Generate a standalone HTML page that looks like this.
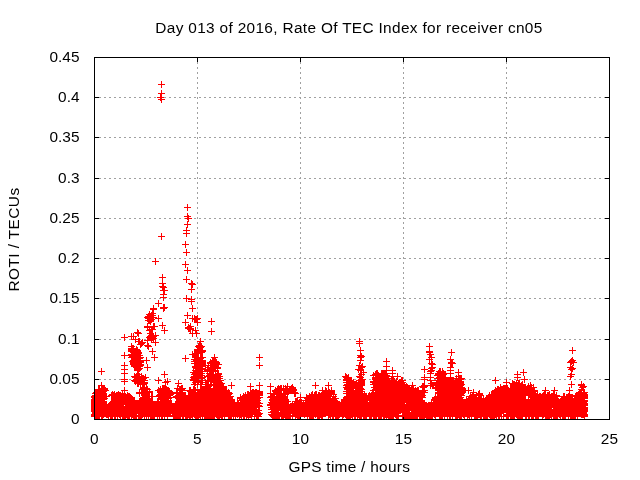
<!DOCTYPE html>
<html><head><meta charset="utf-8"><title>ROTI plot</title>
<style>
html,body{margin:0;padding:0;background:#fff;}
svg{display:block;}
text{font-family:"Liberation Sans",sans-serif;font-size:15.4px;fill:#000;letter-spacing:0.28px;}
</style></head><body>
<svg width="640" height="480" viewBox="0 0 640 480">
<rect x="0" y="0" width="640" height="480" fill="#fff"/>

<g stroke="#a0a0a0" stroke-width="1" stroke-dasharray="2 3" shape-rendering="crispEdges" fill="none">
<path d="M99 379.5H605"/>
<path d="M99 339.5H605"/>
<path d="M99 298.5H605"/>
<path d="M99 258.5H605"/>
<path d="M99 218.5H605"/>
<path d="M99 178.5H605"/>
<path d="M99 137.5H605"/>
<path d="M99 97.5H605"/>
<path d="M197.5 62V415"/>
<path d="M300.5 62V415"/>
<path d="M403.5 62V415"/>
<path d="M506.5 62V415"/>
</g>
<g stroke="#000" stroke-width="1" shape-rendering="crispEdges" fill="none">
<path d="M94 419.5h5M610 419.5h-5"/>
<path d="M94 379.5h5M610 379.5h-5"/>
<path d="M94 339.5h5M610 339.5h-5"/>
<path d="M94 298.5h5M610 298.5h-5"/>
<path d="M94 258.5h5M610 258.5h-5"/>
<path d="M94 218.5h5M610 218.5h-5"/>
<path d="M94 178.5h5M610 178.5h-5"/>
<path d="M94 137.5h5M610 137.5h-5"/>
<path d="M94 97.5h5M610 97.5h-5"/>
<path d="M94 57.5h5M610 57.5h-5"/>
<path d="M94.5 420v-5M94.5 57v5"/>
<path d="M197.5 420v-5M197.5 57v5"/>
<path d="M300.5 420v-5M300.5 57v5"/>
<path d="M403.5 420v-5M403.5 57v5"/>
<path d="M506.5 420v-5M506.5 57v5"/>
<path d="M609.5 420v-5M609.5 57v5"/>
</g>
<g><path d="M91 396.5h7M94.5 393v7M91 397.5h7M94.5 394v7M91 399.5h7M94.5 396v7M91 400.5h7M94.5 397v7M91 401.5h7M94.5 398v7M91 402.5h7M94.5 399v7M91 403.5h7M94.5 400v7M91 404.5h7M94.5 401v7M91 405.5h7M94.5 402v7M91 406.5h7M94.5 403v7M91 407.5h7M94.5 404v7M91 408.5h7M94.5 405v7M91 409.5h7M94.5 406v7M91 410.5h7M94.5 407v7M91 411.5h7M94.5 408v7M91 414.5h7M94.5 411v7M91 415.5h7M94.5 412v7M91 416.5h7M94.5 413v7M92 393.5h7M95.5 390v7M92 395.5h7M95.5 392v7M92 396.5h7M95.5 393v7M92 397.5h7M95.5 394v7M92 398.5h7M95.5 395v7M92 407.5h7M95.5 404v7M92 412.5h7M95.5 409v7M92 413.5h7M95.5 410v7M92 414.5h7M95.5 411v7M92 415.5h7M95.5 412v7M93 392.5h7M96.5 389v7M93 397.5h7M96.5 394v7M93 398.5h7M96.5 395v7M93 403.5h7M96.5 400v7M93 406.5h7M96.5 403v7M93 407.5h7M96.5 404v7M93 408.5h7M96.5 405v7M93 411.5h7M96.5 408v7M93 412.5h7M96.5 409v7M93 413.5h7M96.5 410v7M93 414.5h7M96.5 411v7M93 416.5h7M96.5 413v7M94 392.5h7M97.5 389v7M94 394.5h7M97.5 391v7M94 396.5h7M97.5 393v7M94 398.5h7M97.5 395v7M94 399.5h7M97.5 396v7M94 402.5h7M97.5 399v7M94 404.5h7M97.5 401v7M94 408.5h7M97.5 405v7M94 410.5h7M97.5 407v7M94 411.5h7M97.5 408v7M94 413.5h7M97.5 410v7M94 414.5h7M97.5 411v7M94 415.5h7M97.5 412v7M94 416.5h7M97.5 413v7M95 389.5h7M98.5 386v7M95 391.5h7M98.5 388v7M95 397.5h7M98.5 394v7M95 398.5h7M98.5 395v7M95 401.5h7M98.5 398v7M95 402.5h7M98.5 399v7M95 405.5h7M98.5 402v7M95 410.5h7M98.5 407v7M95 411.5h7M98.5 408v7M95 413.5h7M98.5 410v7M95 415.5h7M98.5 412v7M96 389.5h7M99.5 386v7M96 390.5h7M99.5 387v7M96 392.5h7M99.5 389v7M96 393.5h7M99.5 390v7M96 397.5h7M99.5 394v7M96 399.5h7M99.5 396v7M96 400.5h7M99.5 397v7M96 401.5h7M99.5 398v7M96 403.5h7M99.5 400v7M96 404.5h7M99.5 401v7M96 405.5h7M99.5 402v7M96 407.5h7M99.5 404v7M96 408.5h7M99.5 405v7M96 414.5h7M99.5 411v7M96 415.5h7M99.5 412v7M96 416.5h7M99.5 413v7M97 391.5h7M100.5 388v7M97 395.5h7M100.5 392v7M97 397.5h7M100.5 394v7M97 405.5h7M100.5 402v7M98 371.5h7M101.5 368v7M98 385.5h7M101.5 382v7M98 388.5h7M101.5 385v7M98 398.5h7M101.5 395v7M98 400.5h7M101.5 397v7M98 403.5h7M101.5 400v7M98 408.5h7M101.5 405v7M98 409.5h7M101.5 406v7M98 410.5h7M101.5 407v7M98 412.5h7M101.5 409v7M98 413.5h7M101.5 410v7M98 416.5h7M101.5 413v7M99 389.5h7M102.5 386v7M99 391.5h7M102.5 388v7M99 398.5h7M102.5 395v7M99 399.5h7M102.5 396v7M99 405.5h7M102.5 402v7M99 406.5h7M102.5 403v7M99 408.5h7M102.5 405v7M99 409.5h7M102.5 406v7M99 413.5h7M102.5 410v7M99 416.5h7M102.5 413v7M100 388.5h7M103.5 385v7M100 389.5h7M103.5 386v7M100 391.5h7M103.5 388v7M100 394.5h7M103.5 391v7M100 396.5h7M103.5 393v7M100 397.5h7M103.5 394v7M100 399.5h7M103.5 396v7M100 401.5h7M103.5 398v7M100 402.5h7M103.5 399v7M100 403.5h7M103.5 400v7M100 411.5h7M103.5 408v7M100 413.5h7M103.5 410v7M100 414.5h7M103.5 411v7M101 388.5h7M104.5 385v7M101 389.5h7M104.5 386v7M101 390.5h7M104.5 387v7M101 398.5h7M104.5 395v7M101 405.5h7M104.5 402v7M101 412.5h7M104.5 409v7M102 390.5h7M105.5 387v7M102 396.5h7M105.5 393v7M102 405.5h7M105.5 402v7M102 407.5h7M105.5 404v7M102 409.5h7M105.5 406v7M102 410.5h7M105.5 407v7M102 412.5h7M105.5 409v7M102 413.5h7M105.5 410v7M103 396.5h7M106.5 393v7M103 405.5h7M106.5 402v7M103 409.5h7M106.5 406v7M103 414.5h7M106.5 411v7M104 407.5h7M107.5 404v7M104 412.5h7M107.5 409v7M104 414.5h7M107.5 411v7M105 406.5h7M108.5 403v7M105 408.5h7M108.5 405v7M105 409.5h7M108.5 406v7M105 410.5h7M108.5 407v7M105 412.5h7M108.5 409v7M105 413.5h7M108.5 410v7M105 415.5h7M108.5 412v7M106 405.5h7M109.5 402v7M106 408.5h7M109.5 405v7M106 411.5h7M109.5 408v7M106 412.5h7M109.5 409v7M107 404.5h7M110.5 401v7M107 405.5h7M110.5 402v7M107 407.5h7M110.5 404v7M107 410.5h7M110.5 407v7M107 411.5h7M110.5 408v7M107 413.5h7M110.5 410v7M107 414.5h7M110.5 411v7M107 416.5h7M110.5 413v7M108 395.5h7M111.5 392v7M108 403.5h7M111.5 400v7M108 408.5h7M111.5 405v7M108 409.5h7M111.5 406v7M108 410.5h7M111.5 407v7M108 411.5h7M111.5 408v7M108 415.5h7M111.5 412v7M108 416.5h7M111.5 413v7M109 394.5h7M112.5 391v7M109 403.5h7M112.5 400v7M109 408.5h7M112.5 405v7M109 411.5h7M112.5 408v7M109 415.5h7M112.5 412v7M109 416.5h7M112.5 413v7M110 395.5h7M113.5 392v7M110 406.5h7M113.5 403v7M111 394.5h7M114.5 391v7M111 396.5h7M114.5 393v7M111 397.5h7M114.5 394v7M111 399.5h7M114.5 396v7M111 400.5h7M114.5 397v7M111 403.5h7M114.5 400v7M111 406.5h7M114.5 403v7M111 416.5h7M114.5 413v7M112 396.5h7M115.5 393v7M112 398.5h7M115.5 395v7M112 399.5h7M115.5 396v7M112 400.5h7M115.5 397v7M112 401.5h7M115.5 398v7M112 402.5h7M115.5 399v7M112 411.5h7M115.5 408v7M112 414.5h7M115.5 411v7M112 416.5h7M115.5 413v7M113 395.5h7M116.5 392v7M113 398.5h7M116.5 395v7M113 403.5h7M116.5 400v7M113 404.5h7M116.5 401v7M113 407.5h7M116.5 404v7M113 409.5h7M116.5 406v7M113 410.5h7M116.5 407v7M113 411.5h7M116.5 408v7M113 412.5h7M116.5 409v7M113 413.5h7M116.5 410v7M114 395.5h7M117.5 392v7M114 398.5h7M117.5 395v7M114 403.5h7M117.5 400v7M114 411.5h7M117.5 408v7M114 414.5h7M117.5 411v7M114 415.5h7M117.5 412v7M115 394.5h7M118.5 391v7M115 398.5h7M118.5 395v7M115 406.5h7M118.5 403v7M115 407.5h7M118.5 404v7M115 411.5h7M118.5 408v7M115 412.5h7M118.5 409v7M116 395.5h7M119.5 392v7M116 396.5h7M119.5 393v7M116 400.5h7M119.5 397v7M116 401.5h7M119.5 398v7M116 402.5h7M119.5 399v7M116 405.5h7M119.5 402v7M116 407.5h7M119.5 404v7M116 408.5h7M119.5 405v7M116 412.5h7M119.5 409v7M116 414.5h7M119.5 411v7M117 395.5h7M120.5 392v7M117 396.5h7M120.5 393v7M117 400.5h7M120.5 397v7M117 402.5h7M120.5 399v7M117 404.5h7M120.5 401v7M117 407.5h7M120.5 404v7M117 412.5h7M120.5 409v7M117 413.5h7M120.5 410v7M117 415.5h7M120.5 412v7M117 416.5h7M120.5 413v7M118 397.5h7M121.5 394v7M118 399.5h7M121.5 396v7M118 400.5h7M121.5 397v7M118 402.5h7M121.5 399v7M118 403.5h7M121.5 400v7M118 406.5h7M121.5 403v7M118 407.5h7M121.5 404v7M118 408.5h7M121.5 405v7M118 410.5h7M121.5 407v7M118 411.5h7M121.5 408v7M119 393.5h7M122.5 390v7M119 395.5h7M122.5 392v7M119 396.5h7M122.5 393v7M119 400.5h7M122.5 397v7M119 401.5h7M122.5 398v7M119 402.5h7M122.5 399v7M119 403.5h7M122.5 400v7M119 406.5h7M122.5 403v7M119 412.5h7M122.5 409v7M119 415.5h7M122.5 412v7M119 416.5h7M122.5 413v7M120 399.5h7M123.5 396v7M120 402.5h7M123.5 399v7M120 403.5h7M123.5 400v7M120 406.5h7M123.5 403v7M120 408.5h7M123.5 405v7M120 411.5h7M123.5 408v7M120 412.5h7M123.5 409v7M120 416.5h7M123.5 413v7M121 337.5h7M124.5 334v7M121 355.5h7M124.5 352v7M121 365.5h7M124.5 362v7M121 369.5h7M124.5 366v7M121 373.5h7M124.5 370v7M121 379.5h7M124.5 376v7M121 381.5h7M124.5 378v7M121 390.5h7M124.5 387v7M121 394.5h7M124.5 391v7M121 416.5h7M124.5 413v7M122 396.5h7M125.5 393v7M122 397.5h7M125.5 394v7M122 398.5h7M125.5 395v7M122 400.5h7M125.5 397v7M122 402.5h7M125.5 399v7M122 403.5h7M125.5 400v7M122 404.5h7M125.5 401v7M122 407.5h7M125.5 404v7M122 408.5h7M125.5 405v7M122 412.5h7M125.5 409v7M122 413.5h7M125.5 410v7M122 414.5h7M125.5 411v7M122 415.5h7M125.5 412v7M122 416.5h7M125.5 413v7M123 397.5h7M126.5 394v7M123 398.5h7M126.5 395v7M123 399.5h7M126.5 396v7M123 400.5h7M126.5 397v7M123 402.5h7M126.5 399v7M123 406.5h7M126.5 403v7M123 409.5h7M126.5 406v7M123 413.5h7M126.5 410v7M123 414.5h7M126.5 411v7M124 395.5h7M127.5 392v7M124 398.5h7M127.5 395v7M124 401.5h7M127.5 398v7M124 402.5h7M127.5 399v7M124 404.5h7M127.5 401v7M124 408.5h7M127.5 405v7M124 409.5h7M127.5 406v7M124 410.5h7M127.5 407v7M124 411.5h7M127.5 408v7M124 416.5h7M127.5 413v7M125 396.5h7M128.5 393v7M125 398.5h7M128.5 395v7M125 402.5h7M128.5 399v7M125 403.5h7M128.5 400v7M125 405.5h7M128.5 402v7M125 411.5h7M128.5 408v7M125 415.5h7M128.5 412v7M126 396.5h7M129.5 393v7M126 399.5h7M129.5 396v7M126 401.5h7M129.5 398v7M126 402.5h7M129.5 399v7M126 403.5h7M129.5 400v7M126 404.5h7M129.5 401v7M126 407.5h7M129.5 404v7M126 409.5h7M129.5 406v7M126 415.5h7M129.5 412v7M126 416.5h7M129.5 413v7M127 397.5h7M130.5 394v7M127 400.5h7M130.5 397v7M127 403.5h7M130.5 400v7M127 405.5h7M130.5 402v7M127 406.5h7M130.5 403v7M127 408.5h7M130.5 405v7M127 409.5h7M130.5 406v7M127 412.5h7M130.5 409v7M127 413.5h7M130.5 410v7M128 336.5h7M131.5 333v7M128 346.5h7M131.5 343v7M128 348.5h7M131.5 345v7M128 349.5h7M131.5 346v7M128 350.5h7M131.5 347v7M128 351.5h7M131.5 348v7M128 354.5h7M131.5 351v7M128 355.5h7M131.5 352v7M128 357.5h7M131.5 354v7M128 398.5h7M131.5 395v7M128 400.5h7M131.5 397v7M128 401.5h7M131.5 398v7M128 402.5h7M131.5 399v7M128 405.5h7M131.5 402v7M128 409.5h7M131.5 406v7M128 410.5h7M131.5 407v7M128 411.5h7M131.5 408v7M128 412.5h7M131.5 409v7M128 414.5h7M131.5 411v7M128 416.5h7M131.5 413v7M129 348.5h7M132.5 345v7M129 351.5h7M132.5 348v7M129 354.5h7M132.5 351v7M129 356.5h7M132.5 353v7M129 361.5h7M132.5 358v7M129 401.5h7M132.5 398v7M129 403.5h7M132.5 400v7M129 410.5h7M132.5 407v7M129 411.5h7M132.5 408v7M129 412.5h7M132.5 409v7M129 414.5h7M132.5 411v7M130 336.5h7M133.5 333v7M130 348.5h7M133.5 345v7M130 351.5h7M133.5 348v7M130 352.5h7M133.5 349v7M130 355.5h7M133.5 352v7M130 360.5h7M133.5 357v7M130 361.5h7M133.5 358v7M130 362.5h7M133.5 359v7M130 363.5h7M133.5 360v7M130 364.5h7M133.5 361v7M130 400.5h7M133.5 397v7M130 404.5h7M133.5 401v7M130 406.5h7M133.5 403v7M130 412.5h7M133.5 409v7M130 415.5h7M133.5 412v7M130 416.5h7M133.5 413v7M131 352.5h7M134.5 349v7M131 354.5h7M134.5 351v7M131 358.5h7M134.5 355v7M131 365.5h7M134.5 362v7M131 366.5h7M134.5 363v7M131 376.5h7M134.5 373v7M131 380.5h7M134.5 377v7M131 400.5h7M134.5 397v7M131 402.5h7M134.5 399v7M131 404.5h7M134.5 401v7M131 406.5h7M134.5 403v7M131 411.5h7M134.5 408v7M131 416.5h7M134.5 413v7M132 339.5h7M135.5 336v7M132 351.5h7M135.5 348v7M132 352.5h7M135.5 349v7M132 354.5h7M135.5 351v7M132 357.5h7M135.5 354v7M132 366.5h7M135.5 363v7M132 377.5h7M135.5 374v7M132 380.5h7M135.5 377v7M132 381.5h7M135.5 378v7M132 405.5h7M135.5 402v7M132 407.5h7M135.5 404v7M132 408.5h7M135.5 405v7M132 409.5h7M135.5 406v7M132 413.5h7M135.5 410v7M132 416.5h7M135.5 413v7M133 349.5h7M136.5 346v7M133 352.5h7M136.5 349v7M133 359.5h7M136.5 356v7M133 362.5h7M136.5 359v7M133 367.5h7M136.5 364v7M133 376.5h7M136.5 373v7M133 377.5h7M136.5 374v7M133 379.5h7M136.5 376v7M133 403.5h7M136.5 400v7M133 404.5h7M136.5 401v7M133 406.5h7M136.5 403v7M133 409.5h7M136.5 406v7M133 411.5h7M136.5 408v7M133 413.5h7M136.5 410v7M133 415.5h7M136.5 412v7M134 332.5h7M137.5 329v7M134 350.5h7M137.5 347v7M134 351.5h7M137.5 348v7M134 353.5h7M137.5 350v7M134 364.5h7M137.5 361v7M134 366.5h7M137.5 363v7M134 368.5h7M137.5 365v7M134 369.5h7M137.5 366v7M134 370.5h7M137.5 367v7M134 377.5h7M137.5 374v7M134 380.5h7M137.5 377v7M134 383.5h7M137.5 380v7M135 333.5h7M138.5 330v7M135 341.5h7M138.5 338v7M135 352.5h7M138.5 349v7M135 353.5h7M138.5 350v7M135 358.5h7M138.5 355v7M135 360.5h7M138.5 357v7M135 363.5h7M138.5 360v7M135 364.5h7M138.5 361v7M135 369.5h7M138.5 366v7M135 374.5h7M138.5 371v7M135 376.5h7M138.5 373v7M135 377.5h7M138.5 374v7M135 380.5h7M138.5 377v7M135 383.5h7M138.5 380v7M135 406.5h7M138.5 403v7M135 407.5h7M138.5 404v7M135 413.5h7M138.5 410v7M135 415.5h7M138.5 412v7M135 416.5h7M138.5 413v7M136 341.5h7M139.5 338v7M136 355.5h7M139.5 352v7M136 358.5h7M139.5 355v7M136 360.5h7M139.5 357v7M136 366.5h7M139.5 363v7M136 368.5h7M139.5 365v7M136 376.5h7M139.5 373v7M136 378.5h7M139.5 375v7M136 381.5h7M139.5 378v7M136 392.5h7M139.5 389v7M136 393.5h7M139.5 390v7M136 401.5h7M139.5 398v7M136 404.5h7M139.5 401v7M136 407.5h7M139.5 404v7M136 408.5h7M139.5 405v7M136 410.5h7M139.5 407v7M136 411.5h7M139.5 408v7M136 416.5h7M139.5 413v7M137 344.5h7M140.5 341v7M137 357.5h7M140.5 354v7M137 360.5h7M140.5 357v7M137 361.5h7M140.5 358v7M137 362.5h7M140.5 359v7M137 364.5h7M140.5 361v7M137 365.5h7M140.5 362v7M137 380.5h7M140.5 377v7M137 383.5h7M140.5 380v7M137 384.5h7M140.5 381v7M137 400.5h7M140.5 397v7M137 404.5h7M140.5 401v7M137 406.5h7M140.5 403v7M137 409.5h7M140.5 406v7M137 410.5h7M140.5 407v7M137 411.5h7M140.5 408v7M137 412.5h7M140.5 409v7M137 413.5h7M140.5 410v7M137 416.5h7M140.5 413v7M138 343.5h7M141.5 340v7M138 376.5h7M141.5 373v7M138 377.5h7M141.5 374v7M138 392.5h7M141.5 389v7M138 400.5h7M141.5 397v7M138 402.5h7M141.5 399v7M138 407.5h7M141.5 404v7M138 408.5h7M141.5 405v7M138 411.5h7M141.5 408v7M138 413.5h7M141.5 410v7M138 415.5h7M141.5 412v7M139 342.5h7M142.5 339v7M139 378.5h7M142.5 375v7M139 382.5h7M142.5 379v7M139 383.5h7M142.5 380v7M139 392.5h7M142.5 389v7M139 398.5h7M142.5 395v7M139 400.5h7M142.5 397v7M139 402.5h7M142.5 399v7M139 403.5h7M142.5 400v7M139 405.5h7M142.5 402v7M139 409.5h7M142.5 406v7M139 413.5h7M142.5 410v7M139 414.5h7M142.5 411v7M140 378.5h7M143.5 375v7M140 384.5h7M143.5 381v7M140 387.5h7M143.5 384v7M140 388.5h7M143.5 385v7M140 389.5h7M143.5 386v7M140 397.5h7M143.5 394v7M140 398.5h7M143.5 395v7M140 399.5h7M143.5 396v7M140 402.5h7M143.5 399v7M140 406.5h7M143.5 403v7M140 407.5h7M143.5 404v7M140 410.5h7M143.5 407v7M140 412.5h7M143.5 409v7M141 380.5h7M144.5 377v7M141 382.5h7M144.5 379v7M141 383.5h7M144.5 380v7M141 387.5h7M144.5 384v7M141 390.5h7M144.5 387v7M141 394.5h7M144.5 391v7M141 397.5h7M144.5 394v7M141 399.5h7M144.5 396v7M141 400.5h7M144.5 397v7M141 402.5h7M144.5 399v7M141 403.5h7M144.5 400v7M141 405.5h7M144.5 402v7M141 406.5h7M144.5 403v7M141 408.5h7M144.5 405v7M141 411.5h7M144.5 408v7M141 416.5h7M144.5 413v7M142 377.5h7M145.5 374v7M142 392.5h7M145.5 389v7M142 393.5h7M145.5 390v7M142 394.5h7M145.5 391v7M142 397.5h7M145.5 394v7M142 400.5h7M145.5 397v7M142 409.5h7M145.5 406v7M142 411.5h7M145.5 408v7M142 413.5h7M145.5 410v7M143 360.5h7M146.5 357v7M143 388.5h7M146.5 385v7M143 392.5h7M146.5 389v7M143 393.5h7M146.5 390v7M143 398.5h7M146.5 395v7M143 400.5h7M146.5 397v7M143 403.5h7M146.5 400v7M143 408.5h7M146.5 405v7M143 409.5h7M146.5 406v7M143 410.5h7M146.5 407v7M143 414.5h7M146.5 411v7M143 416.5h7M146.5 413v7M144 317.5h7M147.5 314v7M144 326.5h7M147.5 323v7M144 327.5h7M147.5 324v7M144 340.5h7M147.5 337v7M144 345.5h7M147.5 342v7M144 367.5h7M147.5 364v7M144 389.5h7M147.5 386v7M144 391.5h7M147.5 388v7M144 392.5h7M147.5 389v7M144 400.5h7M147.5 397v7M144 401.5h7M147.5 398v7M144 402.5h7M147.5 399v7M144 403.5h7M147.5 400v7M144 404.5h7M147.5 401v7M144 407.5h7M147.5 404v7M144 409.5h7M147.5 406v7M144 411.5h7M147.5 408v7M144 412.5h7M147.5 409v7M144 413.5h7M147.5 410v7M145 316.5h7M148.5 313v7M145 318.5h7M148.5 315v7M145 320.5h7M148.5 317v7M145 346.5h7M148.5 343v7M145 396.5h7M148.5 393v7M145 398.5h7M148.5 395v7M145 399.5h7M148.5 396v7M145 401.5h7M148.5 398v7M145 405.5h7M148.5 402v7M145 408.5h7M148.5 405v7M145 409.5h7M148.5 406v7M145 411.5h7M148.5 408v7M145 413.5h7M148.5 410v7M145 415.5h7M148.5 412v7M145 416.5h7M148.5 413v7M146 314.5h7M149.5 311v7M146 317.5h7M149.5 314v7M146 318.5h7M149.5 315v7M146 320.5h7M149.5 317v7M146 330.5h7M149.5 327v7M146 337.5h7M149.5 334v7M146 391.5h7M149.5 388v7M146 392.5h7M149.5 389v7M146 399.5h7M149.5 396v7M146 400.5h7M149.5 397v7M146 402.5h7M149.5 399v7M146 405.5h7M149.5 402v7M146 406.5h7M149.5 403v7M146 409.5h7M149.5 406v7M146 412.5h7M149.5 409v7M146 413.5h7M149.5 410v7M147 316.5h7M150.5 313v7M147 318.5h7M150.5 315v7M147 319.5h7M150.5 316v7M147 321.5h7M150.5 318v7M147 333.5h7M150.5 330v7M147 336.5h7M150.5 333v7M147 402.5h7M150.5 399v7M147 403.5h7M150.5 400v7M147 404.5h7M150.5 401v7M147 406.5h7M150.5 403v7M147 407.5h7M150.5 404v7M147 408.5h7M150.5 405v7M147 410.5h7M150.5 407v7M147 415.5h7M150.5 412v7M147 416.5h7M150.5 413v7M148 315.5h7M151.5 312v7M148 317.5h7M151.5 314v7M148 319.5h7M151.5 316v7M148 329.5h7M151.5 326v7M148 335.5h7M151.5 332v7M148 338.5h7M151.5 335v7M148 339.5h7M151.5 336v7M148 396.5h7M151.5 393v7M148 401.5h7M151.5 398v7M148 402.5h7M151.5 399v7M148 406.5h7M151.5 403v7M148 407.5h7M151.5 404v7M148 408.5h7M151.5 405v7M148 410.5h7M151.5 407v7M148 414.5h7M151.5 411v7M148 416.5h7M151.5 413v7M149 313.5h7M152.5 310v7M149 315.5h7M152.5 312v7M149 329.5h7M152.5 326v7M149 335.5h7M152.5 332v7M149 336.5h7M152.5 333v7M149 337.5h7M152.5 334v7M149 351.5h7M152.5 348v7M149 396.5h7M152.5 393v7M149 401.5h7M152.5 398v7M149 403.5h7M152.5 400v7M149 404.5h7M152.5 401v7M149 405.5h7M152.5 402v7M149 407.5h7M152.5 404v7M149 408.5h7M152.5 405v7M149 411.5h7M152.5 408v7M149 413.5h7M152.5 410v7M149 416.5h7M152.5 413v7M150 308.5h7M153.5 305v7M150 309.5h7M153.5 306v7M150 317.5h7M153.5 314v7M150 326.5h7M153.5 323v7M150 336.5h7M153.5 333v7M150 338.5h7M153.5 335v7M150 405.5h7M153.5 402v7M150 406.5h7M153.5 403v7M150 407.5h7M153.5 404v7M150 408.5h7M153.5 405v7M150 409.5h7M153.5 406v7M150 410.5h7M153.5 407v7M150 415.5h7M153.5 412v7M151 326.5h7M154.5 323v7M151 357.5h7M154.5 354v7M151 408.5h7M154.5 405v7M151 410.5h7M154.5 407v7M151 413.5h7M154.5 410v7M151 416.5h7M154.5 413v7M152 261.5h7M155.5 258v7M152 335.5h7M155.5 332v7M152 342.5h7M155.5 339v7M152 406.5h7M155.5 403v7M152 408.5h7M155.5 405v7M152 409.5h7M155.5 406v7M152 410.5h7M155.5 407v7M152 412.5h7M155.5 409v7M153 404.5h7M156.5 401v7M153 405.5h7M156.5 402v7M153 407.5h7M156.5 404v7M153 411.5h7M156.5 408v7M153 412.5h7M156.5 409v7M153 413.5h7M156.5 410v7M154 402.5h7M157.5 399v7M154 404.5h7M157.5 401v7M154 408.5h7M157.5 405v7M154 416.5h7M157.5 413v7M155 303.5h7M158.5 300v7M155 318.5h7M158.5 315v7M155 380.5h7M158.5 377v7M155 390.5h7M158.5 387v7M155 401.5h7M158.5 398v7M155 402.5h7M158.5 399v7M155 404.5h7M158.5 401v7M155 405.5h7M158.5 402v7M155 406.5h7M158.5 403v7M155 408.5h7M158.5 405v7M155 409.5h7M158.5 406v7M155 412.5h7M158.5 409v7M156 395.5h7M159.5 392v7M156 396.5h7M159.5 393v7M156 404.5h7M159.5 401v7M156 408.5h7M159.5 405v7M156 409.5h7M159.5 406v7M156 412.5h7M159.5 409v7M156 413.5h7M159.5 410v7M156 415.5h7M159.5 412v7M157 97.5h7M160.5 94v7M157 389.5h7M160.5 386v7M157 390.5h7M160.5 387v7M157 391.5h7M160.5 388v7M157 392.5h7M160.5 389v7M157 394.5h7M160.5 391v7M157 398.5h7M160.5 395v7M157 401.5h7M160.5 398v7M157 402.5h7M160.5 399v7M157 407.5h7M160.5 404v7M157 409.5h7M160.5 406v7M157 410.5h7M160.5 407v7M158 84.5h7M161.5 81v7M158 93.5h7M161.5 90v7M158 99.5h7M161.5 96v7M158 236.5h7M161.5 233v7M158 392.5h7M161.5 389v7M158 393.5h7M161.5 390v7M158 395.5h7M161.5 392v7M158 396.5h7M161.5 393v7M158 397.5h7M161.5 394v7M158 401.5h7M161.5 398v7M158 408.5h7M161.5 405v7M158 410.5h7M161.5 407v7M158 411.5h7M161.5 408v7M158 412.5h7M161.5 409v7M158 415.5h7M161.5 412v7M158 416.5h7M161.5 413v7M159 277.5h7M162.5 274v7M159 283.5h7M162.5 280v7M159 286.5h7M162.5 283v7M159 325.5h7M162.5 322v7M159 388.5h7M162.5 385v7M159 391.5h7M162.5 388v7M159 392.5h7M162.5 389v7M159 395.5h7M162.5 392v7M159 404.5h7M162.5 401v7M159 405.5h7M162.5 402v7M159 406.5h7M162.5 403v7M159 408.5h7M162.5 405v7M159 410.5h7M162.5 407v7M159 411.5h7M162.5 408v7M159 412.5h7M162.5 409v7M159 414.5h7M162.5 411v7M159 416.5h7M162.5 413v7M160 287.5h7M163.5 284v7M160 290.5h7M163.5 287v7M160 294.5h7M163.5 291v7M160 297.5h7M163.5 294v7M160 307.5h7M163.5 304v7M160 308.5h7M163.5 305v7M160 388.5h7M163.5 385v7M160 390.5h7M163.5 387v7M160 391.5h7M163.5 388v7M160 392.5h7M163.5 389v7M160 393.5h7M163.5 390v7M160 395.5h7M163.5 392v7M160 396.5h7M163.5 393v7M160 397.5h7M163.5 394v7M160 400.5h7M163.5 397v7M160 406.5h7M163.5 403v7M160 410.5h7M163.5 407v7M161 290.5h7M164.5 287v7M161 307.5h7M164.5 304v7M161 330.5h7M164.5 327v7M161 374.5h7M164.5 371v7M161 388.5h7M164.5 385v7M161 389.5h7M164.5 386v7M161 390.5h7M164.5 387v7M161 391.5h7M164.5 388v7M161 392.5h7M164.5 389v7M161 393.5h7M164.5 390v7M161 395.5h7M164.5 392v7M161 397.5h7M164.5 394v7M161 398.5h7M164.5 395v7M161 400.5h7M164.5 397v7M161 410.5h7M164.5 407v7M161 414.5h7M164.5 411v7M161 416.5h7M164.5 413v7M162 382.5h7M165.5 379v7M162 389.5h7M165.5 386v7M162 391.5h7M165.5 388v7M162 394.5h7M165.5 391v7M162 396.5h7M165.5 393v7M162 397.5h7M165.5 394v7M162 399.5h7M165.5 396v7M162 400.5h7M165.5 397v7M162 401.5h7M165.5 398v7M162 403.5h7M165.5 400v7M162 407.5h7M165.5 404v7M162 408.5h7M165.5 405v7M162 409.5h7M165.5 406v7M162 410.5h7M165.5 407v7M162 412.5h7M165.5 409v7M163 389.5h7M166.5 386v7M163 391.5h7M166.5 388v7M163 393.5h7M166.5 390v7M163 397.5h7M166.5 394v7M163 400.5h7M166.5 397v7M163 401.5h7M166.5 398v7M163 404.5h7M166.5 401v7M163 405.5h7M166.5 402v7M163 406.5h7M166.5 403v7M163 408.5h7M166.5 405v7M163 410.5h7M166.5 407v7M163 412.5h7M166.5 409v7M164 381.5h7M167.5 378v7M164 390.5h7M167.5 387v7M164 397.5h7M167.5 394v7M164 401.5h7M167.5 398v7M164 407.5h7M167.5 404v7M164 411.5h7M167.5 408v7M164 416.5h7M167.5 413v7M165 390.5h7M168.5 387v7M165 398.5h7M168.5 395v7M165 401.5h7M168.5 398v7M165 406.5h7M168.5 403v7M165 407.5h7M168.5 404v7M165 409.5h7M168.5 406v7M165 413.5h7M168.5 410v7M166 391.5h7M169.5 388v7M166 392.5h7M169.5 389v7M166 393.5h7M169.5 390v7M166 394.5h7M169.5 391v7M166 395.5h7M169.5 392v7M166 404.5h7M169.5 401v7M166 406.5h7M169.5 403v7M166 410.5h7M169.5 407v7M166 413.5h7M169.5 410v7M167 394.5h7M170.5 391v7M167 397.5h7M170.5 394v7M167 405.5h7M170.5 402v7M167 406.5h7M170.5 403v7M167 410.5h7M170.5 407v7M167 411.5h7M170.5 408v7M167 413.5h7M170.5 410v7M168 403.5h7M171.5 400v7M168 405.5h7M171.5 402v7M168 407.5h7M171.5 404v7M168 409.5h7M171.5 406v7M169 408.5h7M172.5 405v7M169 410.5h7M172.5 407v7M169 412.5h7M172.5 409v7M170 406.5h7M173.5 403v7M170 409.5h7M173.5 406v7M170 412.5h7M173.5 409v7M170 416.5h7M173.5 413v7M171 411.5h7M174.5 408v7M171 415.5h7M174.5 412v7M172 405.5h7M175.5 402v7M172 406.5h7M175.5 403v7M172 410.5h7M175.5 407v7M172 414.5h7M175.5 411v7M172 416.5h7M175.5 413v7M173 392.5h7M176.5 389v7M173 393.5h7M176.5 390v7M173 396.5h7M176.5 393v7M173 403.5h7M176.5 400v7M173 405.5h7M176.5 402v7M173 407.5h7M176.5 404v7M173 409.5h7M176.5 406v7M173 410.5h7M176.5 407v7M173 415.5h7M176.5 412v7M174 388.5h7M177.5 385v7M174 396.5h7M177.5 393v7M174 397.5h7M177.5 394v7M174 403.5h7M177.5 400v7M174 404.5h7M177.5 401v7M174 405.5h7M177.5 402v7M174 409.5h7M177.5 406v7M174 411.5h7M177.5 408v7M174 412.5h7M177.5 409v7M174 413.5h7M177.5 410v7M174 416.5h7M177.5 413v7M175 383.5h7M178.5 380v7M175 395.5h7M178.5 392v7M175 397.5h7M178.5 394v7M175 398.5h7M178.5 395v7M175 401.5h7M178.5 398v7M175 404.5h7M178.5 401v7M175 406.5h7M178.5 403v7M175 410.5h7M178.5 407v7M175 411.5h7M178.5 408v7M175 412.5h7M178.5 409v7M175 413.5h7M178.5 410v7M175 415.5h7M178.5 412v7M176 389.5h7M179.5 386v7M176 392.5h7M179.5 389v7M176 395.5h7M179.5 392v7M176 397.5h7M179.5 394v7M176 398.5h7M179.5 395v7M176 401.5h7M179.5 398v7M176 405.5h7M179.5 402v7M176 406.5h7M179.5 403v7M176 407.5h7M179.5 404v7M176 408.5h7M179.5 405v7M176 413.5h7M179.5 410v7M176 415.5h7M179.5 412v7M177 389.5h7M180.5 386v7M177 390.5h7M180.5 387v7M177 394.5h7M180.5 391v7M177 396.5h7M180.5 393v7M177 401.5h7M180.5 398v7M177 405.5h7M180.5 402v7M177 411.5h7M180.5 408v7M177 416.5h7M180.5 413v7M178 388.5h7M181.5 385v7M178 389.5h7M181.5 386v7M178 390.5h7M181.5 387v7M178 392.5h7M181.5 389v7M178 393.5h7M181.5 390v7M178 397.5h7M181.5 394v7M178 398.5h7M181.5 395v7M178 399.5h7M181.5 396v7M178 403.5h7M181.5 400v7M178 407.5h7M181.5 404v7M178 410.5h7M181.5 407v7M178 412.5h7M181.5 409v7M179 388.5h7M182.5 385v7M179 390.5h7M182.5 387v7M179 392.5h7M182.5 389v7M179 394.5h7M182.5 391v7M179 395.5h7M182.5 392v7M179 396.5h7M182.5 393v7M179 397.5h7M182.5 394v7M179 403.5h7M182.5 400v7M179 407.5h7M182.5 404v7M179 409.5h7M182.5 406v7M179 410.5h7M182.5 407v7M179 413.5h7M182.5 410v7M179 414.5h7M182.5 411v7M179 416.5h7M182.5 413v7M180 396.5h7M183.5 393v7M180 398.5h7M183.5 395v7M180 399.5h7M183.5 396v7M180 401.5h7M183.5 398v7M180 405.5h7M183.5 402v7M180 406.5h7M183.5 403v7M180 410.5h7M183.5 407v7M180 412.5h7M183.5 409v7M180 413.5h7M183.5 410v7M180 416.5h7M183.5 413v7M181 396.5h7M184.5 393v7M181 399.5h7M184.5 396v7M181 400.5h7M184.5 397v7M181 401.5h7M184.5 398v7M181 403.5h7M184.5 400v7M181 404.5h7M184.5 401v7M181 405.5h7M184.5 402v7M181 406.5h7M184.5 403v7M181 408.5h7M184.5 405v7M181 409.5h7M184.5 406v7M181 410.5h7M184.5 407v7M181 413.5h7M184.5 410v7M182 244.5h7M185.5 241v7M182 264.5h7M185.5 261v7M182 322.5h7M185.5 319v7M182 358.5h7M185.5 355v7M182 396.5h7M185.5 393v7M182 397.5h7M185.5 394v7M182 399.5h7M185.5 396v7M182 401.5h7M185.5 398v7M182 403.5h7M185.5 400v7M182 408.5h7M185.5 405v7M182 409.5h7M185.5 406v7M182 411.5h7M185.5 408v7M182 414.5h7M185.5 411v7M182 416.5h7M185.5 413v7M183 230.5h7M186.5 227v7M183 233.5h7M186.5 230v7M183 252.5h7M186.5 249v7M183 279.5h7M186.5 276v7M183 298.5h7M186.5 295v7M183 398.5h7M186.5 395v7M183 400.5h7M186.5 397v7M183 401.5h7M186.5 398v7M183 408.5h7M186.5 405v7M183 410.5h7M186.5 407v7M183 412.5h7M186.5 409v7M183 414.5h7M186.5 411v7M183 416.5h7M186.5 413v7M184 207.5h7M187.5 204v7M184 216.5h7M187.5 213v7M184 224.5h7M187.5 221v7M184 270.5h7M187.5 267v7M184 315.5h7M187.5 312v7M184 398.5h7M187.5 395v7M184 399.5h7M187.5 396v7M184 400.5h7M187.5 397v7M184 408.5h7M187.5 405v7M184 415.5h7M187.5 412v7M185 218.5h7M188.5 215v7M185 327.5h7M188.5 324v7M185 328.5h7M188.5 325v7M185 396.5h7M188.5 393v7M185 397.5h7M188.5 394v7M185 404.5h7M188.5 401v7M185 405.5h7M188.5 402v7M185 410.5h7M188.5 407v7M185 411.5h7M188.5 408v7M185 412.5h7M188.5 409v7M185 414.5h7M188.5 411v7M186 328.5h7M189.5 325v7M186 390.5h7M189.5 387v7M186 395.5h7M189.5 392v7M186 396.5h7M189.5 393v7M186 397.5h7M189.5 394v7M186 400.5h7M189.5 397v7M186 401.5h7M189.5 398v7M186 403.5h7M189.5 400v7M186 405.5h7M189.5 402v7M186 407.5h7M189.5 404v7M186 408.5h7M189.5 405v7M186 409.5h7M189.5 406v7M186 410.5h7M189.5 407v7M186 415.5h7M189.5 412v7M187 326.5h7M190.5 323v7M187 328.5h7M190.5 325v7M187 329.5h7M190.5 326v7M187 390.5h7M190.5 387v7M187 391.5h7M190.5 388v7M187 395.5h7M190.5 392v7M187 399.5h7M190.5 396v7M187 402.5h7M190.5 399v7M187 404.5h7M190.5 401v7M187 405.5h7M190.5 402v7M187 410.5h7M190.5 407v7M187 413.5h7M190.5 410v7M187 415.5h7M190.5 412v7M187 416.5h7M190.5 413v7M188 283.5h7M191.5 280v7M188 289.5h7M191.5 286v7M188 299.5h7M191.5 296v7M188 301.5h7M191.5 298v7M188 392.5h7M191.5 389v7M188 394.5h7M191.5 391v7M188 397.5h7M191.5 394v7M188 398.5h7M191.5 395v7M188 404.5h7M191.5 401v7M188 405.5h7M191.5 402v7M188 406.5h7M191.5 403v7M188 408.5h7M191.5 405v7M188 409.5h7M191.5 406v7M188 410.5h7M191.5 407v7M188 411.5h7M191.5 408v7M188 412.5h7M191.5 409v7M188 413.5h7M191.5 410v7M188 414.5h7M191.5 411v7M189 284.5h7M192.5 281v7M189 308.5h7M192.5 305v7M189 318.5h7M192.5 315v7M189 333.5h7M192.5 330v7M189 354.5h7M192.5 351v7M189 393.5h7M192.5 390v7M189 394.5h7M192.5 391v7M189 395.5h7M192.5 392v7M189 396.5h7M192.5 393v7M189 400.5h7M192.5 397v7M189 401.5h7M192.5 398v7M189 403.5h7M192.5 400v7M189 410.5h7M192.5 407v7M189 413.5h7M192.5 410v7M189 416.5h7M192.5 413v7M190 372.5h7M193.5 369v7M190 377.5h7M193.5 374v7M190 379.5h7M193.5 376v7M190 380.5h7M193.5 377v7M190 389.5h7M193.5 386v7M190 390.5h7M193.5 387v7M190 392.5h7M193.5 389v7M190 393.5h7M193.5 390v7M190 394.5h7M193.5 391v7M190 399.5h7M193.5 396v7M190 400.5h7M193.5 397v7M190 401.5h7M193.5 398v7M190 402.5h7M193.5 399v7M190 403.5h7M193.5 400v7M190 405.5h7M193.5 402v7M190 408.5h7M193.5 405v7M190 409.5h7M193.5 406v7M191 318.5h7M194.5 315v7M191 354.5h7M194.5 351v7M191 359.5h7M194.5 356v7M191 361.5h7M194.5 358v7M191 363.5h7M194.5 360v7M191 374.5h7M194.5 371v7M191 376.5h7M194.5 373v7M191 378.5h7M194.5 375v7M191 380.5h7M194.5 377v7M191 384.5h7M194.5 381v7M191 389.5h7M194.5 386v7M191 393.5h7M194.5 390v7M191 396.5h7M194.5 393v7M191 397.5h7M194.5 394v7M191 399.5h7M194.5 396v7M191 401.5h7M194.5 398v7M191 403.5h7M194.5 400v7M191 404.5h7M194.5 401v7M191 406.5h7M194.5 403v7M191 411.5h7M194.5 408v7M191 412.5h7M194.5 409v7M191 414.5h7M194.5 411v7M192 319.5h7M195.5 316v7M192 330.5h7M195.5 327v7M192 355.5h7M195.5 352v7M192 356.5h7M195.5 353v7M192 357.5h7M195.5 354v7M192 366.5h7M195.5 363v7M192 367.5h7M195.5 364v7M192 370.5h7M195.5 367v7M192 373.5h7M195.5 370v7M192 377.5h7M195.5 374v7M192 382.5h7M195.5 379v7M192 390.5h7M195.5 387v7M192 395.5h7M195.5 392v7M192 397.5h7M195.5 394v7M192 399.5h7M195.5 396v7M192 402.5h7M195.5 399v7M192 410.5h7M195.5 407v7M192 413.5h7M195.5 410v7M192 414.5h7M195.5 411v7M192 415.5h7M195.5 412v7M193 319.5h7M196.5 316v7M193 333.5h7M196.5 330v7M193 353.5h7M196.5 350v7M193 360.5h7M196.5 357v7M193 368.5h7M196.5 365v7M193 372.5h7M196.5 369v7M193 374.5h7M196.5 371v7M193 375.5h7M196.5 372v7M193 377.5h7M196.5 374v7M193 378.5h7M196.5 375v7M193 397.5h7M196.5 394v7M193 399.5h7M196.5 396v7M193 400.5h7M196.5 397v7M193 402.5h7M196.5 399v7M193 404.5h7M196.5 401v7M193 410.5h7M196.5 407v7M193 412.5h7M196.5 409v7M193 416.5h7M196.5 413v7M194 318.5h7M197.5 315v7M194 322.5h7M197.5 319v7M194 349.5h7M197.5 346v7M194 350.5h7M197.5 347v7M194 358.5h7M197.5 355v7M194 361.5h7M197.5 358v7M194 362.5h7M197.5 359v7M194 363.5h7M197.5 360v7M194 366.5h7M197.5 363v7M194 371.5h7M197.5 368v7M194 382.5h7M197.5 379v7M194 384.5h7M197.5 381v7M194 393.5h7M197.5 390v7M194 395.5h7M197.5 392v7M194 405.5h7M197.5 402v7M194 406.5h7M197.5 403v7M194 407.5h7M197.5 404v7M194 409.5h7M197.5 406v7M194 415.5h7M197.5 412v7M194 416.5h7M197.5 413v7M195 346.5h7M198.5 343v7M195 349.5h7M198.5 346v7M195 351.5h7M198.5 348v7M195 352.5h7M198.5 349v7M195 353.5h7M198.5 350v7M195 357.5h7M198.5 354v7M195 369.5h7M198.5 366v7M195 373.5h7M198.5 370v7M195 376.5h7M198.5 373v7M195 381.5h7M198.5 378v7M195 392.5h7M198.5 389v7M195 395.5h7M198.5 392v7M195 400.5h7M198.5 397v7M195 401.5h7M198.5 398v7M195 404.5h7M198.5 401v7M195 409.5h7M198.5 406v7M195 410.5h7M198.5 407v7M195 412.5h7M198.5 409v7M195 413.5h7M198.5 410v7M195 414.5h7M198.5 411v7M195 415.5h7M198.5 412v7M195 416.5h7M198.5 413v7M196 345.5h7M199.5 342v7M196 347.5h7M199.5 344v7M196 360.5h7M199.5 357v7M196 361.5h7M199.5 358v7M196 362.5h7M199.5 359v7M196 364.5h7M199.5 361v7M196 366.5h7M199.5 363v7M196 368.5h7M199.5 365v7M196 372.5h7M199.5 369v7M196 394.5h7M199.5 391v7M196 397.5h7M199.5 394v7M196 405.5h7M199.5 402v7M196 409.5h7M199.5 406v7M196 411.5h7M199.5 408v7M196 412.5h7M199.5 409v7M196 414.5h7M199.5 411v7M197 341.5h7M200.5 338v7M197 347.5h7M200.5 344v7M197 350.5h7M200.5 347v7M197 352.5h7M200.5 349v7M197 358.5h7M200.5 355v7M197 363.5h7M200.5 360v7M197 365.5h7M200.5 362v7M197 366.5h7M200.5 363v7M197 371.5h7M200.5 368v7M197 384.5h7M200.5 381v7M197 389.5h7M200.5 386v7M197 395.5h7M200.5 392v7M197 399.5h7M200.5 396v7M197 400.5h7M200.5 397v7M197 401.5h7M200.5 398v7M197 404.5h7M200.5 401v7M197 412.5h7M200.5 409v7M197 414.5h7M200.5 411v7M197 415.5h7M200.5 412v7M197 416.5h7M200.5 413v7M198 346.5h7M201.5 343v7M198 350.5h7M201.5 347v7M198 352.5h7M201.5 349v7M198 357.5h7M201.5 354v7M198 361.5h7M201.5 358v7M198 362.5h7M201.5 359v7M198 366.5h7M201.5 363v7M198 368.5h7M201.5 365v7M198 373.5h7M201.5 370v7M198 375.5h7M201.5 372v7M198 378.5h7M201.5 375v7M198 380.5h7M201.5 377v7M198 384.5h7M201.5 381v7M198 389.5h7M201.5 386v7M198 390.5h7M201.5 387v7M198 393.5h7M201.5 390v7M198 398.5h7M201.5 395v7M198 400.5h7M201.5 397v7M198 401.5h7M201.5 398v7M198 402.5h7M201.5 399v7M198 408.5h7M201.5 405v7M198 412.5h7M201.5 409v7M199 350.5h7M202.5 347v7M199 351.5h7M202.5 348v7M199 357.5h7M202.5 354v7M199 360.5h7M202.5 357v7M199 361.5h7M202.5 358v7M199 363.5h7M202.5 360v7M199 364.5h7M202.5 361v7M199 366.5h7M202.5 363v7M199 369.5h7M202.5 366v7M199 371.5h7M202.5 368v7M199 377.5h7M202.5 374v7M199 380.5h7M202.5 377v7M199 389.5h7M202.5 386v7M199 390.5h7M202.5 387v7M199 396.5h7M202.5 393v7M199 403.5h7M202.5 400v7M199 410.5h7M202.5 407v7M199 416.5h7M202.5 413v7M200 389.5h7M203.5 386v7M200 391.5h7M203.5 388v7M200 393.5h7M203.5 390v7M200 396.5h7M203.5 393v7M200 398.5h7M203.5 395v7M200 408.5h7M203.5 405v7M200 413.5h7M203.5 410v7M201 390.5h7M204.5 387v7M201 394.5h7M204.5 391v7M201 398.5h7M204.5 395v7M201 401.5h7M204.5 398v7M201 408.5h7M204.5 405v7M201 410.5h7M204.5 407v7M201 411.5h7M204.5 408v7M201 416.5h7M204.5 413v7M202 365.5h7M205.5 362v7M202 382.5h7M205.5 379v7M202 384.5h7M205.5 381v7M202 386.5h7M205.5 383v7M202 387.5h7M205.5 384v7M202 389.5h7M205.5 386v7M202 391.5h7M205.5 388v7M202 392.5h7M205.5 389v7M202 394.5h7M205.5 391v7M202 395.5h7M205.5 392v7M202 398.5h7M205.5 395v7M202 399.5h7M205.5 396v7M202 400.5h7M205.5 397v7M202 401.5h7M205.5 398v7M202 404.5h7M205.5 401v7M202 407.5h7M205.5 404v7M202 410.5h7M205.5 407v7M202 413.5h7M205.5 410v7M202 415.5h7M205.5 412v7M202 416.5h7M205.5 413v7M203 384.5h7M206.5 381v7M203 389.5h7M206.5 386v7M203 395.5h7M206.5 392v7M203 396.5h7M206.5 393v7M203 398.5h7M206.5 395v7M203 400.5h7M206.5 397v7M203 406.5h7M206.5 403v7M203 407.5h7M206.5 404v7M203 409.5h7M206.5 406v7M203 412.5h7M206.5 409v7M203 413.5h7M206.5 410v7M203 414.5h7M206.5 411v7M203 416.5h7M206.5 413v7M204 369.5h7M207.5 366v7M204 370.5h7M207.5 367v7M204 376.5h7M207.5 373v7M204 380.5h7M207.5 377v7M204 388.5h7M207.5 385v7M204 390.5h7M207.5 387v7M204 394.5h7M207.5 391v7M204 395.5h7M207.5 392v7M204 396.5h7M207.5 393v7M204 400.5h7M207.5 397v7M204 401.5h7M207.5 398v7M204 402.5h7M207.5 399v7M204 404.5h7M207.5 401v7M204 405.5h7M207.5 402v7M204 408.5h7M207.5 405v7M204 410.5h7M207.5 407v7M204 412.5h7M207.5 409v7M204 413.5h7M207.5 410v7M204 414.5h7M207.5 411v7M204 415.5h7M207.5 412v7M204 416.5h7M207.5 413v7M205 367.5h7M208.5 364v7M205 376.5h7M208.5 373v7M205 384.5h7M208.5 381v7M205 386.5h7M208.5 383v7M205 388.5h7M208.5 385v7M205 389.5h7M208.5 386v7M205 390.5h7M208.5 387v7M205 392.5h7M208.5 389v7M205 393.5h7M208.5 390v7M205 397.5h7M208.5 394v7M205 412.5h7M208.5 409v7M205 413.5h7M208.5 410v7M205 415.5h7M208.5 412v7M206 371.5h7M209.5 368v7M206 373.5h7M209.5 370v7M206 375.5h7M209.5 372v7M206 388.5h7M209.5 385v7M206 391.5h7M209.5 388v7M206 392.5h7M209.5 389v7M206 405.5h7M209.5 402v7M206 406.5h7M209.5 403v7M206 410.5h7M209.5 407v7M206 414.5h7M209.5 411v7M206 416.5h7M209.5 413v7M207 362.5h7M210.5 359v7M207 363.5h7M210.5 360v7M207 368.5h7M210.5 365v7M207 375.5h7M210.5 372v7M207 376.5h7M210.5 373v7M207 384.5h7M210.5 381v7M207 385.5h7M210.5 382v7M207 388.5h7M210.5 385v7M207 389.5h7M210.5 386v7M207 390.5h7M210.5 387v7M207 393.5h7M210.5 390v7M207 400.5h7M210.5 397v7M207 404.5h7M210.5 401v7M207 407.5h7M210.5 404v7M207 410.5h7M210.5 407v7M207 411.5h7M210.5 408v7M207 413.5h7M210.5 410v7M207 414.5h7M210.5 411v7M207 416.5h7M210.5 413v7M208 321.5h7M211.5 318v7M208 331.5h7M211.5 328v7M208 365.5h7M211.5 362v7M208 369.5h7M211.5 366v7M208 376.5h7M211.5 373v7M208 381.5h7M211.5 378v7M208 392.5h7M211.5 389v7M208 394.5h7M211.5 391v7M208 398.5h7M211.5 395v7M208 399.5h7M211.5 396v7M208 401.5h7M211.5 398v7M208 402.5h7M211.5 399v7M208 403.5h7M211.5 400v7M208 404.5h7M211.5 401v7M208 407.5h7M211.5 404v7M208 408.5h7M211.5 405v7M208 410.5h7M211.5 407v7M208 414.5h7M211.5 411v7M208 416.5h7M211.5 413v7M209 361.5h7M212.5 358v7M209 363.5h7M212.5 360v7M209 370.5h7M212.5 367v7M209 371.5h7M212.5 368v7M209 374.5h7M212.5 371v7M209 379.5h7M212.5 376v7M209 391.5h7M212.5 388v7M209 393.5h7M212.5 390v7M209 396.5h7M212.5 393v7M209 397.5h7M212.5 394v7M209 400.5h7M212.5 397v7M209 401.5h7M212.5 398v7M209 402.5h7M212.5 399v7M209 403.5h7M212.5 400v7M209 412.5h7M212.5 409v7M209 416.5h7M212.5 413v7M210 360.5h7M213.5 357v7M210 361.5h7M213.5 358v7M210 362.5h7M213.5 359v7M210 365.5h7M213.5 362v7M210 370.5h7M213.5 367v7M210 377.5h7M213.5 374v7M210 378.5h7M213.5 375v7M210 384.5h7M213.5 381v7M210 388.5h7M213.5 385v7M210 390.5h7M213.5 387v7M210 392.5h7M213.5 389v7M210 393.5h7M213.5 390v7M210 394.5h7M213.5 391v7M210 397.5h7M213.5 394v7M210 402.5h7M213.5 399v7M210 403.5h7M213.5 400v7M210 405.5h7M213.5 402v7M210 407.5h7M213.5 404v7M210 408.5h7M213.5 405v7M210 415.5h7M213.5 412v7M211 357.5h7M214.5 354v7M211 361.5h7M214.5 358v7M211 362.5h7M214.5 359v7M211 364.5h7M214.5 361v7M211 367.5h7M214.5 364v7M211 381.5h7M214.5 378v7M211 384.5h7M214.5 381v7M211 390.5h7M214.5 387v7M211 391.5h7M214.5 388v7M211 392.5h7M214.5 389v7M211 393.5h7M214.5 390v7M211 396.5h7M214.5 393v7M211 397.5h7M214.5 394v7M211 401.5h7M214.5 398v7M211 402.5h7M214.5 399v7M211 403.5h7M214.5 400v7M211 404.5h7M214.5 401v7M211 405.5h7M214.5 402v7M211 406.5h7M214.5 403v7M211 408.5h7M214.5 405v7M211 409.5h7M214.5 406v7M211 411.5h7M214.5 408v7M211 412.5h7M214.5 409v7M211 416.5h7M214.5 413v7M212 361.5h7M215.5 358v7M212 364.5h7M215.5 361v7M212 367.5h7M215.5 364v7M212 371.5h7M215.5 368v7M212 374.5h7M215.5 371v7M212 378.5h7M215.5 375v7M212 390.5h7M215.5 387v7M212 392.5h7M215.5 389v7M212 393.5h7M215.5 390v7M212 394.5h7M215.5 391v7M212 400.5h7M215.5 397v7M212 403.5h7M215.5 400v7M212 406.5h7M215.5 403v7M212 407.5h7M215.5 404v7M212 408.5h7M215.5 405v7M212 413.5h7M215.5 410v7M213 362.5h7M216.5 359v7M213 363.5h7M216.5 360v7M213 381.5h7M216.5 378v7M213 385.5h7M216.5 382v7M213 387.5h7M216.5 384v7M213 388.5h7M216.5 385v7M213 390.5h7M216.5 387v7M213 394.5h7M216.5 391v7M213 404.5h7M216.5 401v7M213 407.5h7M216.5 404v7M213 409.5h7M216.5 406v7M213 411.5h7M216.5 408v7M213 412.5h7M216.5 409v7M213 414.5h7M216.5 411v7M214 367.5h7M217.5 364v7M214 368.5h7M217.5 365v7M214 375.5h7M217.5 372v7M214 378.5h7M217.5 375v7M214 379.5h7M217.5 376v7M214 382.5h7M217.5 379v7M214 383.5h7M217.5 380v7M214 389.5h7M217.5 386v7M214 391.5h7M217.5 388v7M214 392.5h7M217.5 389v7M214 394.5h7M217.5 391v7M214 396.5h7M217.5 393v7M214 398.5h7M217.5 395v7M214 399.5h7M217.5 396v7M214 400.5h7M217.5 397v7M214 401.5h7M217.5 398v7M214 402.5h7M217.5 399v7M214 403.5h7M217.5 400v7M214 406.5h7M217.5 403v7M214 408.5h7M217.5 405v7M214 416.5h7M217.5 413v7M215 364.5h7M218.5 361v7M215 373.5h7M218.5 370v7M215 374.5h7M218.5 371v7M215 386.5h7M218.5 383v7M215 393.5h7M218.5 390v7M215 396.5h7M218.5 393v7M215 398.5h7M218.5 395v7M215 399.5h7M218.5 396v7M215 401.5h7M218.5 398v7M215 406.5h7M218.5 403v7M215 407.5h7M218.5 404v7M215 408.5h7M218.5 405v7M215 415.5h7M218.5 412v7M216 376.5h7M219.5 373v7M216 378.5h7M219.5 375v7M216 382.5h7M219.5 379v7M216 383.5h7M219.5 380v7M216 384.5h7M219.5 381v7M216 389.5h7M219.5 386v7M216 390.5h7M219.5 387v7M216 391.5h7M219.5 388v7M216 392.5h7M219.5 389v7M216 393.5h7M219.5 390v7M216 394.5h7M219.5 391v7M216 396.5h7M219.5 393v7M216 399.5h7M219.5 396v7M216 400.5h7M219.5 397v7M216 409.5h7M219.5 406v7M216 413.5h7M219.5 410v7M216 415.5h7M219.5 412v7M217 380.5h7M220.5 377v7M217 384.5h7M220.5 381v7M217 392.5h7M220.5 389v7M217 393.5h7M220.5 390v7M217 398.5h7M220.5 395v7M217 407.5h7M220.5 404v7M217 409.5h7M220.5 406v7M217 411.5h7M220.5 408v7M217 413.5h7M220.5 410v7M217 414.5h7M220.5 411v7M218 383.5h7M221.5 380v7M218 392.5h7M221.5 389v7M218 393.5h7M221.5 390v7M218 395.5h7M221.5 392v7M218 396.5h7M221.5 393v7M218 399.5h7M221.5 396v7M218 400.5h7M221.5 397v7M218 403.5h7M221.5 400v7M218 405.5h7M221.5 402v7M218 408.5h7M221.5 405v7M218 410.5h7M221.5 407v7M218 411.5h7M221.5 408v7M218 413.5h7M221.5 410v7M218 414.5h7M221.5 411v7M218 416.5h7M221.5 413v7M219 387.5h7M222.5 384v7M219 389.5h7M222.5 386v7M219 392.5h7M222.5 389v7M219 393.5h7M222.5 390v7M219 396.5h7M222.5 393v7M219 398.5h7M222.5 395v7M219 400.5h7M222.5 397v7M219 404.5h7M222.5 401v7M219 408.5h7M222.5 405v7M219 410.5h7M222.5 407v7M219 414.5h7M222.5 411v7M219 416.5h7M222.5 413v7M220 386.5h7M223.5 383v7M220 388.5h7M223.5 385v7M220 390.5h7M223.5 387v7M220 393.5h7M223.5 390v7M220 398.5h7M223.5 395v7M220 399.5h7M223.5 396v7M220 400.5h7M223.5 397v7M220 404.5h7M223.5 401v7M220 405.5h7M223.5 402v7M220 406.5h7M223.5 403v7M220 409.5h7M223.5 406v7M221 390.5h7M224.5 387v7M221 392.5h7M224.5 389v7M221 394.5h7M224.5 391v7M221 396.5h7M224.5 393v7M221 397.5h7M224.5 394v7M221 404.5h7M224.5 401v7M221 405.5h7M224.5 402v7M221 406.5h7M224.5 403v7M221 409.5h7M224.5 406v7M221 410.5h7M224.5 407v7M221 411.5h7M224.5 408v7M221 412.5h7M224.5 409v7M221 415.5h7M224.5 412v7M221 416.5h7M224.5 413v7M222 391.5h7M225.5 388v7M222 393.5h7M225.5 390v7M222 395.5h7M225.5 392v7M222 396.5h7M225.5 393v7M222 398.5h7M225.5 395v7M222 400.5h7M225.5 397v7M222 403.5h7M225.5 400v7M222 404.5h7M225.5 401v7M222 405.5h7M225.5 402v7M222 406.5h7M225.5 403v7M222 409.5h7M225.5 406v7M222 412.5h7M225.5 409v7M222 413.5h7M225.5 410v7M223 390.5h7M226.5 387v7M223 394.5h7M226.5 391v7M223 396.5h7M226.5 393v7M223 398.5h7M226.5 395v7M223 399.5h7M226.5 396v7M223 401.5h7M226.5 398v7M223 411.5h7M226.5 408v7M224 394.5h7M227.5 391v7M224 395.5h7M227.5 392v7M224 396.5h7M227.5 393v7M224 397.5h7M227.5 394v7M224 399.5h7M227.5 396v7M224 403.5h7M227.5 400v7M224 405.5h7M227.5 402v7M224 408.5h7M227.5 405v7M224 410.5h7M227.5 407v7M224 412.5h7M227.5 409v7M224 413.5h7M227.5 410v7M225 392.5h7M228.5 389v7M225 394.5h7M228.5 391v7M225 396.5h7M228.5 393v7M225 398.5h7M228.5 395v7M225 399.5h7M228.5 396v7M225 400.5h7M228.5 397v7M225 403.5h7M228.5 400v7M225 406.5h7M228.5 403v7M225 407.5h7M228.5 404v7M225 410.5h7M228.5 407v7M225 414.5h7M228.5 411v7M225 415.5h7M228.5 412v7M225 416.5h7M228.5 413v7M226 393.5h7M229.5 390v7M226 397.5h7M229.5 394v7M226 398.5h7M229.5 395v7M226 399.5h7M229.5 396v7M226 406.5h7M229.5 403v7M226 410.5h7M229.5 407v7M226 412.5h7M229.5 409v7M226 413.5h7M229.5 410v7M226 416.5h7M229.5 413v7M227 396.5h7M230.5 393v7M227 400.5h7M230.5 397v7M227 401.5h7M230.5 398v7M227 402.5h7M230.5 399v7M227 403.5h7M230.5 400v7M227 404.5h7M230.5 401v7M227 408.5h7M230.5 405v7M227 409.5h7M230.5 406v7M227 410.5h7M230.5 407v7M227 412.5h7M230.5 409v7M227 415.5h7M230.5 412v7M227 416.5h7M230.5 413v7M228 385.5h7M231.5 382v7M228 399.5h7M231.5 396v7M228 402.5h7M231.5 399v7M228 404.5h7M231.5 401v7M228 407.5h7M231.5 404v7M228 413.5h7M231.5 410v7M228 415.5h7M231.5 412v7M229 402.5h7M232.5 399v7M229 403.5h7M232.5 400v7M229 407.5h7M232.5 404v7M229 411.5h7M232.5 408v7M229 412.5h7M232.5 409v7M229 413.5h7M232.5 410v7M230 403.5h7M233.5 400v7M230 404.5h7M233.5 401v7M230 406.5h7M233.5 403v7M230 407.5h7M233.5 404v7M230 408.5h7M233.5 405v7M230 409.5h7M233.5 406v7M230 414.5h7M233.5 411v7M230 415.5h7M233.5 412v7M231 402.5h7M234.5 399v7M231 404.5h7M234.5 401v7M231 405.5h7M234.5 402v7M231 406.5h7M234.5 403v7M231 407.5h7M234.5 404v7M231 408.5h7M234.5 405v7M231 409.5h7M234.5 406v7M231 410.5h7M234.5 407v7M231 412.5h7M234.5 409v7M232 408.5h7M235.5 405v7M232 416.5h7M235.5 413v7M233 408.5h7M236.5 405v7M233 413.5h7M236.5 410v7M234 402.5h7M237.5 399v7M234 406.5h7M237.5 403v7M234 408.5h7M237.5 405v7M234 409.5h7M237.5 406v7M234 413.5h7M237.5 410v7M234 414.5h7M237.5 411v7M235 403.5h7M238.5 400v7M235 404.5h7M238.5 401v7M235 407.5h7M238.5 404v7M235 409.5h7M238.5 406v7M235 411.5h7M238.5 408v7M235 412.5h7M238.5 409v7M236 405.5h7M239.5 402v7M236 407.5h7M239.5 404v7M236 408.5h7M239.5 405v7M236 409.5h7M239.5 406v7M236 410.5h7M239.5 407v7M236 413.5h7M239.5 410v7M236 414.5h7M239.5 411v7M236 415.5h7M239.5 412v7M237 397.5h7M240.5 394v7M237 398.5h7M240.5 395v7M237 406.5h7M240.5 403v7M237 409.5h7M240.5 406v7M237 411.5h7M240.5 408v7M237 413.5h7M240.5 410v7M237 414.5h7M240.5 411v7M238 400.5h7M241.5 397v7M238 404.5h7M241.5 401v7M238 405.5h7M241.5 402v7M238 416.5h7M241.5 413v7M239 399.5h7M242.5 396v7M239 403.5h7M242.5 400v7M239 404.5h7M242.5 401v7M239 406.5h7M242.5 403v7M239 407.5h7M242.5 404v7M239 408.5h7M242.5 405v7M239 413.5h7M242.5 410v7M240 396.5h7M243.5 393v7M240 397.5h7M243.5 394v7M240 398.5h7M243.5 395v7M240 400.5h7M243.5 397v7M240 410.5h7M243.5 407v7M240 416.5h7M243.5 413v7M241 405.5h7M244.5 402v7M241 406.5h7M244.5 403v7M241 407.5h7M244.5 404v7M241 410.5h7M244.5 407v7M241 412.5h7M244.5 409v7M241 413.5h7M244.5 410v7M241 415.5h7M244.5 412v7M242 395.5h7M245.5 392v7M242 397.5h7M245.5 394v7M242 399.5h7M245.5 396v7M242 401.5h7M245.5 398v7M242 402.5h7M245.5 399v7M242 403.5h7M245.5 400v7M242 405.5h7M245.5 402v7M242 408.5h7M245.5 405v7M242 410.5h7M245.5 407v7M242 411.5h7M245.5 408v7M242 412.5h7M245.5 409v7M243 397.5h7M246.5 394v7M243 398.5h7M246.5 395v7M243 403.5h7M246.5 400v7M243 407.5h7M246.5 404v7M243 410.5h7M246.5 407v7M243 413.5h7M246.5 410v7M243 415.5h7M246.5 412v7M243 416.5h7M246.5 413v7M244 394.5h7M247.5 391v7M244 396.5h7M247.5 393v7M244 402.5h7M247.5 399v7M244 404.5h7M247.5 401v7M244 406.5h7M247.5 403v7M244 407.5h7M247.5 404v7M244 409.5h7M247.5 406v7M244 412.5h7M247.5 409v7M244 414.5h7M247.5 411v7M245 394.5h7M248.5 391v7M245 396.5h7M248.5 393v7M245 400.5h7M248.5 397v7M245 403.5h7M248.5 400v7M245 408.5h7M248.5 405v7M245 409.5h7M248.5 406v7M245 411.5h7M248.5 408v7M245 413.5h7M248.5 410v7M245 414.5h7M248.5 411v7M245 415.5h7M248.5 412v7M246 395.5h7M249.5 392v7M246 396.5h7M249.5 393v7M246 397.5h7M249.5 394v7M246 401.5h7M249.5 398v7M246 402.5h7M249.5 399v7M246 403.5h7M249.5 400v7M246 404.5h7M249.5 401v7M246 405.5h7M249.5 402v7M246 408.5h7M249.5 405v7M246 410.5h7M249.5 407v7M246 413.5h7M249.5 410v7M246 414.5h7M249.5 411v7M247 386.5h7M250.5 383v7M247 392.5h7M250.5 389v7M247 394.5h7M250.5 391v7M247 398.5h7M250.5 395v7M247 399.5h7M250.5 396v7M247 404.5h7M250.5 401v7M247 405.5h7M250.5 402v7M247 407.5h7M250.5 404v7M247 408.5h7M250.5 405v7M247 409.5h7M250.5 406v7M247 411.5h7M250.5 408v7M247 412.5h7M250.5 409v7M247 413.5h7M250.5 410v7M247 414.5h7M250.5 411v7M248 393.5h7M251.5 390v7M248 395.5h7M251.5 392v7M248 398.5h7M251.5 395v7M248 400.5h7M251.5 397v7M248 403.5h7M251.5 400v7M248 409.5h7M251.5 406v7M248 410.5h7M251.5 407v7M248 412.5h7M251.5 409v7M248 414.5h7M251.5 411v7M248 416.5h7M251.5 413v7M249 392.5h7M252.5 389v7M249 393.5h7M252.5 390v7M249 399.5h7M252.5 396v7M249 402.5h7M252.5 399v7M249 403.5h7M252.5 400v7M249 404.5h7M252.5 401v7M249 405.5h7M252.5 402v7M249 409.5h7M252.5 406v7M249 411.5h7M252.5 408v7M249 412.5h7M252.5 409v7M250 392.5h7M253.5 389v7M250 393.5h7M253.5 390v7M250 394.5h7M253.5 391v7M250 396.5h7M253.5 393v7M250 405.5h7M253.5 402v7M250 406.5h7M253.5 403v7M250 407.5h7M253.5 404v7M250 411.5h7M253.5 408v7M251 393.5h7M254.5 390v7M251 395.5h7M254.5 392v7M251 399.5h7M254.5 396v7M251 401.5h7M254.5 398v7M251 403.5h7M254.5 400v7M251 410.5h7M254.5 407v7M251 414.5h7M254.5 411v7M251 416.5h7M254.5 413v7M252 392.5h7M255.5 389v7M252 393.5h7M255.5 390v7M252 395.5h7M255.5 392v7M252 400.5h7M255.5 397v7M252 401.5h7M255.5 398v7M252 406.5h7M255.5 403v7M252 407.5h7M255.5 404v7M252 412.5h7M255.5 409v7M252 413.5h7M255.5 410v7M253 392.5h7M256.5 389v7M253 393.5h7M256.5 390v7M253 394.5h7M256.5 391v7M253 395.5h7M256.5 392v7M253 398.5h7M256.5 395v7M253 399.5h7M256.5 396v7M253 401.5h7M256.5 398v7M253 405.5h7M256.5 402v7M253 407.5h7M256.5 404v7M253 409.5h7M256.5 406v7M253 413.5h7M256.5 410v7M253 416.5h7M256.5 413v7M254 393.5h7M257.5 390v7M254 394.5h7M257.5 391v7M254 395.5h7M257.5 392v7M254 397.5h7M257.5 394v7M254 398.5h7M257.5 395v7M254 400.5h7M257.5 397v7M254 402.5h7M257.5 399v7M254 403.5h7M257.5 400v7M254 412.5h7M257.5 409v7M254 413.5h7M257.5 410v7M254 415.5h7M257.5 412v7M255 393.5h7M258.5 390v7M255 394.5h7M258.5 391v7M255 395.5h7M258.5 392v7M255 405.5h7M258.5 402v7M255 406.5h7M258.5 403v7M255 410.5h7M258.5 407v7M255 414.5h7M258.5 411v7M255 416.5h7M258.5 413v7M256 357.5h7M259.5 354v7M256 365.5h7M259.5 362v7M256 385.5h7M259.5 382v7M256 391.5h7M259.5 388v7M256 392.5h7M259.5 389v7M256 393.5h7M259.5 390v7M256 394.5h7M259.5 391v7M256 395.5h7M259.5 392v7M256 397.5h7M259.5 394v7M256 403.5h7M259.5 400v7M256 406.5h7M259.5 403v7M256 413.5h7M259.5 410v7M267 386.5h7M270.5 383v7M267 393.5h7M270.5 390v7M267 397.5h7M270.5 394v7M267 404.5h7M270.5 401v7M267 405.5h7M270.5 402v7M268 396.5h7M271.5 393v7M268 402.5h7M271.5 399v7M268 404.5h7M271.5 401v7M268 405.5h7M271.5 402v7M268 407.5h7M271.5 404v7M268 409.5h7M271.5 406v7M268 412.5h7M271.5 409v7M268 414.5h7M271.5 411v7M269 396.5h7M272.5 393v7M269 399.5h7M272.5 396v7M269 400.5h7M272.5 397v7M269 403.5h7M272.5 400v7M269 409.5h7M272.5 406v7M269 412.5h7M272.5 409v7M269 415.5h7M272.5 412v7M270 397.5h7M273.5 394v7M270 398.5h7M273.5 395v7M270 399.5h7M273.5 396v7M270 403.5h7M273.5 400v7M270 408.5h7M273.5 405v7M270 411.5h7M273.5 408v7M270 412.5h7M273.5 409v7M270 416.5h7M273.5 413v7M271 394.5h7M274.5 391v7M271 404.5h7M274.5 401v7M271 406.5h7M274.5 403v7M271 407.5h7M274.5 404v7M271 409.5h7M274.5 406v7M271 410.5h7M274.5 407v7M271 411.5h7M274.5 408v7M271 414.5h7M274.5 411v7M271 415.5h7M274.5 412v7M271 416.5h7M274.5 413v7M272 390.5h7M275.5 387v7M272 391.5h7M275.5 388v7M272 399.5h7M275.5 396v7M272 400.5h7M275.5 397v7M272 402.5h7M275.5 399v7M272 405.5h7M275.5 402v7M272 408.5h7M275.5 405v7M272 410.5h7M275.5 407v7M272 411.5h7M275.5 408v7M272 412.5h7M275.5 409v7M272 415.5h7M275.5 412v7M273 392.5h7M276.5 389v7M273 396.5h7M276.5 393v7M273 397.5h7M276.5 394v7M273 399.5h7M276.5 396v7M273 400.5h7M276.5 397v7M273 401.5h7M276.5 398v7M273 403.5h7M276.5 400v7M273 404.5h7M276.5 401v7M273 407.5h7M276.5 404v7M273 416.5h7M276.5 413v7M274 389.5h7M277.5 386v7M274 390.5h7M277.5 387v7M274 392.5h7M277.5 389v7M274 394.5h7M277.5 391v7M274 403.5h7M277.5 400v7M274 407.5h7M277.5 404v7M274 409.5h7M277.5 406v7M274 412.5h7M277.5 409v7M274 415.5h7M277.5 412v7M275 388.5h7M278.5 385v7M275 390.5h7M278.5 387v7M275 397.5h7M278.5 394v7M275 399.5h7M278.5 396v7M275 400.5h7M278.5 397v7M275 404.5h7M278.5 401v7M275 406.5h7M278.5 403v7M275 407.5h7M278.5 404v7M275 408.5h7M278.5 405v7M275 409.5h7M278.5 406v7M275 412.5h7M278.5 409v7M275 413.5h7M278.5 410v7M275 416.5h7M278.5 413v7M276 389.5h7M279.5 386v7M276 390.5h7M279.5 387v7M276 393.5h7M279.5 390v7M276 398.5h7M279.5 395v7M276 399.5h7M279.5 396v7M276 400.5h7M279.5 397v7M276 416.5h7M279.5 413v7M277 388.5h7M280.5 385v7M277 390.5h7M280.5 387v7M277 395.5h7M280.5 392v7M277 396.5h7M280.5 393v7M277 399.5h7M280.5 396v7M277 400.5h7M280.5 397v7M277 412.5h7M280.5 409v7M278 388.5h7M281.5 385v7M278 389.5h7M281.5 386v7M278 390.5h7M281.5 387v7M278 393.5h7M281.5 390v7M278 397.5h7M281.5 394v7M278 398.5h7M281.5 395v7M278 400.5h7M281.5 397v7M278 401.5h7M281.5 398v7M278 406.5h7M281.5 403v7M278 408.5h7M281.5 405v7M278 409.5h7M281.5 406v7M278 412.5h7M281.5 409v7M278 414.5h7M281.5 411v7M278 415.5h7M281.5 412v7M278 416.5h7M281.5 413v7M279 396.5h7M282.5 393v7M279 397.5h7M282.5 394v7M279 402.5h7M282.5 399v7M279 405.5h7M282.5 402v7M279 410.5h7M282.5 407v7M279 413.5h7M282.5 410v7M279 415.5h7M282.5 412v7M279 416.5h7M282.5 413v7M280 388.5h7M283.5 385v7M280 389.5h7M283.5 386v7M280 396.5h7M283.5 393v7M280 398.5h7M283.5 395v7M280 400.5h7M283.5 397v7M280 403.5h7M283.5 400v7M280 405.5h7M283.5 402v7M280 407.5h7M283.5 404v7M280 408.5h7M283.5 405v7M280 409.5h7M283.5 406v7M280 410.5h7M283.5 407v7M280 412.5h7M283.5 409v7M280 416.5h7M283.5 413v7M281 396.5h7M284.5 393v7M281 397.5h7M284.5 394v7M281 398.5h7M284.5 395v7M281 400.5h7M284.5 397v7M281 402.5h7M284.5 399v7M281 407.5h7M284.5 404v7M281 409.5h7M284.5 406v7M281 414.5h7M284.5 411v7M282 388.5h7M285.5 385v7M282 389.5h7M285.5 386v7M282 393.5h7M285.5 390v7M282 394.5h7M285.5 391v7M282 399.5h7M285.5 396v7M282 400.5h7M285.5 397v7M282 401.5h7M285.5 398v7M282 402.5h7M285.5 399v7M282 403.5h7M285.5 400v7M282 404.5h7M285.5 401v7M282 405.5h7M285.5 402v7M282 406.5h7M285.5 403v7M282 409.5h7M285.5 406v7M282 410.5h7M285.5 407v7M282 412.5h7M285.5 409v7M282 413.5h7M285.5 410v7M282 415.5h7M285.5 412v7M283 390.5h7M286.5 387v7M283 391.5h7M286.5 388v7M283 407.5h7M286.5 404v7M283 411.5h7M286.5 408v7M283 412.5h7M286.5 409v7M283 413.5h7M286.5 410v7M283 416.5h7M286.5 413v7M284 386.5h7M287.5 383v7M284 390.5h7M287.5 387v7M284 392.5h7M287.5 389v7M284 393.5h7M287.5 390v7M284 401.5h7M287.5 398v7M284 406.5h7M287.5 403v7M284 408.5h7M287.5 405v7M284 412.5h7M287.5 409v7M284 413.5h7M287.5 410v7M284 415.5h7M287.5 412v7M284 416.5h7M287.5 413v7M285 404.5h7M288.5 401v7M285 411.5h7M288.5 408v7M285 412.5h7M288.5 409v7M285 415.5h7M288.5 412v7M286 390.5h7M289.5 387v7M286 411.5h7M289.5 408v7M286 412.5h7M289.5 409v7M286 416.5h7M289.5 413v7M287 389.5h7M290.5 386v7M287 406.5h7M290.5 403v7M287 408.5h7M290.5 405v7M287 409.5h7M290.5 406v7M287 410.5h7M290.5 407v7M287 412.5h7M290.5 409v7M287 413.5h7M290.5 410v7M287 416.5h7M290.5 413v7M288 388.5h7M291.5 385v7M288 406.5h7M291.5 403v7M288 409.5h7M291.5 406v7M288 410.5h7M291.5 407v7M289 387.5h7M292.5 384v7M289 388.5h7M292.5 385v7M289 405.5h7M292.5 402v7M289 407.5h7M292.5 404v7M289 408.5h7M292.5 405v7M289 410.5h7M292.5 407v7M289 411.5h7M292.5 408v7M289 415.5h7M292.5 412v7M290 389.5h7M293.5 386v7M290 390.5h7M293.5 387v7M290 408.5h7M293.5 405v7M290 409.5h7M293.5 406v7M290 411.5h7M293.5 408v7M290 412.5h7M293.5 409v7M290 413.5h7M293.5 410v7M291 392.5h7M294.5 389v7M291 393.5h7M294.5 390v7M291 404.5h7M294.5 401v7M291 407.5h7M294.5 404v7M291 409.5h7M294.5 406v7M291 411.5h7M294.5 408v7M291 412.5h7M294.5 409v7M291 413.5h7M294.5 410v7M292 393.5h7M295.5 390v7M292 401.5h7M295.5 398v7M292 403.5h7M295.5 400v7M292 405.5h7M295.5 402v7M292 407.5h7M295.5 404v7M292 408.5h7M295.5 405v7M292 410.5h7M295.5 407v7M292 415.5h7M295.5 412v7M293 401.5h7M296.5 398v7M293 404.5h7M296.5 401v7M293 406.5h7M296.5 403v7M293 409.5h7M296.5 406v7M293 411.5h7M296.5 408v7M293 413.5h7M296.5 410v7M293 414.5h7M296.5 411v7M294 401.5h7M297.5 398v7M294 403.5h7M297.5 400v7M294 405.5h7M297.5 402v7M294 408.5h7M297.5 405v7M294 409.5h7M297.5 406v7M294 411.5h7M297.5 408v7M294 413.5h7M297.5 410v7M294 415.5h7M297.5 412v7M294 416.5h7M297.5 413v7M295 403.5h7M298.5 400v7M295 404.5h7M298.5 401v7M295 407.5h7M298.5 404v7M295 408.5h7M298.5 405v7M295 410.5h7M298.5 407v7M295 411.5h7M298.5 408v7M295 416.5h7M298.5 413v7M296 402.5h7M299.5 399v7M296 407.5h7M299.5 404v7M296 408.5h7M299.5 405v7M296 409.5h7M299.5 406v7M296 410.5h7M299.5 407v7M296 412.5h7M299.5 409v7M296 415.5h7M299.5 412v7M297 397.5h7M300.5 394v7M297 403.5h7M300.5 400v7M297 405.5h7M300.5 402v7M297 406.5h7M300.5 403v7M297 407.5h7M300.5 404v7M297 408.5h7M300.5 405v7M297 409.5h7M300.5 406v7M297 412.5h7M300.5 409v7M298 402.5h7M301.5 399v7M298 405.5h7M301.5 402v7M298 407.5h7M301.5 404v7M298 408.5h7M301.5 405v7M298 410.5h7M301.5 407v7M298 412.5h7M301.5 409v7M299 412.5h7M302.5 409v7M299 413.5h7M302.5 410v7M300 404.5h7M303.5 401v7M300 405.5h7M303.5 402v7M300 410.5h7M303.5 407v7M300 413.5h7M303.5 410v7M301 412.5h7M304.5 409v7M301 413.5h7M304.5 410v7M301 414.5h7M304.5 411v7M302 400.5h7M305.5 397v7M302 407.5h7M305.5 404v7M302 409.5h7M305.5 406v7M302 412.5h7M305.5 409v7M302 413.5h7M305.5 410v7M303 397.5h7M306.5 394v7M303 402.5h7M306.5 399v7M303 403.5h7M306.5 400v7M303 404.5h7M306.5 401v7M303 405.5h7M306.5 402v7M303 407.5h7M306.5 404v7M303 408.5h7M306.5 405v7M303 409.5h7M306.5 406v7M303 412.5h7M306.5 409v7M304 398.5h7M307.5 395v7M304 402.5h7M307.5 399v7M304 405.5h7M307.5 402v7M304 406.5h7M307.5 403v7M304 409.5h7M307.5 406v7M304 410.5h7M307.5 407v7M304 415.5h7M307.5 412v7M304 416.5h7M307.5 413v7M305 398.5h7M308.5 395v7M305 399.5h7M308.5 396v7M305 400.5h7M308.5 397v7M305 402.5h7M308.5 399v7M305 403.5h7M308.5 400v7M305 404.5h7M308.5 401v7M305 409.5h7M308.5 406v7M305 411.5h7M308.5 408v7M306 396.5h7M309.5 393v7M306 398.5h7M309.5 395v7M306 400.5h7M309.5 397v7M306 402.5h7M309.5 399v7M306 403.5h7M309.5 400v7M306 405.5h7M309.5 402v7M306 406.5h7M309.5 403v7M306 408.5h7M309.5 405v7M306 411.5h7M309.5 408v7M306 413.5h7M309.5 410v7M306 415.5h7M309.5 412v7M306 416.5h7M309.5 413v7M307 399.5h7M310.5 396v7M307 400.5h7M310.5 397v7M307 401.5h7M310.5 398v7M307 403.5h7M310.5 400v7M307 404.5h7M310.5 401v7M307 405.5h7M310.5 402v7M307 412.5h7M310.5 409v7M307 415.5h7M310.5 412v7M307 416.5h7M310.5 413v7M308 395.5h7M311.5 392v7M308 396.5h7M311.5 393v7M308 397.5h7M311.5 394v7M308 398.5h7M311.5 395v7M308 400.5h7M311.5 397v7M308 401.5h7M311.5 398v7M308 402.5h7M311.5 399v7M308 403.5h7M311.5 400v7M308 407.5h7M311.5 404v7M308 408.5h7M311.5 405v7M308 409.5h7M311.5 406v7M308 414.5h7M311.5 411v7M308 415.5h7M311.5 412v7M308 416.5h7M311.5 413v7M309 394.5h7M312.5 391v7M309 395.5h7M312.5 392v7M309 396.5h7M312.5 393v7M309 397.5h7M312.5 394v7M309 399.5h7M312.5 396v7M309 400.5h7M312.5 397v7M309 401.5h7M312.5 398v7M309 403.5h7M312.5 400v7M309 405.5h7M312.5 402v7M309 406.5h7M312.5 403v7M309 410.5h7M312.5 407v7M309 414.5h7M312.5 411v7M309 415.5h7M312.5 412v7M310 398.5h7M313.5 395v7M310 401.5h7M313.5 398v7M310 402.5h7M313.5 399v7M310 407.5h7M313.5 404v7M310 409.5h7M313.5 406v7M310 416.5h7M313.5 413v7M311 395.5h7M314.5 392v7M311 396.5h7M314.5 393v7M311 397.5h7M314.5 394v7M311 398.5h7M314.5 395v7M311 400.5h7M314.5 397v7M311 404.5h7M314.5 401v7M311 405.5h7M314.5 402v7M311 407.5h7M314.5 404v7M311 408.5h7M314.5 405v7M311 411.5h7M314.5 408v7M311 412.5h7M314.5 409v7M312 385.5h7M315.5 382v7M312 394.5h7M315.5 391v7M312 396.5h7M315.5 393v7M312 399.5h7M315.5 396v7M312 402.5h7M315.5 399v7M312 405.5h7M315.5 402v7M312 410.5h7M315.5 407v7M312 414.5h7M315.5 411v7M313 394.5h7M316.5 391v7M313 395.5h7M316.5 392v7M313 399.5h7M316.5 396v7M313 402.5h7M316.5 399v7M313 409.5h7M316.5 406v7M313 411.5h7M316.5 408v7M314 397.5h7M317.5 394v7M314 400.5h7M317.5 397v7M314 402.5h7M317.5 399v7M314 403.5h7M317.5 400v7M314 404.5h7M317.5 401v7M314 406.5h7M317.5 403v7M314 410.5h7M317.5 407v7M314 411.5h7M317.5 408v7M314 416.5h7M317.5 413v7M315 395.5h7M318.5 392v7M315 396.5h7M318.5 393v7M315 398.5h7M318.5 395v7M315 399.5h7M318.5 396v7M315 401.5h7M318.5 398v7M315 403.5h7M318.5 400v7M315 406.5h7M318.5 403v7M315 408.5h7M318.5 405v7M315 410.5h7M318.5 407v7M315 411.5h7M318.5 408v7M315 415.5h7M318.5 412v7M316 395.5h7M319.5 392v7M316 396.5h7M319.5 393v7M316 398.5h7M319.5 395v7M316 399.5h7M319.5 396v7M316 400.5h7M319.5 397v7M316 407.5h7M319.5 404v7M316 413.5h7M319.5 410v7M316 414.5h7M319.5 411v7M316 416.5h7M319.5 413v7M317 396.5h7M320.5 393v7M317 397.5h7M320.5 394v7M317 398.5h7M320.5 395v7M317 399.5h7M320.5 396v7M317 403.5h7M320.5 400v7M317 404.5h7M320.5 401v7M317 406.5h7M320.5 403v7M317 410.5h7M320.5 407v7M317 411.5h7M320.5 408v7M317 413.5h7M320.5 410v7M317 414.5h7M320.5 411v7M318 395.5h7M321.5 392v7M318 396.5h7M321.5 393v7M318 397.5h7M321.5 394v7M318 399.5h7M321.5 396v7M318 400.5h7M321.5 397v7M318 406.5h7M321.5 403v7M318 408.5h7M321.5 405v7M318 410.5h7M321.5 407v7M318 411.5h7M321.5 408v7M318 412.5h7M321.5 409v7M318 413.5h7M321.5 410v7M318 415.5h7M321.5 412v7M318 416.5h7M321.5 413v7M319 390.5h7M322.5 387v7M319 394.5h7M322.5 391v7M319 395.5h7M322.5 392v7M319 397.5h7M322.5 394v7M319 398.5h7M322.5 395v7M319 403.5h7M322.5 400v7M319 415.5h7M322.5 412v7M319 416.5h7M322.5 413v7M320 395.5h7M323.5 392v7M320 398.5h7M323.5 395v7M320 402.5h7M323.5 399v7M320 403.5h7M323.5 400v7M320 404.5h7M323.5 401v7M320 405.5h7M323.5 402v7M320 410.5h7M323.5 407v7M320 411.5h7M323.5 408v7M321 397.5h7M324.5 394v7M321 398.5h7M324.5 395v7M321 401.5h7M324.5 398v7M321 404.5h7M324.5 401v7M321 405.5h7M324.5 402v7M321 408.5h7M324.5 405v7M321 410.5h7M324.5 407v7M321 413.5h7M324.5 410v7M322 390.5h7M325.5 387v7M322 392.5h7M325.5 389v7M322 394.5h7M325.5 391v7M322 396.5h7M325.5 393v7M322 398.5h7M325.5 395v7M322 401.5h7M325.5 398v7M322 404.5h7M325.5 401v7M322 408.5h7M325.5 405v7M322 409.5h7M325.5 406v7M322 410.5h7M325.5 407v7M322 412.5h7M325.5 409v7M322 413.5h7M325.5 410v7M323 391.5h7M326.5 388v7M323 393.5h7M326.5 390v7M323 396.5h7M326.5 393v7M323 406.5h7M326.5 403v7M323 407.5h7M326.5 404v7M323 408.5h7M326.5 405v7M324 395.5h7M327.5 392v7M324 400.5h7M327.5 397v7M324 401.5h7M327.5 398v7M324 402.5h7M327.5 399v7M324 410.5h7M327.5 407v7M324 411.5h7M327.5 408v7M324 412.5h7M327.5 409v7M325 385.5h7M328.5 382v7M325 391.5h7M328.5 388v7M325 392.5h7M328.5 389v7M325 400.5h7M328.5 397v7M325 402.5h7M328.5 399v7M325 410.5h7M328.5 407v7M325 412.5h7M328.5 409v7M325 413.5h7M328.5 410v7M325 415.5h7M328.5 412v7M326 392.5h7M329.5 389v7M326 394.5h7M329.5 391v7M326 400.5h7M329.5 397v7M326 403.5h7M329.5 400v7M326 405.5h7M329.5 402v7M326 406.5h7M329.5 403v7M326 413.5h7M329.5 410v7M326 414.5h7M329.5 411v7M327 398.5h7M330.5 395v7M327 401.5h7M330.5 398v7M327 413.5h7M330.5 410v7M327 415.5h7M330.5 412v7M328 390.5h7M331.5 387v7M328 391.5h7M331.5 388v7M328 392.5h7M331.5 389v7M328 393.5h7M331.5 390v7M328 402.5h7M331.5 399v7M328 406.5h7M331.5 403v7M328 408.5h7M331.5 405v7M328 409.5h7M331.5 406v7M328 411.5h7M331.5 408v7M328 412.5h7M331.5 409v7M329 399.5h7M332.5 396v7M329 400.5h7M332.5 397v7M329 403.5h7M332.5 400v7M329 405.5h7M332.5 402v7M329 409.5h7M332.5 406v7M329 410.5h7M332.5 407v7M329 412.5h7M332.5 409v7M329 413.5h7M332.5 410v7M329 414.5h7M332.5 411v7M329 416.5h7M332.5 413v7M330 394.5h7M333.5 391v7M330 396.5h7M333.5 393v7M330 398.5h7M333.5 395v7M330 400.5h7M333.5 397v7M330 404.5h7M333.5 401v7M330 405.5h7M333.5 402v7M330 407.5h7M333.5 404v7M330 408.5h7M333.5 405v7M330 409.5h7M333.5 406v7M330 410.5h7M333.5 407v7M330 413.5h7M333.5 410v7M330 416.5h7M333.5 413v7M331 400.5h7M334.5 397v7M331 402.5h7M334.5 399v7M331 403.5h7M334.5 400v7M331 406.5h7M334.5 403v7M331 408.5h7M334.5 405v7M331 411.5h7M334.5 408v7M331 413.5h7M334.5 410v7M332 398.5h7M335.5 395v7M332 401.5h7M335.5 398v7M332 405.5h7M335.5 402v7M332 415.5h7M335.5 412v7M333 401.5h7M336.5 398v7M333 403.5h7M336.5 400v7M333 405.5h7M336.5 402v7M333 412.5h7M336.5 409v7M333 413.5h7M336.5 410v7M333 414.5h7M336.5 411v7M333 416.5h7M336.5 413v7M334 403.5h7M337.5 400v7M334 404.5h7M337.5 401v7M334 406.5h7M337.5 403v7M334 408.5h7M337.5 405v7M334 413.5h7M337.5 410v7M334 414.5h7M337.5 411v7M334 415.5h7M337.5 412v7M334 416.5h7M337.5 413v7M335 404.5h7M338.5 401v7M335 406.5h7M338.5 403v7M335 407.5h7M338.5 404v7M335 411.5h7M338.5 408v7M335 416.5h7M338.5 413v7M336 404.5h7M339.5 401v7M336 405.5h7M339.5 402v7M336 406.5h7M339.5 403v7M336 407.5h7M339.5 404v7M336 410.5h7M339.5 407v7M336 413.5h7M339.5 410v7M336 414.5h7M339.5 411v7M337 413.5h7M340.5 410v7M338 402.5h7M341.5 399v7M338 406.5h7M341.5 403v7M338 410.5h7M341.5 407v7M339 403.5h7M342.5 400v7M339 405.5h7M342.5 402v7M339 407.5h7M342.5 404v7M339 408.5h7M342.5 405v7M339 409.5h7M342.5 406v7M339 410.5h7M342.5 407v7M339 412.5h7M342.5 409v7M339 415.5h7M342.5 412v7M340 402.5h7M343.5 399v7M340 404.5h7M343.5 401v7M340 406.5h7M343.5 403v7M340 407.5h7M343.5 404v7M340 410.5h7M343.5 407v7M340 412.5h7M343.5 409v7M340 414.5h7M343.5 411v7M341 401.5h7M344.5 398v7M342 376.5h7M345.5 373v7M342 399.5h7M345.5 396v7M342 400.5h7M345.5 397v7M342 401.5h7M345.5 398v7M342 407.5h7M345.5 404v7M342 408.5h7M345.5 405v7M342 410.5h7M345.5 407v7M342 413.5h7M345.5 410v7M342 414.5h7M345.5 411v7M343 377.5h7M346.5 374v7M343 379.5h7M346.5 376v7M343 380.5h7M346.5 377v7M343 382.5h7M346.5 379v7M343 385.5h7M346.5 382v7M343 387.5h7M346.5 384v7M343 391.5h7M346.5 388v7M343 393.5h7M346.5 390v7M343 397.5h7M346.5 394v7M343 398.5h7M346.5 395v7M343 400.5h7M346.5 397v7M343 401.5h7M346.5 398v7M343 404.5h7M346.5 401v7M343 406.5h7M346.5 403v7M343 408.5h7M346.5 405v7M343 411.5h7M346.5 408v7M343 414.5h7M346.5 411v7M343 416.5h7M346.5 413v7M344 378.5h7M347.5 375v7M344 380.5h7M347.5 377v7M344 384.5h7M347.5 381v7M344 388.5h7M347.5 385v7M344 389.5h7M347.5 386v7M344 396.5h7M347.5 393v7M344 400.5h7M347.5 397v7M344 402.5h7M347.5 399v7M344 403.5h7M347.5 400v7M344 404.5h7M347.5 401v7M344 405.5h7M347.5 402v7M344 407.5h7M347.5 404v7M344 409.5h7M347.5 406v7M344 411.5h7M347.5 408v7M344 413.5h7M347.5 410v7M344 414.5h7M347.5 411v7M344 416.5h7M347.5 413v7M345 377.5h7M348.5 374v7M345 379.5h7M348.5 376v7M345 380.5h7M348.5 377v7M345 384.5h7M348.5 381v7M345 386.5h7M348.5 383v7M345 388.5h7M348.5 385v7M345 391.5h7M348.5 388v7M345 397.5h7M348.5 394v7M345 402.5h7M348.5 399v7M345 408.5h7M348.5 405v7M345 416.5h7M348.5 413v7M346 380.5h7M349.5 377v7M346 383.5h7M349.5 380v7M346 386.5h7M349.5 383v7M346 388.5h7M349.5 385v7M346 389.5h7M349.5 386v7M346 392.5h7M349.5 389v7M346 393.5h7M349.5 390v7M346 401.5h7M349.5 398v7M346 402.5h7M349.5 399v7M346 404.5h7M349.5 401v7M346 409.5h7M349.5 406v7M346 410.5h7M349.5 407v7M346 415.5h7M349.5 412v7M346 416.5h7M349.5 413v7M347 381.5h7M350.5 378v7M347 382.5h7M350.5 379v7M347 383.5h7M350.5 380v7M347 387.5h7M350.5 384v7M347 388.5h7M350.5 385v7M347 394.5h7M350.5 391v7M347 396.5h7M350.5 393v7M347 398.5h7M350.5 395v7M347 399.5h7M350.5 396v7M347 401.5h7M350.5 398v7M347 403.5h7M350.5 400v7M347 406.5h7M350.5 403v7M347 407.5h7M350.5 404v7M347 408.5h7M350.5 405v7M347 412.5h7M350.5 409v7M347 413.5h7M350.5 410v7M347 416.5h7M350.5 413v7M348 381.5h7M351.5 378v7M348 383.5h7M351.5 380v7M348 384.5h7M351.5 381v7M348 385.5h7M351.5 382v7M348 391.5h7M351.5 388v7M348 392.5h7M351.5 389v7M348 398.5h7M351.5 395v7M348 408.5h7M351.5 405v7M348 414.5h7M351.5 411v7M349 384.5h7M352.5 381v7M349 385.5h7M352.5 382v7M349 390.5h7M352.5 387v7M349 391.5h7M352.5 388v7M349 392.5h7M352.5 389v7M349 393.5h7M352.5 390v7M349 394.5h7M352.5 391v7M349 395.5h7M352.5 392v7M349 397.5h7M352.5 394v7M349 398.5h7M352.5 395v7M349 401.5h7M352.5 398v7M349 403.5h7M352.5 400v7M349 405.5h7M352.5 402v7M349 415.5h7M352.5 412v7M349 416.5h7M352.5 413v7M350 382.5h7M353.5 379v7M350 386.5h7M353.5 383v7M350 388.5h7M353.5 385v7M350 390.5h7M353.5 387v7M350 391.5h7M353.5 388v7M350 392.5h7M353.5 389v7M350 397.5h7M353.5 394v7M350 398.5h7M353.5 395v7M350 399.5h7M353.5 396v7M350 400.5h7M353.5 397v7M350 401.5h7M353.5 398v7M350 402.5h7M353.5 399v7M350 403.5h7M353.5 400v7M350 405.5h7M353.5 402v7M350 408.5h7M353.5 405v7M350 410.5h7M353.5 407v7M351 393.5h7M354.5 390v7M351 394.5h7M354.5 391v7M351 397.5h7M354.5 394v7M351 399.5h7M354.5 396v7M351 400.5h7M354.5 397v7M351 402.5h7M354.5 399v7M351 404.5h7M354.5 401v7M351 410.5h7M354.5 407v7M351 412.5h7M354.5 409v7M351 413.5h7M354.5 410v7M351 415.5h7M354.5 412v7M351 416.5h7M354.5 413v7M352 384.5h7M355.5 381v7M352 386.5h7M355.5 383v7M352 387.5h7M355.5 384v7M352 391.5h7M355.5 388v7M352 392.5h7M355.5 389v7M352 393.5h7M355.5 390v7M352 395.5h7M355.5 392v7M352 396.5h7M355.5 393v7M352 397.5h7M355.5 394v7M352 400.5h7M355.5 397v7M352 401.5h7M355.5 398v7M352 402.5h7M355.5 399v7M352 405.5h7M355.5 402v7M352 406.5h7M355.5 403v7M352 408.5h7M355.5 405v7M352 410.5h7M355.5 407v7M352 411.5h7M355.5 408v7M352 412.5h7M355.5 409v7M352 415.5h7M355.5 412v7M352 416.5h7M355.5 413v7M353 383.5h7M356.5 380v7M353 385.5h7M356.5 382v7M353 388.5h7M356.5 385v7M353 391.5h7M356.5 388v7M353 393.5h7M356.5 390v7M353 397.5h7M356.5 394v7M353 398.5h7M356.5 395v7M353 401.5h7M356.5 398v7M353 404.5h7M356.5 401v7M353 406.5h7M356.5 403v7M353 407.5h7M356.5 404v7M353 408.5h7M356.5 405v7M353 409.5h7M356.5 406v7M353 411.5h7M356.5 408v7M353 413.5h7M356.5 410v7M354 385.5h7M357.5 382v7M354 392.5h7M357.5 389v7M354 393.5h7M357.5 390v7M354 395.5h7M357.5 392v7M354 400.5h7M357.5 397v7M354 406.5h7M357.5 403v7M354 407.5h7M357.5 404v7M354 408.5h7M357.5 405v7M354 412.5h7M357.5 409v7M354 413.5h7M357.5 410v7M354 415.5h7M357.5 412v7M354 416.5h7M357.5 413v7M355 369.5h7M358.5 366v7M355 382.5h7M358.5 379v7M355 383.5h7M358.5 380v7M355 386.5h7M358.5 383v7M355 392.5h7M358.5 389v7M355 394.5h7M358.5 391v7M355 395.5h7M358.5 392v7M355 396.5h7M358.5 393v7M355 399.5h7M358.5 396v7M355 400.5h7M358.5 397v7M355 404.5h7M358.5 401v7M355 408.5h7M358.5 405v7M355 410.5h7M358.5 407v7M355 411.5h7M358.5 408v7M355 413.5h7M358.5 410v7M355 414.5h7M358.5 411v7M356 341.5h7M359.5 338v7M356 343.5h7M359.5 340v7M356 365.5h7M359.5 362v7M356 376.5h7M359.5 373v7M356 380.5h7M359.5 377v7M356 383.5h7M359.5 380v7M356 385.5h7M359.5 382v7M356 386.5h7M359.5 383v7M356 387.5h7M359.5 384v7M356 390.5h7M359.5 387v7M356 391.5h7M359.5 388v7M356 392.5h7M359.5 389v7M356 393.5h7M359.5 390v7M356 394.5h7M359.5 391v7M356 396.5h7M359.5 393v7M356 397.5h7M359.5 394v7M356 398.5h7M359.5 395v7M356 400.5h7M359.5 397v7M356 401.5h7M359.5 398v7M356 405.5h7M359.5 402v7M356 408.5h7M359.5 405v7M356 409.5h7M359.5 406v7M356 412.5h7M359.5 409v7M356 414.5h7M359.5 411v7M356 415.5h7M359.5 412v7M357 350.5h7M360.5 347v7M357 355.5h7M360.5 352v7M357 357.5h7M360.5 354v7M357 360.5h7M360.5 357v7M357 370.5h7M360.5 367v7M357 377.5h7M360.5 374v7M357 383.5h7M360.5 380v7M357 384.5h7M360.5 381v7M357 385.5h7M360.5 382v7M357 388.5h7M360.5 385v7M357 391.5h7M360.5 388v7M357 393.5h7M360.5 390v7M357 394.5h7M360.5 391v7M357 398.5h7M360.5 395v7M357 400.5h7M360.5 397v7M357 408.5h7M360.5 405v7M357 409.5h7M360.5 406v7M357 411.5h7M360.5 408v7M357 412.5h7M360.5 409v7M357 416.5h7M360.5 413v7M358 356.5h7M361.5 353v7M358 367.5h7M361.5 364v7M358 374.5h7M361.5 371v7M358 380.5h7M361.5 377v7M358 381.5h7M361.5 378v7M358 382.5h7M361.5 379v7M358 383.5h7M361.5 380v7M358 384.5h7M361.5 381v7M358 385.5h7M361.5 382v7M358 389.5h7M361.5 386v7M358 391.5h7M361.5 388v7M358 394.5h7M361.5 391v7M358 396.5h7M361.5 393v7M358 400.5h7M361.5 397v7M358 401.5h7M361.5 398v7M358 404.5h7M361.5 401v7M358 408.5h7M361.5 405v7M358 409.5h7M361.5 406v7M358 410.5h7M361.5 407v7M358 412.5h7M361.5 409v7M358 414.5h7M361.5 411v7M358 416.5h7M361.5 413v7M359 366.5h7M362.5 363v7M359 379.5h7M362.5 376v7M359 394.5h7M362.5 391v7M359 397.5h7M362.5 394v7M359 399.5h7M362.5 396v7M359 400.5h7M362.5 397v7M359 402.5h7M362.5 399v7M359 405.5h7M362.5 402v7M359 410.5h7M362.5 407v7M359 412.5h7M362.5 409v7M360 372.5h7M363.5 369v7M360 396.5h7M363.5 393v7M360 405.5h7M363.5 402v7M360 407.5h7M363.5 404v7M360 409.5h7M363.5 406v7M360 411.5h7M363.5 408v7M360 415.5h7M363.5 412v7M360 416.5h7M363.5 413v7M361 395.5h7M364.5 392v7M361 398.5h7M364.5 395v7M361 399.5h7M364.5 396v7M361 405.5h7M364.5 402v7M361 409.5h7M364.5 406v7M361 410.5h7M364.5 407v7M361 411.5h7M364.5 408v7M361 412.5h7M364.5 409v7M361 414.5h7M364.5 411v7M361 415.5h7M364.5 412v7M361 416.5h7M364.5 413v7M362 396.5h7M365.5 393v7M362 400.5h7M365.5 397v7M362 402.5h7M365.5 399v7M362 404.5h7M365.5 401v7M362 405.5h7M365.5 402v7M362 411.5h7M365.5 408v7M362 412.5h7M365.5 409v7M362 413.5h7M365.5 410v7M362 416.5h7M365.5 413v7M363 396.5h7M366.5 393v7M363 397.5h7M366.5 394v7M363 398.5h7M366.5 395v7M363 402.5h7M366.5 399v7M363 405.5h7M366.5 402v7M363 407.5h7M366.5 404v7M363 408.5h7M366.5 405v7M363 409.5h7M366.5 406v7M363 410.5h7M366.5 407v7M363 415.5h7M366.5 412v7M363 416.5h7M366.5 413v7M364 398.5h7M367.5 395v7M364 400.5h7M367.5 397v7M364 402.5h7M367.5 399v7M364 409.5h7M367.5 406v7M364 411.5h7M367.5 408v7M364 412.5h7M367.5 409v7M364 413.5h7M367.5 410v7M365 396.5h7M368.5 393v7M365 405.5h7M368.5 402v7M365 411.5h7M368.5 408v7M365 412.5h7M368.5 409v7M366 395.5h7M369.5 392v7M366 400.5h7M369.5 397v7M366 405.5h7M369.5 402v7M366 406.5h7M369.5 403v7M366 407.5h7M369.5 404v7M366 410.5h7M369.5 407v7M366 413.5h7M369.5 410v7M366 414.5h7M369.5 411v7M366 416.5h7M369.5 413v7M367 396.5h7M370.5 393v7M367 397.5h7M370.5 394v7M367 402.5h7M370.5 399v7M367 407.5h7M370.5 404v7M367 408.5h7M370.5 405v7M367 413.5h7M370.5 410v7M367 414.5h7M370.5 411v7M367 415.5h7M370.5 412v7M367 416.5h7M370.5 413v7M368 395.5h7M371.5 392v7M368 396.5h7M371.5 393v7M368 399.5h7M371.5 396v7M368 400.5h7M371.5 397v7M368 402.5h7M371.5 399v7M368 403.5h7M371.5 400v7M368 405.5h7M371.5 402v7M368 406.5h7M371.5 403v7M368 414.5h7M371.5 411v7M368 416.5h7M371.5 413v7M369 393.5h7M372.5 390v7M369 394.5h7M372.5 391v7M369 395.5h7M372.5 392v7M369 396.5h7M372.5 393v7M369 397.5h7M372.5 394v7M369 404.5h7M372.5 401v7M369 406.5h7M372.5 403v7M369 409.5h7M372.5 406v7M369 410.5h7M372.5 407v7M369 413.5h7M372.5 410v7M370 375.5h7M373.5 372v7M370 381.5h7M373.5 378v7M370 382.5h7M373.5 379v7M370 384.5h7M373.5 381v7M370 390.5h7M373.5 387v7M370 393.5h7M373.5 390v7M370 396.5h7M373.5 393v7M370 398.5h7M373.5 395v7M370 401.5h7M373.5 398v7M370 410.5h7M373.5 407v7M370 414.5h7M373.5 411v7M370 415.5h7M373.5 412v7M370 416.5h7M373.5 413v7M371 381.5h7M374.5 378v7M371 384.5h7M374.5 381v7M371 387.5h7M374.5 384v7M371 397.5h7M374.5 394v7M371 406.5h7M374.5 403v7M371 407.5h7M374.5 404v7M371 408.5h7M374.5 405v7M371 409.5h7M374.5 406v7M371 411.5h7M374.5 408v7M371 416.5h7M374.5 413v7M372 374.5h7M375.5 371v7M372 375.5h7M375.5 372v7M372 377.5h7M375.5 374v7M372 378.5h7M375.5 375v7M372 379.5h7M375.5 376v7M372 382.5h7M375.5 379v7M372 383.5h7M375.5 380v7M372 389.5h7M375.5 386v7M372 392.5h7M375.5 389v7M372 395.5h7M375.5 392v7M372 397.5h7M375.5 394v7M372 400.5h7M375.5 397v7M372 402.5h7M375.5 399v7M372 403.5h7M375.5 400v7M372 405.5h7M375.5 402v7M372 408.5h7M375.5 405v7M372 411.5h7M375.5 408v7M372 416.5h7M375.5 413v7M373 373.5h7M376.5 370v7M373 374.5h7M376.5 371v7M373 382.5h7M376.5 379v7M373 384.5h7M376.5 381v7M373 385.5h7M376.5 382v7M373 387.5h7M376.5 384v7M373 388.5h7M376.5 385v7M373 390.5h7M376.5 387v7M373 392.5h7M376.5 389v7M373 394.5h7M376.5 391v7M373 395.5h7M376.5 392v7M373 396.5h7M376.5 393v7M373 398.5h7M376.5 395v7M373 400.5h7M376.5 397v7M373 402.5h7M376.5 399v7M373 404.5h7M376.5 401v7M373 405.5h7M376.5 402v7M373 407.5h7M376.5 404v7M373 410.5h7M376.5 407v7M373 411.5h7M376.5 408v7M373 413.5h7M376.5 410v7M373 414.5h7M376.5 411v7M373 415.5h7M376.5 412v7M373 416.5h7M376.5 413v7M374 373.5h7M377.5 370v7M374 383.5h7M377.5 380v7M374 386.5h7M377.5 383v7M374 403.5h7M377.5 400v7M374 404.5h7M377.5 401v7M374 405.5h7M377.5 402v7M374 407.5h7M377.5 404v7M374 408.5h7M377.5 405v7M374 409.5h7M377.5 406v7M374 412.5h7M377.5 409v7M374 413.5h7M377.5 410v7M375 375.5h7M378.5 372v7M375 378.5h7M378.5 375v7M375 384.5h7M378.5 381v7M375 387.5h7M378.5 384v7M375 392.5h7M378.5 389v7M375 393.5h7M378.5 390v7M375 395.5h7M378.5 392v7M375 396.5h7M378.5 393v7M375 404.5h7M378.5 401v7M375 405.5h7M378.5 402v7M375 406.5h7M378.5 403v7M375 409.5h7M378.5 406v7M375 415.5h7M378.5 412v7M376 377.5h7M379.5 374v7M376 382.5h7M379.5 379v7M376 383.5h7M379.5 380v7M376 384.5h7M379.5 381v7M376 388.5h7M379.5 385v7M376 390.5h7M379.5 387v7M376 391.5h7M379.5 388v7M376 393.5h7M379.5 390v7M376 394.5h7M379.5 391v7M376 400.5h7M379.5 397v7M376 401.5h7M379.5 398v7M376 405.5h7M379.5 402v7M376 407.5h7M379.5 404v7M376 409.5h7M379.5 406v7M376 415.5h7M379.5 412v7M377 377.5h7M380.5 374v7M377 383.5h7M380.5 380v7M377 388.5h7M380.5 385v7M377 389.5h7M380.5 386v7M377 392.5h7M380.5 389v7M377 399.5h7M380.5 396v7M377 406.5h7M380.5 403v7M377 408.5h7M380.5 405v7M377 411.5h7M380.5 408v7M377 416.5h7M380.5 413v7M378 373.5h7M381.5 370v7M378 374.5h7M381.5 371v7M378 383.5h7M381.5 380v7M378 384.5h7M381.5 381v7M378 386.5h7M381.5 383v7M378 387.5h7M381.5 384v7M378 389.5h7M381.5 386v7M378 391.5h7M381.5 388v7M378 392.5h7M381.5 389v7M378 398.5h7M381.5 395v7M378 400.5h7M381.5 397v7M378 402.5h7M381.5 399v7M378 403.5h7M381.5 400v7M378 404.5h7M381.5 401v7M378 407.5h7M381.5 404v7M378 410.5h7M381.5 407v7M378 412.5h7M381.5 409v7M378 413.5h7M381.5 410v7M378 415.5h7M381.5 412v7M378 416.5h7M381.5 413v7M379 373.5h7M382.5 370v7M379 374.5h7M382.5 371v7M379 375.5h7M382.5 372v7M379 376.5h7M382.5 373v7M379 377.5h7M382.5 374v7M379 379.5h7M382.5 376v7M379 381.5h7M382.5 378v7M379 382.5h7M382.5 379v7M379 383.5h7M382.5 380v7M379 385.5h7M382.5 382v7M379 386.5h7M382.5 383v7M379 387.5h7M382.5 384v7M379 392.5h7M382.5 389v7M379 395.5h7M382.5 392v7M379 397.5h7M382.5 394v7M379 399.5h7M382.5 396v7M379 401.5h7M382.5 398v7M379 403.5h7M382.5 400v7M379 404.5h7M382.5 401v7M379 405.5h7M382.5 402v7M379 410.5h7M382.5 407v7M379 411.5h7M382.5 408v7M380 373.5h7M383.5 370v7M380 377.5h7M383.5 374v7M380 382.5h7M383.5 379v7M380 384.5h7M383.5 381v7M380 386.5h7M383.5 383v7M380 389.5h7M383.5 386v7M380 390.5h7M383.5 387v7M380 397.5h7M383.5 394v7M380 399.5h7M383.5 396v7M380 400.5h7M383.5 397v7M380 406.5h7M383.5 403v7M380 410.5h7M383.5 407v7M380 416.5h7M383.5 413v7M381 374.5h7M384.5 371v7M381 376.5h7M384.5 373v7M381 378.5h7M384.5 375v7M381 381.5h7M384.5 378v7M381 383.5h7M384.5 380v7M381 385.5h7M384.5 382v7M381 390.5h7M384.5 387v7M381 392.5h7M384.5 389v7M381 395.5h7M384.5 392v7M381 397.5h7M384.5 394v7M381 400.5h7M384.5 397v7M381 403.5h7M384.5 400v7M381 405.5h7M384.5 402v7M381 406.5h7M384.5 403v7M381 407.5h7M384.5 404v7M381 409.5h7M384.5 406v7M381 412.5h7M384.5 409v7M381 415.5h7M384.5 412v7M381 416.5h7M384.5 413v7M382 373.5h7M385.5 370v7M382 377.5h7M385.5 374v7M382 378.5h7M385.5 375v7M382 385.5h7M385.5 382v7M382 386.5h7M385.5 383v7M382 390.5h7M385.5 387v7M382 392.5h7M385.5 389v7M382 393.5h7M385.5 390v7M382 394.5h7M385.5 391v7M382 398.5h7M385.5 395v7M382 400.5h7M385.5 397v7M382 402.5h7M385.5 399v7M382 403.5h7M385.5 400v7M382 404.5h7M385.5 401v7M382 405.5h7M385.5 402v7M382 407.5h7M385.5 404v7M382 408.5h7M385.5 405v7M382 410.5h7M385.5 407v7M382 414.5h7M385.5 411v7M383 361.5h7M386.5 358v7M383 366.5h7M386.5 363v7M383 370.5h7M386.5 367v7M383 373.5h7M386.5 370v7M383 375.5h7M386.5 372v7M383 380.5h7M386.5 377v7M383 381.5h7M386.5 378v7M383 386.5h7M386.5 383v7M383 390.5h7M386.5 387v7M383 391.5h7M386.5 388v7M383 393.5h7M386.5 390v7M383 399.5h7M386.5 396v7M383 402.5h7M386.5 399v7M383 403.5h7M386.5 400v7M383 404.5h7M386.5 401v7M383 413.5h7M386.5 410v7M383 416.5h7M386.5 413v7M384 376.5h7M387.5 373v7M384 378.5h7M387.5 375v7M384 380.5h7M387.5 377v7M384 382.5h7M387.5 379v7M384 383.5h7M387.5 380v7M384 385.5h7M387.5 382v7M384 386.5h7M387.5 383v7M384 388.5h7M387.5 385v7M384 391.5h7M387.5 388v7M384 393.5h7M387.5 390v7M384 394.5h7M387.5 391v7M384 395.5h7M387.5 392v7M384 396.5h7M387.5 393v7M384 401.5h7M387.5 398v7M384 402.5h7M387.5 399v7M384 405.5h7M387.5 402v7M384 407.5h7M387.5 404v7M384 411.5h7M387.5 408v7M384 413.5h7M387.5 410v7M384 414.5h7M387.5 411v7M385 382.5h7M388.5 379v7M385 386.5h7M388.5 383v7M385 387.5h7M388.5 384v7M385 389.5h7M388.5 386v7M385 392.5h7M388.5 389v7M385 396.5h7M388.5 393v7M385 397.5h7M388.5 394v7M385 401.5h7M388.5 398v7M385 403.5h7M388.5 400v7M385 407.5h7M388.5 404v7M385 409.5h7M388.5 406v7M385 414.5h7M388.5 411v7M385 415.5h7M388.5 412v7M386 382.5h7M389.5 379v7M386 383.5h7M389.5 380v7M386 384.5h7M389.5 381v7M386 386.5h7M389.5 383v7M386 387.5h7M389.5 384v7M386 389.5h7M389.5 386v7M386 390.5h7M389.5 387v7M386 393.5h7M389.5 390v7M386 400.5h7M389.5 397v7M386 405.5h7M389.5 402v7M386 406.5h7M389.5 403v7M386 408.5h7M389.5 405v7M386 409.5h7M389.5 406v7M386 411.5h7M389.5 408v7M386 412.5h7M389.5 409v7M386 416.5h7M389.5 413v7M387 383.5h7M390.5 380v7M387 384.5h7M390.5 381v7M387 389.5h7M390.5 386v7M387 393.5h7M390.5 390v7M387 394.5h7M390.5 391v7M387 396.5h7M390.5 393v7M387 397.5h7M390.5 394v7M387 398.5h7M390.5 395v7M387 402.5h7M390.5 399v7M387 403.5h7M390.5 400v7M387 404.5h7M390.5 401v7M387 408.5h7M390.5 405v7M387 409.5h7M390.5 406v7M387 410.5h7M390.5 407v7M387 415.5h7M390.5 412v7M387 416.5h7M390.5 413v7M388 380.5h7M391.5 377v7M388 383.5h7M391.5 380v7M388 384.5h7M391.5 381v7M388 386.5h7M391.5 383v7M388 391.5h7M391.5 388v7M388 394.5h7M391.5 391v7M388 395.5h7M391.5 392v7M388 397.5h7M391.5 394v7M388 398.5h7M391.5 395v7M388 402.5h7M391.5 399v7M388 403.5h7M391.5 400v7M388 404.5h7M391.5 401v7M388 405.5h7M391.5 402v7M388 406.5h7M391.5 403v7M388 409.5h7M391.5 406v7M388 412.5h7M391.5 409v7M388 413.5h7M391.5 410v7M388 414.5h7M391.5 411v7M388 415.5h7M391.5 412v7M388 416.5h7M391.5 413v7M389 370.5h7M392.5 367v7M389 373.5h7M392.5 370v7M389 376.5h7M392.5 373v7M389 388.5h7M392.5 385v7M389 391.5h7M392.5 388v7M389 395.5h7M392.5 392v7M389 398.5h7M392.5 395v7M389 403.5h7M392.5 400v7M389 407.5h7M392.5 404v7M389 408.5h7M392.5 405v7M389 414.5h7M392.5 411v7M389 415.5h7M392.5 412v7M389 416.5h7M392.5 413v7M390 380.5h7M393.5 377v7M390 382.5h7M393.5 379v7M390 385.5h7M393.5 382v7M390 386.5h7M393.5 383v7M390 387.5h7M393.5 384v7M390 389.5h7M393.5 386v7M390 391.5h7M393.5 388v7M390 392.5h7M393.5 389v7M390 394.5h7M393.5 391v7M390 395.5h7M393.5 392v7M390 396.5h7M393.5 393v7M390 399.5h7M393.5 396v7M390 402.5h7M393.5 399v7M390 403.5h7M393.5 400v7M390 404.5h7M393.5 401v7M390 405.5h7M393.5 402v7M390 409.5h7M393.5 406v7M390 410.5h7M393.5 407v7M390 412.5h7M393.5 409v7M390 415.5h7M393.5 412v7M390 416.5h7M393.5 413v7M391 381.5h7M394.5 378v7M391 383.5h7M394.5 380v7M391 386.5h7M394.5 383v7M391 387.5h7M394.5 384v7M391 390.5h7M394.5 387v7M391 391.5h7M394.5 388v7M391 392.5h7M394.5 389v7M391 393.5h7M394.5 390v7M391 396.5h7M394.5 393v7M391 397.5h7M394.5 394v7M391 400.5h7M394.5 397v7M391 403.5h7M394.5 400v7M391 405.5h7M394.5 402v7M391 408.5h7M394.5 405v7M391 411.5h7M394.5 408v7M391 413.5h7M394.5 410v7M392 388.5h7M395.5 385v7M392 392.5h7M395.5 389v7M392 394.5h7M395.5 391v7M392 397.5h7M395.5 394v7M392 399.5h7M395.5 396v7M392 407.5h7M395.5 404v7M392 408.5h7M395.5 405v7M392 412.5h7M395.5 409v7M392 414.5h7M395.5 411v7M393 381.5h7M396.5 378v7M393 385.5h7M396.5 382v7M393 386.5h7M396.5 383v7M393 388.5h7M396.5 385v7M393 389.5h7M396.5 386v7M393 391.5h7M396.5 388v7M393 392.5h7M396.5 389v7M393 393.5h7M396.5 390v7M393 394.5h7M396.5 391v7M393 395.5h7M396.5 392v7M393 397.5h7M396.5 394v7M393 398.5h7M396.5 395v7M393 399.5h7M396.5 396v7M393 401.5h7M396.5 398v7M393 402.5h7M396.5 399v7M393 403.5h7M396.5 400v7M393 405.5h7M396.5 402v7M393 407.5h7M396.5 404v7M393 411.5h7M396.5 408v7M393 412.5h7M396.5 409v7M393 413.5h7M396.5 410v7M393 415.5h7M396.5 412v7M394 376.5h7M397.5 373v7M394 384.5h7M397.5 381v7M394 391.5h7M397.5 388v7M394 393.5h7M397.5 390v7M394 395.5h7M397.5 392v7M394 399.5h7M397.5 396v7M394 401.5h7M397.5 398v7M394 402.5h7M397.5 399v7M394 403.5h7M397.5 400v7M394 404.5h7M397.5 401v7M394 406.5h7M397.5 403v7M394 415.5h7M397.5 412v7M395 384.5h7M398.5 381v7M395 386.5h7M398.5 383v7M395 389.5h7M398.5 386v7M395 390.5h7M398.5 387v7M395 393.5h7M398.5 390v7M395 396.5h7M398.5 393v7M395 398.5h7M398.5 395v7M395 399.5h7M398.5 396v7M395 401.5h7M398.5 398v7M395 402.5h7M398.5 399v7M395 410.5h7M398.5 407v7M395 416.5h7M398.5 413v7M396 382.5h7M399.5 379v7M396 384.5h7M399.5 381v7M396 385.5h7M399.5 382v7M396 387.5h7M399.5 384v7M396 388.5h7M399.5 385v7M396 392.5h7M399.5 389v7M396 393.5h7M399.5 390v7M396 394.5h7M399.5 391v7M396 397.5h7M399.5 394v7M396 403.5h7M399.5 400v7M396 404.5h7M399.5 401v7M396 405.5h7M399.5 402v7M396 407.5h7M399.5 404v7M396 409.5h7M399.5 406v7M396 410.5h7M399.5 407v7M397 382.5h7M400.5 379v7M397 384.5h7M400.5 381v7M397 388.5h7M400.5 385v7M397 389.5h7M400.5 386v7M397 392.5h7M400.5 389v7M397 393.5h7M400.5 390v7M397 404.5h7M400.5 401v7M397 405.5h7M400.5 402v7M397 406.5h7M400.5 403v7M397 407.5h7M400.5 404v7M397 408.5h7M400.5 405v7M397 409.5h7M400.5 406v7M397 410.5h7M400.5 407v7M398 380.5h7M401.5 377v7M398 383.5h7M401.5 380v7M398 384.5h7M401.5 381v7M398 385.5h7M401.5 382v7M398 386.5h7M401.5 383v7M398 389.5h7M401.5 386v7M398 390.5h7M401.5 387v7M398 391.5h7M401.5 388v7M398 393.5h7M401.5 390v7M398 395.5h7M401.5 392v7M398 399.5h7M401.5 396v7M398 404.5h7M401.5 401v7M398 405.5h7M401.5 402v7M398 406.5h7M401.5 403v7M399 380.5h7M402.5 377v7M399 382.5h7M402.5 379v7M399 387.5h7M402.5 384v7M399 388.5h7M402.5 385v7M399 393.5h7M402.5 390v7M399 394.5h7M402.5 391v7M399 400.5h7M402.5 397v7M399 402.5h7M402.5 399v7M399 406.5h7M402.5 403v7M399 407.5h7M402.5 404v7M399 408.5h7M402.5 405v7M399 415.5h7M402.5 412v7M400 384.5h7M403.5 381v7M400 385.5h7M403.5 382v7M400 386.5h7M403.5 383v7M400 389.5h7M403.5 386v7M400 390.5h7M403.5 387v7M400 392.5h7M403.5 389v7M400 394.5h7M403.5 391v7M400 395.5h7M403.5 392v7M400 399.5h7M403.5 396v7M400 400.5h7M403.5 397v7M400 401.5h7M403.5 398v7M400 404.5h7M403.5 401v7M400 405.5h7M403.5 402v7M400 407.5h7M403.5 404v7M400 411.5h7M403.5 408v7M401 385.5h7M404.5 382v7M401 390.5h7M404.5 387v7M401 391.5h7M404.5 388v7M401 395.5h7M404.5 392v7M401 397.5h7M404.5 394v7M401 398.5h7M404.5 395v7M401 399.5h7M404.5 396v7M401 400.5h7M404.5 397v7M401 402.5h7M404.5 399v7M401 404.5h7M404.5 401v7M401 406.5h7M404.5 403v7M401 408.5h7M404.5 405v7M401 409.5h7M404.5 406v7M401 410.5h7M404.5 407v7M401 412.5h7M404.5 409v7M401 415.5h7M404.5 412v7M402 387.5h7M405.5 384v7M402 392.5h7M405.5 389v7M402 393.5h7M405.5 390v7M402 397.5h7M405.5 394v7M402 408.5h7M405.5 405v7M402 409.5h7M405.5 406v7M402 411.5h7M405.5 408v7M402 412.5h7M405.5 409v7M402 413.5h7M405.5 410v7M402 416.5h7M405.5 413v7M403 386.5h7M406.5 383v7M403 387.5h7M406.5 384v7M403 389.5h7M406.5 386v7M403 390.5h7M406.5 387v7M403 392.5h7M406.5 389v7M403 394.5h7M406.5 391v7M403 395.5h7M406.5 392v7M403 400.5h7M406.5 397v7M403 401.5h7M406.5 398v7M403 406.5h7M406.5 403v7M403 408.5h7M406.5 405v7M403 412.5h7M406.5 409v7M403 416.5h7M406.5 413v7M404 387.5h7M407.5 384v7M404 388.5h7M407.5 385v7M404 389.5h7M407.5 386v7M404 390.5h7M407.5 387v7M404 394.5h7M407.5 391v7M404 395.5h7M407.5 392v7M404 397.5h7M407.5 394v7M404 399.5h7M407.5 396v7M404 407.5h7M407.5 404v7M404 409.5h7M407.5 406v7M404 412.5h7M407.5 409v7M404 416.5h7M407.5 413v7M405 388.5h7M408.5 385v7M405 390.5h7M408.5 387v7M405 391.5h7M408.5 388v7M405 394.5h7M408.5 391v7M405 396.5h7M408.5 393v7M405 398.5h7M408.5 395v7M405 400.5h7M408.5 397v7M405 407.5h7M408.5 404v7M405 408.5h7M408.5 405v7M405 410.5h7M408.5 407v7M405 412.5h7M408.5 409v7M405 413.5h7M408.5 410v7M405 416.5h7M408.5 413v7M406 388.5h7M409.5 385v7M406 390.5h7M409.5 387v7M406 393.5h7M409.5 390v7M406 394.5h7M409.5 391v7M406 396.5h7M409.5 393v7M406 403.5h7M409.5 400v7M406 404.5h7M409.5 401v7M406 405.5h7M409.5 402v7M406 412.5h7M409.5 409v7M406 413.5h7M409.5 410v7M406 416.5h7M409.5 413v7M407 390.5h7M410.5 387v7M407 391.5h7M410.5 388v7M407 393.5h7M410.5 390v7M407 394.5h7M410.5 391v7M407 395.5h7M410.5 392v7M407 399.5h7M410.5 396v7M407 401.5h7M410.5 398v7M407 403.5h7M410.5 400v7M407 406.5h7M410.5 403v7M407 407.5h7M410.5 404v7M407 416.5h7M410.5 413v7M408 388.5h7M411.5 385v7M408 389.5h7M411.5 386v7M408 393.5h7M411.5 390v7M408 395.5h7M411.5 392v7M408 398.5h7M411.5 395v7M408 400.5h7M411.5 397v7M408 401.5h7M411.5 398v7M408 403.5h7M411.5 400v7M408 410.5h7M411.5 407v7M408 415.5h7M411.5 412v7M408 416.5h7M411.5 413v7M409 385.5h7M412.5 382v7M409 388.5h7M412.5 385v7M409 390.5h7M412.5 387v7M409 393.5h7M412.5 390v7M409 394.5h7M412.5 391v7M409 395.5h7M412.5 392v7M409 396.5h7M412.5 393v7M409 397.5h7M412.5 394v7M409 402.5h7M412.5 399v7M409 408.5h7M412.5 405v7M409 409.5h7M412.5 406v7M409 410.5h7M412.5 407v7M409 412.5h7M412.5 409v7M409 413.5h7M412.5 410v7M409 415.5h7M412.5 412v7M410 388.5h7M413.5 385v7M410 389.5h7M413.5 386v7M410 392.5h7M413.5 389v7M410 393.5h7M413.5 390v7M410 395.5h7M413.5 392v7M410 397.5h7M413.5 394v7M410 398.5h7M413.5 395v7M410 399.5h7M413.5 396v7M410 402.5h7M413.5 399v7M410 409.5h7M413.5 406v7M410 413.5h7M413.5 410v7M410 414.5h7M413.5 411v7M410 415.5h7M413.5 412v7M411 391.5h7M414.5 388v7M411 392.5h7M414.5 389v7M411 393.5h7M414.5 390v7M411 394.5h7M414.5 391v7M411 396.5h7M414.5 393v7M411 397.5h7M414.5 394v7M411 398.5h7M414.5 395v7M411 400.5h7M414.5 397v7M411 402.5h7M414.5 399v7M411 407.5h7M414.5 404v7M411 414.5h7M414.5 411v7M411 415.5h7M414.5 412v7M411 416.5h7M414.5 413v7M412 390.5h7M415.5 387v7M412 392.5h7M415.5 389v7M412 395.5h7M415.5 392v7M412 399.5h7M415.5 396v7M412 405.5h7M415.5 402v7M412 408.5h7M415.5 405v7M412 410.5h7M415.5 407v7M412 412.5h7M415.5 409v7M412 416.5h7M415.5 413v7M413 391.5h7M416.5 388v7M413 395.5h7M416.5 392v7M413 398.5h7M416.5 395v7M413 400.5h7M416.5 397v7M413 401.5h7M416.5 398v7M413 409.5h7M416.5 406v7M413 410.5h7M416.5 407v7M413 412.5h7M416.5 409v7M413 416.5h7M416.5 413v7M414 390.5h7M417.5 387v7M414 391.5h7M417.5 388v7M414 392.5h7M417.5 389v7M414 393.5h7M417.5 390v7M414 394.5h7M417.5 391v7M414 396.5h7M417.5 393v7M414 399.5h7M417.5 396v7M414 402.5h7M417.5 399v7M414 403.5h7M417.5 400v7M414 404.5h7M417.5 401v7M414 406.5h7M417.5 403v7M414 414.5h7M417.5 411v7M414 415.5h7M417.5 412v7M414 416.5h7M417.5 413v7M415 390.5h7M418.5 387v7M415 394.5h7M418.5 391v7M415 396.5h7M418.5 393v7M415 398.5h7M418.5 395v7M415 399.5h7M418.5 396v7M415 402.5h7M418.5 399v7M415 409.5h7M418.5 406v7M415 410.5h7M418.5 407v7M416 393.5h7M419.5 390v7M416 394.5h7M419.5 391v7M416 397.5h7M419.5 394v7M416 399.5h7M419.5 396v7M416 405.5h7M419.5 402v7M416 407.5h7M419.5 404v7M416 408.5h7M419.5 405v7M416 412.5h7M419.5 409v7M416 416.5h7M419.5 413v7M417 393.5h7M420.5 390v7M417 394.5h7M420.5 391v7M417 396.5h7M420.5 393v7M417 401.5h7M420.5 398v7M417 404.5h7M420.5 401v7M417 406.5h7M420.5 403v7M417 409.5h7M420.5 406v7M417 412.5h7M420.5 409v7M417 413.5h7M420.5 410v7M417 416.5h7M420.5 413v7M418 394.5h7M421.5 391v7M418 396.5h7M421.5 393v7M418 402.5h7M421.5 399v7M418 406.5h7M421.5 403v7M418 407.5h7M421.5 404v7M418 409.5h7M421.5 406v7M418 416.5h7M421.5 413v7M419 386.5h7M422.5 383v7M419 390.5h7M422.5 387v7M419 391.5h7M422.5 388v7M419 392.5h7M422.5 389v7M419 395.5h7M422.5 392v7M419 397.5h7M422.5 394v7M419 402.5h7M422.5 399v7M419 404.5h7M422.5 401v7M419 410.5h7M422.5 407v7M419 411.5h7M422.5 408v7M419 412.5h7M422.5 409v7M419 413.5h7M422.5 410v7M419 415.5h7M422.5 412v7M419 416.5h7M422.5 413v7M420 386.5h7M423.5 383v7M420 387.5h7M423.5 384v7M420 403.5h7M423.5 400v7M420 405.5h7M423.5 402v7M420 407.5h7M423.5 404v7M420 409.5h7M423.5 406v7M420 411.5h7M423.5 408v7M420 412.5h7M423.5 409v7M420 414.5h7M423.5 411v7M420 416.5h7M423.5 413v7M421 369.5h7M424.5 366v7M421 377.5h7M424.5 374v7M421 379.5h7M424.5 376v7M421 385.5h7M424.5 382v7M421 386.5h7M424.5 383v7M421 390.5h7M424.5 387v7M421 392.5h7M424.5 389v7M421 403.5h7M424.5 400v7M421 406.5h7M424.5 403v7M421 407.5h7M424.5 404v7M421 409.5h7M424.5 406v7M421 412.5h7M424.5 409v7M421 413.5h7M424.5 410v7M421 415.5h7M424.5 412v7M422 406.5h7M425.5 403v7M422 407.5h7M425.5 404v7M422 414.5h7M425.5 411v7M423 405.5h7M426.5 402v7M423 406.5h7M426.5 403v7M423 409.5h7M426.5 406v7M423 416.5h7M426.5 413v7M424 407.5h7M427.5 404v7M424 413.5h7M427.5 410v7M424 415.5h7M427.5 412v7M424 416.5h7M427.5 413v7M425 405.5h7M428.5 402v7M425 406.5h7M428.5 403v7M425 409.5h7M428.5 406v7M425 415.5h7M428.5 412v7M425 416.5h7M428.5 413v7M426 346.5h7M429.5 343v7M426 351.5h7M429.5 348v7M426 352.5h7M429.5 349v7M426 359.5h7M429.5 356v7M426 406.5h7M429.5 403v7M426 407.5h7M429.5 404v7M426 410.5h7M429.5 407v7M426 411.5h7M429.5 408v7M426 413.5h7M429.5 410v7M426 414.5h7M429.5 411v7M426 415.5h7M429.5 412v7M426 416.5h7M429.5 413v7M427 354.5h7M430.5 351v7M427 371.5h7M430.5 368v7M427 373.5h7M430.5 370v7M427 377.5h7M430.5 374v7M427 380.5h7M430.5 377v7M427 385.5h7M430.5 382v7M427 405.5h7M430.5 402v7M427 408.5h7M430.5 405v7M427 414.5h7M430.5 411v7M427 416.5h7M430.5 413v7M428 357.5h7M431.5 354v7M428 363.5h7M431.5 360v7M428 368.5h7M431.5 365v7M428 370.5h7M431.5 367v7M428 383.5h7M431.5 380v7M428 402.5h7M431.5 399v7M428 404.5h7M431.5 401v7M428 406.5h7M431.5 403v7M428 409.5h7M431.5 406v7M428 413.5h7M431.5 410v7M428 415.5h7M431.5 412v7M428 416.5h7M431.5 413v7M429 364.5h7M432.5 361v7M429 367.5h7M432.5 364v7M429 385.5h7M432.5 382v7M429 407.5h7M432.5 404v7M429 412.5h7M432.5 409v7M429 416.5h7M432.5 413v7M430 385.5h7M433.5 382v7M430 402.5h7M433.5 399v7M430 403.5h7M433.5 400v7M430 404.5h7M433.5 401v7M430 405.5h7M433.5 402v7M430 407.5h7M433.5 404v7M430 408.5h7M433.5 405v7M430 410.5h7M433.5 407v7M430 412.5h7M433.5 409v7M430 413.5h7M433.5 410v7M431 399.5h7M434.5 396v7M431 402.5h7M434.5 399v7M431 406.5h7M434.5 403v7M431 408.5h7M434.5 405v7M431 410.5h7M434.5 407v7M431 412.5h7M434.5 409v7M431 413.5h7M434.5 410v7M431 414.5h7M434.5 411v7M432 387.5h7M435.5 384v7M432 397.5h7M435.5 394v7M432 398.5h7M435.5 395v7M432 399.5h7M435.5 396v7M432 400.5h7M435.5 397v7M432 402.5h7M435.5 399v7M432 406.5h7M435.5 403v7M432 408.5h7M435.5 405v7M432 411.5h7M435.5 408v7M432 414.5h7M435.5 411v7M432 415.5h7M435.5 412v7M433 387.5h7M436.5 384v7M433 399.5h7M436.5 396v7M433 404.5h7M436.5 401v7M433 407.5h7M436.5 404v7M433 409.5h7M436.5 406v7M433 412.5h7M436.5 409v7M433 413.5h7M436.5 410v7M434 375.5h7M437.5 372v7M434 378.5h7M437.5 375v7M434 380.5h7M437.5 377v7M434 382.5h7M437.5 379v7M434 383.5h7M437.5 380v7M434 384.5h7M437.5 381v7M434 388.5h7M437.5 385v7M434 397.5h7M437.5 394v7M434 399.5h7M437.5 396v7M434 400.5h7M437.5 397v7M434 402.5h7M437.5 399v7M434 403.5h7M437.5 400v7M434 404.5h7M437.5 401v7M434 408.5h7M437.5 405v7M434 411.5h7M437.5 408v7M434 412.5h7M437.5 409v7M434 413.5h7M437.5 410v7M435 373.5h7M438.5 370v7M435 374.5h7M438.5 371v7M435 375.5h7M438.5 372v7M435 378.5h7M438.5 375v7M435 380.5h7M438.5 377v7M435 384.5h7M438.5 381v7M435 386.5h7M438.5 383v7M435 387.5h7M438.5 384v7M435 388.5h7M438.5 385v7M435 392.5h7M438.5 389v7M435 393.5h7M438.5 390v7M435 401.5h7M438.5 398v7M435 404.5h7M438.5 401v7M435 406.5h7M438.5 403v7M435 410.5h7M438.5 407v7M435 412.5h7M438.5 409v7M435 413.5h7M438.5 410v7M436 371.5h7M439.5 368v7M436 374.5h7M439.5 371v7M436 377.5h7M439.5 374v7M436 380.5h7M439.5 377v7M436 381.5h7M439.5 378v7M436 383.5h7M439.5 380v7M436 386.5h7M439.5 383v7M436 388.5h7M439.5 385v7M436 390.5h7M439.5 387v7M436 392.5h7M439.5 389v7M436 399.5h7M439.5 396v7M436 405.5h7M439.5 402v7M436 409.5h7M439.5 406v7M436 415.5h7M439.5 412v7M436 416.5h7M439.5 413v7M437 371.5h7M440.5 368v7M437 372.5h7M440.5 369v7M437 375.5h7M440.5 372v7M437 378.5h7M440.5 375v7M437 380.5h7M440.5 377v7M437 381.5h7M440.5 378v7M437 386.5h7M440.5 383v7M437 389.5h7M440.5 386v7M437 391.5h7M440.5 388v7M437 393.5h7M440.5 390v7M437 395.5h7M440.5 392v7M437 398.5h7M440.5 395v7M437 399.5h7M440.5 396v7M437 407.5h7M440.5 404v7M437 408.5h7M440.5 405v7M437 410.5h7M440.5 407v7M437 411.5h7M440.5 408v7M437 416.5h7M440.5 413v7M438 374.5h7M441.5 371v7M438 375.5h7M441.5 372v7M438 377.5h7M441.5 374v7M438 379.5h7M441.5 376v7M438 382.5h7M441.5 379v7M438 383.5h7M441.5 380v7M438 384.5h7M441.5 381v7M438 388.5h7M441.5 385v7M438 389.5h7M441.5 386v7M438 391.5h7M441.5 388v7M438 392.5h7M441.5 389v7M438 397.5h7M441.5 394v7M438 399.5h7M441.5 396v7M438 400.5h7M441.5 397v7M438 408.5h7M441.5 405v7M438 412.5h7M441.5 409v7M438 413.5h7M441.5 410v7M438 416.5h7M441.5 413v7M439 371.5h7M442.5 368v7M439 372.5h7M442.5 369v7M439 374.5h7M442.5 371v7M439 378.5h7M442.5 375v7M439 380.5h7M442.5 377v7M439 382.5h7M442.5 379v7M439 384.5h7M442.5 381v7M439 390.5h7M442.5 387v7M439 391.5h7M442.5 388v7M439 393.5h7M442.5 390v7M439 394.5h7M442.5 391v7M439 395.5h7M442.5 392v7M439 396.5h7M442.5 393v7M439 397.5h7M442.5 394v7M439 398.5h7M442.5 395v7M439 411.5h7M442.5 408v7M439 413.5h7M442.5 410v7M439 416.5h7M442.5 413v7M440 373.5h7M443.5 370v7M440 374.5h7M443.5 371v7M440 377.5h7M443.5 374v7M440 378.5h7M443.5 375v7M440 380.5h7M443.5 377v7M440 381.5h7M443.5 378v7M440 382.5h7M443.5 379v7M440 384.5h7M443.5 381v7M440 386.5h7M443.5 383v7M440 388.5h7M443.5 385v7M440 391.5h7M443.5 388v7M440 394.5h7M443.5 391v7M440 396.5h7M443.5 393v7M440 397.5h7M443.5 394v7M440 398.5h7M443.5 395v7M440 399.5h7M443.5 396v7M440 400.5h7M443.5 397v7M440 401.5h7M443.5 398v7M440 402.5h7M443.5 399v7M440 403.5h7M443.5 400v7M440 404.5h7M443.5 401v7M440 405.5h7M443.5 402v7M440 408.5h7M443.5 405v7M440 410.5h7M443.5 407v7M440 411.5h7M443.5 408v7M440 412.5h7M443.5 409v7M441 378.5h7M444.5 375v7M441 381.5h7M444.5 378v7M441 382.5h7M444.5 379v7M441 384.5h7M444.5 381v7M441 385.5h7M444.5 382v7M441 389.5h7M444.5 386v7M441 390.5h7M444.5 387v7M441 391.5h7M444.5 388v7M441 396.5h7M444.5 393v7M441 399.5h7M444.5 396v7M441 400.5h7M444.5 397v7M441 402.5h7M444.5 399v7M441 406.5h7M444.5 403v7M441 408.5h7M444.5 405v7M441 409.5h7M444.5 406v7M441 415.5h7M444.5 412v7M441 416.5h7M444.5 413v7M442 378.5h7M445.5 375v7M442 379.5h7M445.5 376v7M442 380.5h7M445.5 377v7M442 384.5h7M445.5 381v7M442 387.5h7M445.5 384v7M442 388.5h7M445.5 385v7M442 389.5h7M445.5 386v7M442 390.5h7M445.5 387v7M442 398.5h7M445.5 395v7M442 399.5h7M445.5 396v7M442 400.5h7M445.5 397v7M442 401.5h7M445.5 398v7M442 402.5h7M445.5 399v7M442 410.5h7M445.5 407v7M442 413.5h7M445.5 410v7M443 382.5h7M446.5 379v7M443 387.5h7M446.5 384v7M443 388.5h7M446.5 385v7M443 389.5h7M446.5 386v7M443 391.5h7M446.5 388v7M443 392.5h7M446.5 389v7M443 394.5h7M446.5 391v7M443 395.5h7M446.5 392v7M443 398.5h7M446.5 395v7M443 399.5h7M446.5 396v7M443 404.5h7M446.5 401v7M443 407.5h7M446.5 404v7M443 412.5h7M446.5 409v7M444 385.5h7M447.5 382v7M444 387.5h7M447.5 384v7M444 392.5h7M447.5 389v7M444 396.5h7M447.5 393v7M444 399.5h7M447.5 396v7M444 404.5h7M447.5 401v7M444 407.5h7M447.5 404v7M444 408.5h7M447.5 405v7M444 409.5h7M447.5 406v7M444 410.5h7M447.5 407v7M444 411.5h7M447.5 408v7M444 412.5h7M447.5 409v7M444 413.5h7M447.5 410v7M444 414.5h7M447.5 411v7M444 415.5h7M447.5 412v7M444 416.5h7M447.5 413v7M445 380.5h7M448.5 377v7M445 381.5h7M448.5 378v7M445 382.5h7M448.5 379v7M445 383.5h7M448.5 380v7M445 385.5h7M448.5 382v7M445 387.5h7M448.5 384v7M445 389.5h7M448.5 386v7M445 391.5h7M448.5 388v7M445 392.5h7M448.5 389v7M445 394.5h7M448.5 391v7M445 395.5h7M448.5 392v7M445 397.5h7M448.5 394v7M445 398.5h7M448.5 395v7M445 399.5h7M448.5 396v7M445 400.5h7M448.5 397v7M445 401.5h7M448.5 398v7M445 402.5h7M448.5 399v7M445 403.5h7M448.5 400v7M445 410.5h7M448.5 407v7M445 413.5h7M448.5 410v7M446 380.5h7M449.5 377v7M446 382.5h7M449.5 379v7M446 385.5h7M449.5 382v7M446 387.5h7M449.5 384v7M446 388.5h7M449.5 385v7M446 400.5h7M449.5 397v7M446 402.5h7M449.5 399v7M446 403.5h7M449.5 400v7M446 404.5h7M449.5 401v7M446 411.5h7M449.5 408v7M446 412.5h7M449.5 409v7M446 416.5h7M449.5 413v7M447 359.5h7M450.5 356v7M447 367.5h7M450.5 364v7M447 370.5h7M450.5 367v7M447 373.5h7M450.5 370v7M447 377.5h7M450.5 374v7M447 380.5h7M450.5 377v7M447 381.5h7M450.5 378v7M447 382.5h7M450.5 379v7M447 383.5h7M450.5 380v7M447 385.5h7M450.5 382v7M447 388.5h7M450.5 385v7M447 389.5h7M450.5 386v7M447 395.5h7M450.5 392v7M447 396.5h7M450.5 393v7M447 399.5h7M450.5 396v7M447 400.5h7M450.5 397v7M447 401.5h7M450.5 398v7M447 409.5h7M450.5 406v7M447 410.5h7M450.5 407v7M447 413.5h7M450.5 410v7M447 415.5h7M450.5 412v7M447 416.5h7M450.5 413v7M448 352.5h7M451.5 349v7M448 362.5h7M451.5 359v7M448 363.5h7M451.5 360v7M448 380.5h7M451.5 377v7M448 381.5h7M451.5 378v7M448 382.5h7M451.5 379v7M448 383.5h7M451.5 380v7M448 384.5h7M451.5 381v7M448 385.5h7M451.5 382v7M448 387.5h7M451.5 384v7M448 393.5h7M451.5 390v7M448 394.5h7M451.5 391v7M448 395.5h7M451.5 392v7M448 397.5h7M451.5 394v7M448 398.5h7M451.5 395v7M448 400.5h7M451.5 397v7M448 402.5h7M451.5 399v7M448 403.5h7M451.5 400v7M448 404.5h7M451.5 401v7M448 405.5h7M451.5 402v7M448 410.5h7M451.5 407v7M448 412.5h7M451.5 409v7M449 363.5h7M452.5 360v7M449 380.5h7M452.5 377v7M449 381.5h7M452.5 378v7M449 383.5h7M452.5 380v7M449 384.5h7M452.5 381v7M449 388.5h7M452.5 385v7M449 394.5h7M452.5 391v7M449 395.5h7M452.5 392v7M449 397.5h7M452.5 394v7M449 399.5h7M452.5 396v7M449 404.5h7M452.5 401v7M449 406.5h7M452.5 403v7M449 409.5h7M452.5 406v7M449 412.5h7M452.5 409v7M449 415.5h7M452.5 412v7M449 416.5h7M452.5 413v7M450 382.5h7M453.5 379v7M450 385.5h7M453.5 382v7M450 387.5h7M453.5 384v7M450 388.5h7M453.5 385v7M450 390.5h7M453.5 387v7M450 392.5h7M453.5 389v7M450 398.5h7M453.5 395v7M450 399.5h7M453.5 396v7M450 401.5h7M453.5 398v7M450 405.5h7M453.5 402v7M450 406.5h7M453.5 403v7M450 410.5h7M453.5 407v7M450 413.5h7M453.5 410v7M451 383.5h7M454.5 380v7M451 385.5h7M454.5 382v7M451 387.5h7M454.5 384v7M451 388.5h7M454.5 385v7M451 393.5h7M454.5 390v7M451 394.5h7M454.5 391v7M451 395.5h7M454.5 392v7M451 397.5h7M454.5 394v7M451 398.5h7M454.5 395v7M451 400.5h7M454.5 397v7M451 402.5h7M454.5 399v7M451 405.5h7M454.5 402v7M451 407.5h7M454.5 404v7M451 413.5h7M454.5 410v7M452 382.5h7M455.5 379v7M452 384.5h7M455.5 381v7M452 385.5h7M455.5 382v7M452 387.5h7M455.5 384v7M452 388.5h7M455.5 385v7M452 392.5h7M455.5 389v7M452 393.5h7M455.5 390v7M452 394.5h7M455.5 391v7M452 395.5h7M455.5 392v7M452 399.5h7M455.5 396v7M452 401.5h7M455.5 398v7M452 403.5h7M455.5 400v7M452 404.5h7M455.5 401v7M452 409.5h7M455.5 406v7M452 410.5h7M455.5 407v7M452 412.5h7M455.5 409v7M452 415.5h7M455.5 412v7M452 416.5h7M455.5 413v7M453 378.5h7M456.5 375v7M453 380.5h7M456.5 377v7M453 382.5h7M456.5 379v7M453 388.5h7M456.5 385v7M453 390.5h7M456.5 387v7M453 391.5h7M456.5 388v7M453 393.5h7M456.5 390v7M453 396.5h7M456.5 393v7M453 398.5h7M456.5 395v7M453 406.5h7M456.5 403v7M453 408.5h7M456.5 405v7M453 410.5h7M456.5 407v7M453 412.5h7M456.5 409v7M453 414.5h7M456.5 411v7M453 415.5h7M456.5 412v7M454 381.5h7M457.5 378v7M454 382.5h7M457.5 379v7M454 383.5h7M457.5 380v7M454 386.5h7M457.5 383v7M454 392.5h7M457.5 389v7M454 393.5h7M457.5 390v7M454 397.5h7M457.5 394v7M454 398.5h7M457.5 395v7M454 407.5h7M457.5 404v7M454 410.5h7M457.5 407v7M454 411.5h7M457.5 408v7M454 413.5h7M457.5 410v7M454 414.5h7M457.5 411v7M454 416.5h7M457.5 413v7M455 372.5h7M458.5 369v7M455 376.5h7M458.5 373v7M455 378.5h7M458.5 375v7M455 379.5h7M458.5 376v7M455 382.5h7M458.5 379v7M455 386.5h7M458.5 383v7M455 388.5h7M458.5 385v7M455 389.5h7M458.5 386v7M455 393.5h7M458.5 390v7M455 394.5h7M458.5 391v7M455 395.5h7M458.5 392v7M455 396.5h7M458.5 393v7M455 397.5h7M458.5 394v7M455 401.5h7M458.5 398v7M455 403.5h7M458.5 400v7M455 406.5h7M458.5 403v7M455 407.5h7M458.5 404v7M455 414.5h7M458.5 411v7M456 378.5h7M459.5 375v7M456 379.5h7M459.5 376v7M456 384.5h7M459.5 381v7M456 386.5h7M459.5 383v7M456 388.5h7M459.5 385v7M456 389.5h7M459.5 386v7M456 393.5h7M459.5 390v7M456 394.5h7M459.5 391v7M456 395.5h7M459.5 392v7M456 397.5h7M459.5 394v7M456 398.5h7M459.5 395v7M456 403.5h7M459.5 400v7M456 404.5h7M459.5 401v7M456 406.5h7M459.5 403v7M456 408.5h7M459.5 405v7M456 409.5h7M459.5 406v7M456 411.5h7M459.5 408v7M456 415.5h7M459.5 412v7M456 416.5h7M459.5 413v7M457 378.5h7M460.5 375v7M457 379.5h7M460.5 376v7M457 381.5h7M460.5 378v7M457 382.5h7M460.5 379v7M457 383.5h7M460.5 380v7M457 384.5h7M460.5 381v7M457 385.5h7M460.5 382v7M457 387.5h7M460.5 384v7M457 388.5h7M460.5 385v7M457 391.5h7M460.5 388v7M457 394.5h7M460.5 391v7M457 397.5h7M460.5 394v7M457 399.5h7M460.5 396v7M457 400.5h7M460.5 397v7M457 404.5h7M460.5 401v7M457 411.5h7M460.5 408v7M457 413.5h7M460.5 410v7M457 416.5h7M460.5 413v7M458 378.5h7M461.5 375v7M458 384.5h7M461.5 381v7M458 387.5h7M461.5 384v7M458 389.5h7M461.5 386v7M458 390.5h7M461.5 387v7M458 393.5h7M461.5 390v7M458 395.5h7M461.5 392v7M458 400.5h7M461.5 397v7M458 405.5h7M461.5 402v7M458 406.5h7M461.5 403v7M458 407.5h7M461.5 404v7M458 410.5h7M461.5 407v7M458 411.5h7M461.5 408v7M458 412.5h7M461.5 409v7M458 413.5h7M461.5 410v7M458 414.5h7M461.5 411v7M458 416.5h7M461.5 413v7M459 388.5h7M462.5 385v7M459 389.5h7M462.5 386v7M459 391.5h7M462.5 388v7M459 392.5h7M462.5 389v7M459 403.5h7M462.5 400v7M459 404.5h7M462.5 401v7M459 410.5h7M462.5 407v7M459 412.5h7M462.5 409v7M460 403.5h7M463.5 400v7M460 406.5h7M463.5 403v7M460 414.5h7M463.5 411v7M461 403.5h7M464.5 400v7M461 404.5h7M464.5 401v7M461 406.5h7M464.5 403v7M461 408.5h7M464.5 405v7M461 410.5h7M464.5 407v7M461 411.5h7M464.5 408v7M461 412.5h7M464.5 409v7M461 413.5h7M464.5 410v7M461 414.5h7M464.5 411v7M461 415.5h7M464.5 412v7M461 416.5h7M464.5 413v7M462 404.5h7M465.5 401v7M462 406.5h7M465.5 403v7M462 407.5h7M465.5 404v7M462 412.5h7M465.5 409v7M463 399.5h7M466.5 396v7M463 400.5h7M466.5 397v7M463 401.5h7M466.5 398v7M463 402.5h7M466.5 399v7M463 404.5h7M466.5 401v7M463 406.5h7M466.5 403v7M463 409.5h7M466.5 406v7M463 410.5h7M466.5 407v7M463 411.5h7M466.5 408v7M463 412.5h7M466.5 409v7M464 401.5h7M467.5 398v7M464 408.5h7M467.5 405v7M464 409.5h7M467.5 406v7M464 415.5h7M467.5 412v7M464 416.5h7M467.5 413v7M465 390.5h7M468.5 387v7M465 408.5h7M468.5 405v7M465 409.5h7M468.5 406v7M465 410.5h7M468.5 407v7M465 411.5h7M468.5 408v7M465 412.5h7M468.5 409v7M465 414.5h7M468.5 411v7M466 398.5h7M469.5 395v7M466 403.5h7M469.5 400v7M466 405.5h7M469.5 402v7M466 406.5h7M469.5 403v7M466 408.5h7M469.5 405v7M466 409.5h7M469.5 406v7M466 411.5h7M469.5 408v7M466 412.5h7M469.5 409v7M466 414.5h7M469.5 411v7M466 416.5h7M469.5 413v7M467 396.5h7M470.5 393v7M467 398.5h7M470.5 395v7M467 400.5h7M470.5 397v7M467 401.5h7M470.5 398v7M467 402.5h7M470.5 399v7M467 404.5h7M470.5 401v7M467 405.5h7M470.5 402v7M467 406.5h7M470.5 403v7M467 407.5h7M470.5 404v7M468 397.5h7M471.5 394v7M468 398.5h7M471.5 395v7M468 401.5h7M471.5 398v7M468 402.5h7M471.5 399v7M468 405.5h7M471.5 402v7M468 413.5h7M471.5 410v7M468 415.5h7M471.5 412v7M468 416.5h7M471.5 413v7M469 396.5h7M472.5 393v7M469 398.5h7M472.5 395v7M469 406.5h7M472.5 403v7M469 408.5h7M472.5 405v7M469 411.5h7M472.5 408v7M470 392.5h7M473.5 389v7M470 397.5h7M473.5 394v7M470 399.5h7M473.5 396v7M470 401.5h7M473.5 398v7M470 402.5h7M473.5 399v7M470 403.5h7M473.5 400v7M470 404.5h7M473.5 401v7M470 405.5h7M473.5 402v7M470 409.5h7M473.5 406v7M470 410.5h7M473.5 407v7M470 411.5h7M473.5 408v7M470 413.5h7M473.5 410v7M471 397.5h7M474.5 394v7M471 402.5h7M474.5 399v7M471 403.5h7M474.5 400v7M471 404.5h7M474.5 401v7M471 405.5h7M474.5 402v7M471 406.5h7M474.5 403v7M471 407.5h7M474.5 404v7M471 412.5h7M474.5 409v7M471 413.5h7M474.5 410v7M471 416.5h7M474.5 413v7M472 397.5h7M475.5 394v7M472 402.5h7M475.5 399v7M472 405.5h7M475.5 402v7M472 406.5h7M475.5 403v7M472 409.5h7M475.5 406v7M472 411.5h7M475.5 408v7M472 416.5h7M475.5 413v7M473 397.5h7M476.5 394v7M473 398.5h7M476.5 395v7M473 405.5h7M476.5 402v7M473 406.5h7M476.5 403v7M473 407.5h7M476.5 404v7M473 410.5h7M476.5 407v7M473 412.5h7M476.5 409v7M473 415.5h7M476.5 412v7M474 400.5h7M477.5 397v7M474 402.5h7M477.5 399v7M474 410.5h7M477.5 407v7M474 411.5h7M477.5 408v7M474 414.5h7M477.5 411v7M474 415.5h7M477.5 412v7M475 394.5h7M478.5 391v7M475 397.5h7M478.5 394v7M475 398.5h7M478.5 395v7M475 401.5h7M478.5 398v7M475 413.5h7M478.5 410v7M475 414.5h7M478.5 411v7M476 393.5h7M479.5 390v7M476 394.5h7M479.5 391v7M476 395.5h7M479.5 392v7M476 399.5h7M479.5 396v7M476 400.5h7M479.5 397v7M476 401.5h7M479.5 398v7M476 402.5h7M479.5 399v7M476 407.5h7M479.5 404v7M476 411.5h7M479.5 408v7M476 412.5h7M479.5 409v7M476 413.5h7M479.5 410v7M476 414.5h7M479.5 411v7M477 399.5h7M480.5 396v7M477 402.5h7M480.5 399v7M477 405.5h7M480.5 402v7M477 408.5h7M480.5 405v7M477 409.5h7M480.5 406v7M477 410.5h7M480.5 407v7M477 413.5h7M480.5 410v7M477 416.5h7M480.5 413v7M478 398.5h7M481.5 395v7M478 399.5h7M481.5 396v7M478 401.5h7M481.5 398v7M478 404.5h7M481.5 401v7M478 406.5h7M481.5 403v7M478 409.5h7M481.5 406v7M478 410.5h7M481.5 407v7M478 412.5h7M481.5 409v7M478 414.5h7M481.5 411v7M478 415.5h7M481.5 412v7M479 401.5h7M482.5 398v7M479 402.5h7M482.5 399v7M479 403.5h7M482.5 400v7M479 406.5h7M482.5 403v7M479 407.5h7M482.5 404v7M479 408.5h7M482.5 405v7M479 409.5h7M482.5 406v7M479 412.5h7M482.5 409v7M480 398.5h7M483.5 395v7M480 399.5h7M483.5 396v7M480 400.5h7M483.5 397v7M480 401.5h7M483.5 398v7M480 402.5h7M483.5 399v7M480 403.5h7M483.5 400v7M480 404.5h7M483.5 401v7M480 406.5h7M483.5 403v7M480 408.5h7M483.5 405v7M480 409.5h7M483.5 406v7M480 410.5h7M483.5 407v7M480 412.5h7M483.5 409v7M480 413.5h7M483.5 410v7M480 414.5h7M483.5 411v7M480 416.5h7M483.5 413v7M481 403.5h7M484.5 400v7M481 405.5h7M484.5 402v7M481 408.5h7M484.5 405v7M481 409.5h7M484.5 406v7M481 411.5h7M484.5 408v7M481 413.5h7M484.5 410v7M481 415.5h7M484.5 412v7M482 405.5h7M485.5 402v7M482 408.5h7M485.5 405v7M482 412.5h7M485.5 409v7M482 413.5h7M485.5 410v7M482 416.5h7M485.5 413v7M483 398.5h7M486.5 395v7M483 400.5h7M486.5 397v7M483 402.5h7M486.5 399v7M483 407.5h7M486.5 404v7M483 408.5h7M486.5 405v7M483 411.5h7M486.5 408v7M483 416.5h7M486.5 413v7M484 399.5h7M487.5 396v7M484 400.5h7M487.5 397v7M484 402.5h7M487.5 399v7M484 404.5h7M487.5 401v7M484 407.5h7M487.5 404v7M484 408.5h7M487.5 405v7M484 410.5h7M487.5 407v7M484 413.5h7M487.5 410v7M484 415.5h7M487.5 412v7M484 416.5h7M487.5 413v7M485 397.5h7M488.5 394v7M485 398.5h7M488.5 395v7M485 402.5h7M488.5 399v7M485 406.5h7M488.5 403v7M485 407.5h7M488.5 404v7M485 408.5h7M488.5 405v7M485 410.5h7M488.5 407v7M485 413.5h7M488.5 410v7M486 395.5h7M489.5 392v7M486 397.5h7M489.5 394v7M486 399.5h7M489.5 396v7M486 403.5h7M489.5 400v7M486 406.5h7M489.5 403v7M486 408.5h7M489.5 405v7M486 409.5h7M489.5 406v7M486 410.5h7M489.5 407v7M486 414.5h7M489.5 411v7M487 398.5h7M490.5 395v7M487 406.5h7M490.5 403v7M487 407.5h7M490.5 404v7M487 409.5h7M490.5 406v7M487 411.5h7M490.5 408v7M487 412.5h7M490.5 409v7M487 415.5h7M490.5 412v7M487 416.5h7M490.5 413v7M488 394.5h7M491.5 391v7M488 395.5h7M491.5 392v7M488 397.5h7M491.5 394v7M488 398.5h7M491.5 395v7M488 400.5h7M491.5 397v7M488 407.5h7M491.5 404v7M488 408.5h7M491.5 405v7M488 409.5h7M491.5 406v7M488 410.5h7M491.5 407v7M488 411.5h7M491.5 408v7M488 415.5h7M491.5 412v7M488 416.5h7M491.5 413v7M489 395.5h7M492.5 392v7M489 398.5h7M492.5 395v7M489 399.5h7M492.5 396v7M489 402.5h7M492.5 399v7M489 403.5h7M492.5 400v7M489 404.5h7M492.5 401v7M489 407.5h7M492.5 404v7M489 408.5h7M492.5 405v7M489 411.5h7M492.5 408v7M489 412.5h7M492.5 409v7M489 416.5h7M492.5 413v7M490 395.5h7M493.5 392v7M490 397.5h7M493.5 394v7M490 398.5h7M493.5 395v7M490 400.5h7M493.5 397v7M490 402.5h7M493.5 399v7M490 404.5h7M493.5 401v7M490 405.5h7M493.5 402v7M490 406.5h7M493.5 403v7M490 407.5h7M493.5 404v7M490 408.5h7M493.5 405v7M490 409.5h7M493.5 406v7M490 412.5h7M493.5 409v7M490 413.5h7M493.5 410v7M490 415.5h7M493.5 412v7M491 395.5h7M494.5 392v7M491 396.5h7M494.5 393v7M491 397.5h7M494.5 394v7M491 400.5h7M494.5 397v7M491 402.5h7M494.5 399v7M491 406.5h7M494.5 403v7M491 412.5h7M494.5 409v7M491 413.5h7M494.5 410v7M491 415.5h7M494.5 412v7M492 380.5h7M495.5 377v7M492 390.5h7M495.5 387v7M492 391.5h7M495.5 388v7M492 396.5h7M495.5 393v7M492 402.5h7M495.5 399v7M492 403.5h7M495.5 400v7M492 405.5h7M495.5 402v7M492 406.5h7M495.5 403v7M492 408.5h7M495.5 405v7M492 414.5h7M495.5 411v7M493 391.5h7M496.5 388v7M493 392.5h7M496.5 389v7M493 396.5h7M496.5 393v7M493 399.5h7M496.5 396v7M493 401.5h7M496.5 398v7M493 402.5h7M496.5 399v7M493 404.5h7M496.5 401v7M493 406.5h7M496.5 403v7M493 407.5h7M496.5 404v7M493 408.5h7M496.5 405v7M493 411.5h7M496.5 408v7M493 414.5h7M496.5 411v7M493 415.5h7M496.5 412v7M493 416.5h7M496.5 413v7M494 389.5h7M497.5 386v7M494 391.5h7M497.5 388v7M494 395.5h7M497.5 392v7M494 399.5h7M497.5 396v7M494 401.5h7M497.5 398v7M494 405.5h7M497.5 402v7M494 406.5h7M497.5 403v7M494 407.5h7M497.5 404v7M494 408.5h7M497.5 405v7M495 389.5h7M498.5 386v7M495 390.5h7M498.5 387v7M495 396.5h7M498.5 393v7M495 397.5h7M498.5 394v7M495 400.5h7M498.5 397v7M495 402.5h7M498.5 399v7M495 408.5h7M498.5 405v7M495 409.5h7M498.5 406v7M495 410.5h7M498.5 407v7M495 411.5h7M498.5 408v7M495 415.5h7M498.5 412v7M496 391.5h7M499.5 388v7M496 393.5h7M499.5 390v7M496 401.5h7M499.5 398v7M496 410.5h7M499.5 407v7M496 411.5h7M499.5 408v7M496 413.5h7M499.5 410v7M496 416.5h7M499.5 413v7M497 387.5h7M500.5 384v7M497 389.5h7M500.5 386v7M497 390.5h7M500.5 387v7M497 393.5h7M500.5 390v7M497 395.5h7M500.5 392v7M497 398.5h7M500.5 395v7M497 401.5h7M500.5 398v7M497 408.5h7M500.5 405v7M497 409.5h7M500.5 406v7M497 410.5h7M500.5 407v7M497 413.5h7M500.5 410v7M498 389.5h7M501.5 386v7M498 392.5h7M501.5 389v7M498 399.5h7M501.5 396v7M498 403.5h7M501.5 400v7M498 404.5h7M501.5 401v7M498 409.5h7M501.5 406v7M498 411.5h7M501.5 408v7M498 416.5h7M501.5 413v7M499 389.5h7M502.5 386v7M499 390.5h7M502.5 387v7M499 392.5h7M502.5 389v7M499 393.5h7M502.5 390v7M499 395.5h7M502.5 392v7M499 396.5h7M502.5 393v7M499 398.5h7M502.5 395v7M499 401.5h7M502.5 398v7M499 403.5h7M502.5 400v7M499 406.5h7M502.5 403v7M499 410.5h7M502.5 407v7M500 388.5h7M503.5 385v7M500 391.5h7M503.5 388v7M500 392.5h7M503.5 389v7M500 394.5h7M503.5 391v7M500 400.5h7M503.5 397v7M500 403.5h7M503.5 400v7M500 405.5h7M503.5 402v7M500 407.5h7M503.5 404v7M500 410.5h7M503.5 407v7M500 416.5h7M503.5 413v7M501 388.5h7M504.5 385v7M501 391.5h7M504.5 388v7M501 397.5h7M504.5 394v7M501 401.5h7M504.5 398v7M501 402.5h7M504.5 399v7M501 405.5h7M504.5 402v7M501 406.5h7M504.5 403v7M501 407.5h7M504.5 404v7M502 388.5h7M505.5 385v7M502 393.5h7M505.5 390v7M502 394.5h7M505.5 391v7M502 396.5h7M505.5 393v7M502 398.5h7M505.5 395v7M502 408.5h7M505.5 405v7M503 382.5h7M506.5 379v7M503 388.5h7M506.5 385v7M503 389.5h7M506.5 386v7M503 391.5h7M506.5 388v7M503 392.5h7M506.5 389v7M503 393.5h7M506.5 390v7M503 400.5h7M506.5 397v7M503 401.5h7M506.5 398v7M503 402.5h7M506.5 399v7M503 404.5h7M506.5 401v7M503 406.5h7M506.5 403v7M503 408.5h7M506.5 405v7M503 411.5h7M506.5 408v7M503 412.5h7M506.5 409v7M503 415.5h7M506.5 412v7M504 388.5h7M507.5 385v7M504 391.5h7M507.5 388v7M504 394.5h7M507.5 391v7M504 395.5h7M507.5 392v7M504 397.5h7M507.5 394v7M504 399.5h7M507.5 396v7M504 400.5h7M507.5 397v7M504 401.5h7M507.5 398v7M504 405.5h7M507.5 402v7M504 406.5h7M507.5 403v7M504 414.5h7M507.5 411v7M504 416.5h7M507.5 413v7M505 390.5h7M508.5 387v7M505 393.5h7M508.5 390v7M505 395.5h7M508.5 392v7M505 397.5h7M508.5 394v7M505 402.5h7M508.5 399v7M505 409.5h7M508.5 406v7M505 410.5h7M508.5 407v7M505 416.5h7M508.5 413v7M506 393.5h7M509.5 390v7M506 394.5h7M509.5 391v7M506 395.5h7M509.5 392v7M506 397.5h7M509.5 394v7M506 400.5h7M509.5 397v7M506 401.5h7M509.5 398v7M506 404.5h7M509.5 401v7M506 405.5h7M509.5 402v7M506 406.5h7M509.5 403v7M506 408.5h7M509.5 405v7M506 410.5h7M509.5 407v7M507 388.5h7M510.5 385v7M507 390.5h7M510.5 387v7M507 397.5h7M510.5 394v7M507 400.5h7M510.5 397v7M507 402.5h7M510.5 399v7M507 403.5h7M510.5 400v7M507 406.5h7M510.5 403v7M507 407.5h7M510.5 404v7M507 412.5h7M510.5 409v7M507 416.5h7M510.5 413v7M508 393.5h7M511.5 390v7M508 394.5h7M511.5 391v7M508 395.5h7M511.5 392v7M508 397.5h7M511.5 394v7M508 399.5h7M511.5 396v7M508 400.5h7M511.5 397v7M508 401.5h7M511.5 398v7M508 402.5h7M511.5 399v7M508 405.5h7M511.5 402v7M508 411.5h7M511.5 408v7M508 415.5h7M511.5 412v7M508 416.5h7M511.5 413v7M509 383.5h7M512.5 380v7M509 388.5h7M512.5 385v7M509 393.5h7M512.5 390v7M509 396.5h7M512.5 393v7M509 399.5h7M512.5 396v7M509 404.5h7M512.5 401v7M509 407.5h7M512.5 404v7M509 408.5h7M512.5 405v7M509 410.5h7M512.5 407v7M509 411.5h7M512.5 408v7M509 415.5h7M512.5 412v7M510 384.5h7M513.5 381v7M510 386.5h7M513.5 383v7M510 387.5h7M513.5 384v7M510 388.5h7M513.5 385v7M510 391.5h7M513.5 388v7M510 393.5h7M513.5 390v7M510 400.5h7M513.5 397v7M510 403.5h7M513.5 400v7M510 404.5h7M513.5 401v7M510 405.5h7M513.5 402v7M510 406.5h7M513.5 403v7M510 407.5h7M513.5 404v7M510 408.5h7M513.5 405v7M510 409.5h7M513.5 406v7M510 415.5h7M513.5 412v7M510 416.5h7M513.5 413v7M511 384.5h7M514.5 381v7M511 385.5h7M514.5 382v7M511 389.5h7M514.5 386v7M511 393.5h7M514.5 390v7M511 397.5h7M514.5 394v7M511 398.5h7M514.5 395v7M511 401.5h7M514.5 398v7M511 403.5h7M514.5 400v7M511 404.5h7M514.5 401v7M511 408.5h7M514.5 405v7M511 409.5h7M514.5 406v7M511 413.5h7M514.5 410v7M511 415.5h7M514.5 412v7M511 416.5h7M514.5 413v7M512 385.5h7M515.5 382v7M512 388.5h7M515.5 385v7M512 391.5h7M515.5 388v7M512 392.5h7M515.5 389v7M512 393.5h7M515.5 390v7M512 395.5h7M515.5 392v7M512 397.5h7M515.5 394v7M512 401.5h7M515.5 398v7M512 402.5h7M515.5 399v7M512 403.5h7M515.5 400v7M512 405.5h7M515.5 402v7M512 410.5h7M515.5 407v7M512 412.5h7M515.5 409v7M512 413.5h7M515.5 410v7M513 383.5h7M516.5 380v7M513 390.5h7M516.5 387v7M513 394.5h7M516.5 391v7M513 396.5h7M516.5 393v7M513 398.5h7M516.5 395v7M513 403.5h7M516.5 400v7M513 407.5h7M516.5 404v7M513 409.5h7M516.5 406v7M513 413.5h7M516.5 410v7M513 414.5h7M516.5 411v7M514 374.5h7M517.5 371v7M514 377.5h7M517.5 374v7M514 385.5h7M517.5 382v7M514 386.5h7M517.5 383v7M514 389.5h7M517.5 386v7M514 394.5h7M517.5 391v7M514 396.5h7M517.5 393v7M514 397.5h7M517.5 394v7M514 398.5h7M517.5 395v7M514 402.5h7M517.5 399v7M514 406.5h7M517.5 403v7M514 407.5h7M517.5 404v7M514 409.5h7M517.5 406v7M514 411.5h7M517.5 408v7M514 412.5h7M517.5 409v7M514 415.5h7M517.5 412v7M514 416.5h7M517.5 413v7M515 383.5h7M518.5 380v7M515 384.5h7M518.5 381v7M515 385.5h7M518.5 382v7M515 387.5h7M518.5 384v7M515 388.5h7M518.5 385v7M515 392.5h7M518.5 389v7M515 393.5h7M518.5 390v7M515 394.5h7M518.5 391v7M515 395.5h7M518.5 392v7M515 398.5h7M518.5 395v7M515 400.5h7M518.5 397v7M515 406.5h7M518.5 403v7M515 411.5h7M518.5 408v7M515 415.5h7M518.5 412v7M516 383.5h7M519.5 380v7M516 390.5h7M519.5 387v7M516 392.5h7M519.5 389v7M516 394.5h7M519.5 391v7M516 399.5h7M519.5 396v7M516 408.5h7M519.5 405v7M516 411.5h7M519.5 408v7M516 412.5h7M519.5 409v7M516 415.5h7M519.5 412v7M517 388.5h7M520.5 385v7M517 391.5h7M520.5 388v7M517 392.5h7M520.5 389v7M517 395.5h7M520.5 392v7M517 397.5h7M520.5 394v7M517 398.5h7M520.5 395v7M517 399.5h7M520.5 396v7M517 400.5h7M520.5 397v7M517 407.5h7M520.5 404v7M517 410.5h7M520.5 407v7M517 413.5h7M520.5 410v7M517 416.5h7M520.5 413v7M518 385.5h7M521.5 382v7M518 386.5h7M521.5 383v7M518 388.5h7M521.5 385v7M518 395.5h7M521.5 392v7M518 397.5h7M521.5 394v7M518 400.5h7M521.5 397v7M518 402.5h7M521.5 399v7M518 403.5h7M521.5 400v7M518 407.5h7M521.5 404v7M518 409.5h7M521.5 406v7M518 413.5h7M521.5 410v7M518 414.5h7M521.5 411v7M518 415.5h7M521.5 412v7M519 384.5h7M522.5 381v7M519 385.5h7M522.5 382v7M519 386.5h7M522.5 383v7M519 390.5h7M522.5 387v7M519 394.5h7M522.5 391v7M519 396.5h7M522.5 393v7M519 398.5h7M522.5 395v7M519 399.5h7M522.5 396v7M519 401.5h7M522.5 398v7M519 402.5h7M522.5 399v7M519 403.5h7M522.5 400v7M519 404.5h7M522.5 401v7M519 405.5h7M522.5 402v7M519 407.5h7M522.5 404v7M519 411.5h7M522.5 408v7M519 412.5h7M522.5 409v7M519 413.5h7M522.5 410v7M519 416.5h7M522.5 413v7M520 372.5h7M523.5 369v7M520 387.5h7M523.5 384v7M520 390.5h7M523.5 387v7M520 395.5h7M523.5 392v7M520 404.5h7M523.5 401v7M520 408.5h7M523.5 405v7M520 409.5h7M523.5 406v7M521 379.5h7M524.5 376v7M521 391.5h7M524.5 388v7M521 399.5h7M524.5 396v7M521 404.5h7M524.5 401v7M521 408.5h7M524.5 405v7M521 411.5h7M524.5 408v7M521 412.5h7M524.5 409v7M522 389.5h7M525.5 386v7M522 390.5h7M525.5 387v7M522 392.5h7M525.5 389v7M522 394.5h7M525.5 391v7M522 400.5h7M525.5 397v7M522 403.5h7M525.5 400v7M522 404.5h7M525.5 401v7M522 405.5h7M525.5 402v7M522 409.5h7M525.5 406v7M522 411.5h7M525.5 408v7M522 412.5h7M525.5 409v7M522 415.5h7M525.5 412v7M522 416.5h7M525.5 413v7M523 389.5h7M526.5 386v7M523 390.5h7M526.5 387v7M523 406.5h7M526.5 403v7M523 410.5h7M526.5 407v7M523 413.5h7M526.5 410v7M523 415.5h7M526.5 412v7M524 391.5h7M527.5 388v7M524 402.5h7M527.5 399v7M524 405.5h7M527.5 402v7M524 408.5h7M527.5 405v7M524 411.5h7M527.5 408v7M525 386.5h7M528.5 383v7M525 387.5h7M528.5 384v7M525 388.5h7M528.5 385v7M525 392.5h7M528.5 389v7M525 394.5h7M528.5 391v7M525 395.5h7M528.5 392v7M525 399.5h7M528.5 396v7M525 401.5h7M528.5 398v7M525 403.5h7M528.5 400v7M525 404.5h7M528.5 401v7M525 405.5h7M528.5 402v7M525 407.5h7M528.5 404v7M525 410.5h7M528.5 407v7M525 411.5h7M528.5 408v7M525 412.5h7M528.5 409v7M525 416.5h7M528.5 413v7M526 392.5h7M529.5 389v7M526 393.5h7M529.5 390v7M526 394.5h7M529.5 391v7M526 403.5h7M529.5 400v7M526 404.5h7M529.5 401v7M526 408.5h7M529.5 405v7M526 410.5h7M529.5 407v7M526 412.5h7M529.5 409v7M526 414.5h7M529.5 411v7M526 415.5h7M529.5 412v7M526 416.5h7M529.5 413v7M527 385.5h7M530.5 382v7M527 389.5h7M530.5 386v7M527 390.5h7M530.5 387v7M527 401.5h7M530.5 398v7M527 406.5h7M530.5 403v7M527 407.5h7M530.5 404v7M527 410.5h7M530.5 407v7M527 413.5h7M530.5 410v7M528 387.5h7M531.5 384v7M528 394.5h7M531.5 391v7M528 395.5h7M531.5 392v7M528 397.5h7M531.5 394v7M528 399.5h7M531.5 396v7M528 400.5h7M531.5 397v7M528 401.5h7M531.5 398v7M528 406.5h7M531.5 403v7M528 410.5h7M531.5 407v7M528 412.5h7M531.5 409v7M528 413.5h7M531.5 410v7M528 416.5h7M531.5 413v7M529 390.5h7M532.5 387v7M529 391.5h7M532.5 388v7M529 394.5h7M532.5 391v7M529 397.5h7M532.5 394v7M529 400.5h7M532.5 397v7M529 401.5h7M532.5 398v7M529 402.5h7M532.5 399v7M529 405.5h7M532.5 402v7M529 410.5h7M532.5 407v7M529 413.5h7M532.5 410v7M529 415.5h7M532.5 412v7M530 387.5h7M533.5 384v7M530 393.5h7M533.5 390v7M530 396.5h7M533.5 393v7M530 398.5h7M533.5 395v7M530 399.5h7M533.5 396v7M530 402.5h7M533.5 399v7M530 404.5h7M533.5 401v7M530 405.5h7M533.5 402v7M530 407.5h7M533.5 404v7M530 408.5h7M533.5 405v7M530 409.5h7M533.5 406v7M530 411.5h7M533.5 408v7M530 415.5h7M533.5 412v7M530 416.5h7M533.5 413v7M531 390.5h7M534.5 387v7M531 391.5h7M534.5 388v7M531 393.5h7M534.5 390v7M531 394.5h7M534.5 391v7M531 396.5h7M534.5 393v7M531 398.5h7M534.5 395v7M531 399.5h7M534.5 396v7M531 400.5h7M534.5 397v7M531 402.5h7M534.5 399v7M531 403.5h7M534.5 400v7M531 411.5h7M534.5 408v7M531 413.5h7M534.5 410v7M532 394.5h7M535.5 391v7M532 399.5h7M535.5 396v7M532 401.5h7M535.5 398v7M532 403.5h7M535.5 400v7M532 405.5h7M535.5 402v7M532 407.5h7M535.5 404v7M532 408.5h7M535.5 405v7M532 409.5h7M535.5 406v7M532 410.5h7M535.5 407v7M532 412.5h7M535.5 409v7M532 414.5h7M535.5 411v7M532 415.5h7M535.5 412v7M532 416.5h7M535.5 413v7M533 396.5h7M536.5 393v7M533 402.5h7M536.5 399v7M533 404.5h7M536.5 401v7M533 409.5h7M536.5 406v7M533 413.5h7M536.5 410v7M533 415.5h7M536.5 412v7M533 416.5h7M536.5 413v7M534 394.5h7M537.5 391v7M534 401.5h7M537.5 398v7M534 405.5h7M537.5 402v7M534 406.5h7M537.5 403v7M534 409.5h7M537.5 406v7M534 411.5h7M537.5 408v7M534 416.5h7M537.5 413v7M535 397.5h7M538.5 394v7M535 398.5h7M538.5 395v7M535 402.5h7M538.5 399v7M535 405.5h7M538.5 402v7M535 407.5h7M538.5 404v7M535 408.5h7M538.5 405v7M535 412.5h7M538.5 409v7M535 413.5h7M538.5 410v7M535 414.5h7M538.5 411v7M535 416.5h7M538.5 413v7M536 396.5h7M539.5 393v7M536 397.5h7M539.5 394v7M536 400.5h7M539.5 397v7M536 402.5h7M539.5 399v7M536 404.5h7M539.5 401v7M536 405.5h7M539.5 402v7M536 411.5h7M539.5 408v7M536 412.5h7M539.5 409v7M537 396.5h7M540.5 393v7M537 398.5h7M540.5 395v7M537 399.5h7M540.5 396v7M537 403.5h7M540.5 400v7M537 408.5h7M540.5 405v7M537 411.5h7M540.5 408v7M537 412.5h7M540.5 409v7M537 413.5h7M540.5 410v7M538 398.5h7M541.5 395v7M538 402.5h7M541.5 399v7M538 403.5h7M541.5 400v7M538 404.5h7M541.5 401v7M538 407.5h7M541.5 404v7M539 396.5h7M542.5 393v7M539 397.5h7M542.5 394v7M539 399.5h7M542.5 396v7M539 400.5h7M542.5 397v7M539 401.5h7M542.5 398v7M539 403.5h7M542.5 400v7M539 404.5h7M542.5 401v7M539 409.5h7M542.5 406v7M539 410.5h7M542.5 407v7M539 415.5h7M542.5 412v7M540 395.5h7M543.5 392v7M540 396.5h7M543.5 393v7M540 400.5h7M543.5 397v7M540 401.5h7M543.5 398v7M540 402.5h7M543.5 399v7M540 405.5h7M543.5 402v7M540 407.5h7M543.5 404v7M540 408.5h7M543.5 405v7M540 411.5h7M543.5 408v7M540 413.5h7M543.5 410v7M540 414.5h7M543.5 411v7M541 394.5h7M544.5 391v7M541 395.5h7M544.5 392v7M541 398.5h7M544.5 395v7M541 399.5h7M544.5 396v7M541 400.5h7M544.5 397v7M541 402.5h7M544.5 399v7M541 405.5h7M544.5 402v7M541 407.5h7M544.5 404v7M541 410.5h7M544.5 407v7M542 390.5h7M545.5 387v7M542 394.5h7M545.5 391v7M542 397.5h7M545.5 394v7M542 399.5h7M545.5 396v7M542 400.5h7M545.5 397v7M542 406.5h7M545.5 403v7M542 407.5h7M545.5 404v7M542 408.5h7M545.5 405v7M542 409.5h7M545.5 406v7M542 410.5h7M545.5 407v7M542 411.5h7M545.5 408v7M542 412.5h7M545.5 409v7M542 415.5h7M545.5 412v7M543 398.5h7M546.5 395v7M543 401.5h7M546.5 398v7M543 404.5h7M546.5 401v7M543 406.5h7M546.5 403v7M543 409.5h7M546.5 406v7M543 410.5h7M546.5 407v7M543 411.5h7M546.5 408v7M543 415.5h7M546.5 412v7M543 416.5h7M546.5 413v7M544 395.5h7M547.5 392v7M544 396.5h7M547.5 393v7M544 402.5h7M547.5 399v7M544 404.5h7M547.5 401v7M544 407.5h7M547.5 404v7M544 408.5h7M547.5 405v7M544 409.5h7M547.5 406v7M544 411.5h7M547.5 408v7M544 413.5h7M547.5 410v7M544 414.5h7M547.5 411v7M544 415.5h7M547.5 412v7M544 416.5h7M547.5 413v7M545 395.5h7M548.5 392v7M545 396.5h7M548.5 393v7M545 397.5h7M548.5 394v7M545 403.5h7M548.5 400v7M545 406.5h7M548.5 403v7M545 410.5h7M548.5 407v7M545 411.5h7M548.5 408v7M545 413.5h7M548.5 410v7M545 416.5h7M548.5 413v7M546 394.5h7M549.5 391v7M546 396.5h7M549.5 393v7M546 397.5h7M549.5 394v7M546 399.5h7M549.5 396v7M546 404.5h7M549.5 401v7M546 405.5h7M549.5 402v7M546 407.5h7M549.5 404v7M546 415.5h7M549.5 412v7M547 397.5h7M550.5 394v7M547 400.5h7M550.5 397v7M547 412.5h7M550.5 409v7M547 413.5h7M550.5 410v7M547 414.5h7M550.5 411v7M548 396.5h7M551.5 393v7M548 397.5h7M551.5 394v7M548 399.5h7M551.5 396v7M548 402.5h7M551.5 399v7M548 407.5h7M551.5 404v7M548 409.5h7M551.5 406v7M548 413.5h7M551.5 410v7M548 415.5h7M551.5 412v7M548 416.5h7M551.5 413v7M549 396.5h7M552.5 393v7M549 400.5h7M552.5 397v7M549 403.5h7M552.5 400v7M549 412.5h7M552.5 409v7M550 394.5h7M553.5 391v7M550 397.5h7M553.5 394v7M550 398.5h7M553.5 395v7M550 399.5h7M553.5 396v7M550 406.5h7M553.5 403v7M550 410.5h7M553.5 407v7M550 411.5h7M553.5 408v7M550 414.5h7M553.5 411v7M550 415.5h7M553.5 412v7M550 416.5h7M553.5 413v7M551 390.5h7M554.5 387v7M551 398.5h7M554.5 395v7M551 399.5h7M554.5 396v7M551 407.5h7M554.5 404v7M551 413.5h7M554.5 410v7M551 416.5h7M554.5 413v7M552 398.5h7M555.5 395v7M552 399.5h7M555.5 396v7M552 402.5h7M555.5 399v7M552 403.5h7M555.5 400v7M552 405.5h7M555.5 402v7M552 407.5h7M555.5 404v7M552 409.5h7M555.5 406v7M552 411.5h7M555.5 408v7M552 412.5h7M555.5 409v7M552 413.5h7M555.5 410v7M552 414.5h7M555.5 411v7M552 416.5h7M555.5 413v7M553 395.5h7M556.5 392v7M553 396.5h7M556.5 393v7M553 399.5h7M556.5 396v7M553 406.5h7M556.5 403v7M553 407.5h7M556.5 404v7M553 410.5h7M556.5 407v7M553 411.5h7M556.5 408v7M553 413.5h7M556.5 410v7M553 415.5h7M556.5 412v7M553 416.5h7M556.5 413v7M554 399.5h7M557.5 396v7M554 401.5h7M557.5 398v7M554 404.5h7M557.5 401v7M554 413.5h7M557.5 410v7M554 414.5h7M557.5 411v7M554 415.5h7M557.5 412v7M554 416.5h7M557.5 413v7M555 401.5h7M558.5 398v7M555 405.5h7M558.5 402v7M555 406.5h7M558.5 403v7M555 407.5h7M558.5 404v7M555 409.5h7M558.5 406v7M555 412.5h7M558.5 409v7M555 413.5h7M558.5 410v7M556 404.5h7M559.5 401v7M556 406.5h7M559.5 403v7M556 407.5h7M559.5 404v7M556 408.5h7M559.5 405v7M556 409.5h7M559.5 406v7M556 412.5h7M559.5 409v7M556 414.5h7M559.5 411v7M557 401.5h7M560.5 398v7M557 403.5h7M560.5 400v7M557 405.5h7M560.5 402v7M557 409.5h7M560.5 406v7M557 410.5h7M560.5 407v7M557 411.5h7M560.5 408v7M557 412.5h7M560.5 409v7M557 413.5h7M560.5 410v7M557 414.5h7M560.5 411v7M557 416.5h7M560.5 413v7M558 400.5h7M561.5 397v7M558 401.5h7M561.5 398v7M558 402.5h7M561.5 399v7M558 405.5h7M561.5 402v7M558 411.5h7M561.5 408v7M558 412.5h7M561.5 409v7M558 413.5h7M561.5 410v7M559 401.5h7M562.5 398v7M559 402.5h7M562.5 399v7M559 404.5h7M562.5 401v7M559 410.5h7M562.5 407v7M559 412.5h7M562.5 409v7M559 413.5h7M562.5 410v7M559 416.5h7M562.5 413v7M560 396.5h7M563.5 393v7M560 398.5h7M563.5 395v7M560 403.5h7M563.5 400v7M560 406.5h7M563.5 403v7M560 411.5h7M563.5 408v7M560 413.5h7M563.5 410v7M560 416.5h7M563.5 413v7M561 396.5h7M564.5 393v7M561 397.5h7M564.5 394v7M561 399.5h7M564.5 396v7M561 405.5h7M564.5 402v7M561 407.5h7M564.5 404v7M561 412.5h7M564.5 409v7M561 413.5h7M564.5 410v7M561 415.5h7M564.5 412v7M561 416.5h7M564.5 413v7M562 402.5h7M565.5 399v7M562 403.5h7M565.5 400v7M562 404.5h7M565.5 401v7M562 405.5h7M565.5 402v7M562 406.5h7M565.5 403v7M562 407.5h7M565.5 404v7M562 408.5h7M565.5 405v7M562 410.5h7M565.5 407v7M562 412.5h7M565.5 409v7M562 413.5h7M565.5 410v7M562 415.5h7M565.5 412v7M562 416.5h7M565.5 413v7M563 397.5h7M566.5 394v7M563 398.5h7M566.5 395v7M563 402.5h7M566.5 399v7M563 405.5h7M566.5 402v7M563 406.5h7M566.5 403v7M563 408.5h7M566.5 405v7M563 412.5h7M566.5 409v7M563 413.5h7M566.5 410v7M564 397.5h7M567.5 394v7M564 398.5h7M567.5 395v7M564 399.5h7M567.5 396v7M564 406.5h7M567.5 403v7M564 407.5h7M567.5 404v7M564 408.5h7M567.5 405v7M564 409.5h7M567.5 406v7M564 410.5h7M567.5 407v7M564 411.5h7M567.5 408v7M565 396.5h7M568.5 393v7M565 397.5h7M568.5 394v7M565 399.5h7M568.5 396v7M565 400.5h7M568.5 397v7M565 402.5h7M568.5 399v7M565 405.5h7M568.5 402v7M565 406.5h7M568.5 403v7M565 408.5h7M568.5 405v7M565 410.5h7M568.5 407v7M565 411.5h7M568.5 408v7M565 415.5h7M568.5 412v7M565 416.5h7M568.5 413v7M566 390.5h7M569.5 387v7M566 394.5h7M569.5 391v7M566 396.5h7M569.5 393v7M566 398.5h7M569.5 395v7M566 401.5h7M569.5 398v7M566 402.5h7M569.5 399v7M566 403.5h7M569.5 400v7M566 405.5h7M569.5 402v7M566 407.5h7M569.5 404v7M566 409.5h7M569.5 406v7M566 410.5h7M569.5 407v7M566 412.5h7M569.5 409v7M566 413.5h7M569.5 410v7M567 362.5h7M570.5 359v7M567 367.5h7M570.5 364v7M567 376.5h7M570.5 373v7M567 398.5h7M570.5 395v7M567 400.5h7M570.5 397v7M567 404.5h7M570.5 401v7M567 407.5h7M570.5 404v7M567 408.5h7M570.5 405v7M567 412.5h7M570.5 409v7M567 413.5h7M570.5 410v7M567 416.5h7M570.5 413v7M568 361.5h7M571.5 358v7M568 369.5h7M571.5 366v7M568 374.5h7M571.5 371v7M568 384.5h7M571.5 381v7M568 398.5h7M571.5 395v7M568 399.5h7M571.5 396v7M568 403.5h7M571.5 400v7M568 404.5h7M571.5 401v7M568 407.5h7M571.5 404v7M568 409.5h7M571.5 406v7M568 412.5h7M571.5 409v7M568 415.5h7M571.5 412v7M568 416.5h7M571.5 413v7M569 350.5h7M572.5 347v7M569 360.5h7M572.5 357v7M569 368.5h7M572.5 365v7M569 398.5h7M572.5 395v7M569 401.5h7M572.5 398v7M569 402.5h7M572.5 399v7M569 404.5h7M572.5 401v7M569 408.5h7M572.5 405v7M569 410.5h7M572.5 407v7M569 412.5h7M572.5 409v7M569 413.5h7M572.5 410v7M569 415.5h7M572.5 412v7M570 362.5h7M573.5 359v7M570 402.5h7M573.5 399v7M570 404.5h7M573.5 401v7M570 408.5h7M573.5 405v7M570 409.5h7M573.5 406v7M570 415.5h7M573.5 412v7M570 416.5h7M573.5 413v7M571 399.5h7M574.5 396v7M571 404.5h7M574.5 401v7M571 405.5h7M574.5 402v7M571 407.5h7M574.5 404v7M571 414.5h7M574.5 411v7M571 415.5h7M574.5 412v7M572 396.5h7M575.5 393v7M572 398.5h7M575.5 395v7M572 404.5h7M575.5 401v7M572 405.5h7M575.5 402v7M572 406.5h7M575.5 403v7M572 416.5h7M575.5 413v7M573 395.5h7M576.5 392v7M573 400.5h7M576.5 397v7M573 401.5h7M576.5 398v7M573 405.5h7M576.5 402v7M574 395.5h7M577.5 392v7M574 397.5h7M577.5 394v7M574 398.5h7M577.5 395v7M574 399.5h7M577.5 396v7M574 401.5h7M577.5 398v7M574 402.5h7M577.5 399v7M574 405.5h7M577.5 402v7M574 407.5h7M577.5 404v7M574 408.5h7M577.5 405v7M574 413.5h7M577.5 410v7M574 415.5h7M577.5 412v7M575 394.5h7M578.5 391v7M575 398.5h7M578.5 395v7M575 400.5h7M578.5 397v7M575 404.5h7M578.5 401v7M575 407.5h7M578.5 404v7M575 408.5h7M578.5 405v7M575 410.5h7M578.5 407v7M575 411.5h7M578.5 408v7M576 393.5h7M579.5 390v7M576 395.5h7M579.5 392v7M576 396.5h7M579.5 393v7M576 401.5h7M579.5 398v7M576 402.5h7M579.5 399v7M576 406.5h7M579.5 403v7M576 407.5h7M579.5 404v7M576 408.5h7M579.5 405v7M576 411.5h7M579.5 408v7M576 412.5h7M579.5 409v7M576 413.5h7M579.5 410v7M577 392.5h7M580.5 389v7M577 396.5h7M580.5 393v7M577 398.5h7M580.5 395v7M577 400.5h7M580.5 397v7M577 410.5h7M580.5 407v7M577 413.5h7M580.5 410v7M578 384.5h7M581.5 381v7M578 385.5h7M581.5 382v7M578 389.5h7M581.5 386v7M578 395.5h7M581.5 392v7M578 396.5h7M581.5 393v7M578 401.5h7M581.5 398v7M578 402.5h7M581.5 399v7M578 405.5h7M581.5 402v7M578 411.5h7M581.5 408v7M578 412.5h7M581.5 409v7M578 413.5h7M581.5 410v7M578 414.5h7M581.5 411v7M579 387.5h7M582.5 384v7M579 400.5h7M582.5 397v7M579 401.5h7M582.5 398v7M579 404.5h7M582.5 401v7M579 406.5h7M582.5 403v7M579 407.5h7M582.5 404v7M579 412.5h7M582.5 409v7M579 413.5h7M582.5 410v7M579 414.5h7M582.5 411v7M580 386.5h7M583.5 383v7M580 393.5h7M583.5 390v7M580 397.5h7M583.5 394v7M580 401.5h7M583.5 398v7M580 402.5h7M583.5 399v7M580 404.5h7M583.5 401v7M580 407.5h7M583.5 404v7M580 408.5h7M583.5 405v7M580 409.5h7M583.5 406v7M580 412.5h7M583.5 409v7M580 413.5h7M583.5 410v7M580 414.5h7M583.5 411v7M581 392.5h7M584.5 389v7M581 394.5h7M584.5 391v7M581 395.5h7M584.5 392v7M581 396.5h7M584.5 393v7M581 397.5h7M584.5 394v7M581 398.5h7M584.5 395v7M581 400.5h7M584.5 397v7M581 401.5h7M584.5 398v7M581 403.5h7M584.5 400v7M581 404.5h7M584.5 401v7M581 405.5h7M584.5 402v7M581 407.5h7M584.5 404v7M581 408.5h7M584.5 405v7M581 409.5h7M584.5 406v7M581 410.5h7M584.5 407v7M581 411.5h7M584.5 408v7M581 414.5h7M584.5 411v7M581 415.5h7M584.5 412v7M581 416.5h7M584.5 413v7" stroke="#f00" stroke-width="1" fill="none" shape-rendering="crispEdges" stroke-linecap="butt"/></g>
<g stroke="#000" stroke-width="1" shape-rendering="crispEdges" fill="none">
<rect x="94.5" y="57.5" width="515" height="362"/>
</g>
<text x="79.6" y="424.2" text-anchor="end" style="letter-spacing:0.05px">0</text>
<text x="79.6" y="384.2" text-anchor="end" style="letter-spacing:0.05px">0.05</text>
<text x="79.6" y="344.2" text-anchor="end" style="letter-spacing:0.05px">0.1</text>
<text x="79.6" y="303.2" text-anchor="end" style="letter-spacing:0.05px">0.15</text>
<text x="79.6" y="263.2" text-anchor="end" style="letter-spacing:0.05px">0.2</text>
<text x="79.6" y="223.2" text-anchor="end" style="letter-spacing:0.05px">0.25</text>
<text x="79.6" y="183.2" text-anchor="end" style="letter-spacing:0.05px">0.3</text>
<text x="79.6" y="142.2" text-anchor="end" style="letter-spacing:0.05px">0.35</text>
<text x="79.6" y="102.2" text-anchor="end" style="letter-spacing:0.05px">0.4</text>
<text x="79.6" y="62.2" text-anchor="end" style="letter-spacing:0.05px">0.45</text>
<text x="94.5" y="443.5" text-anchor="middle">0</text>
<text x="197.5" y="443.5" text-anchor="middle">5</text>
<text x="300.5" y="443.5" text-anchor="middle">10</text>
<text x="403.5" y="443.5" text-anchor="middle">15</text>
<text x="506.5" y="443.5" text-anchor="middle">20</text>
<text x="609.5" y="443.5" text-anchor="middle">25</text>
<text x="349" y="33" text-anchor="middle" style="letter-spacing:0.33px">Day 013 of 2016, Rate Of TEC Index for receiver cn05</text>
<text x="349.3" y="471.5" text-anchor="middle">GPS time / hours</text>
<text transform="translate(19,239.5) rotate(-90)" text-anchor="middle" style="letter-spacing:0.43px">ROTI / TECUs</text>
</svg>
</body></html>
